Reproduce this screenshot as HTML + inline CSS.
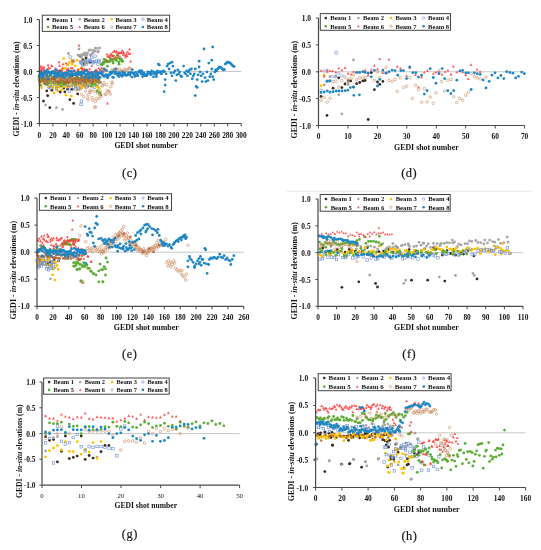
<!DOCTYPE html>
<html><head><meta charset="utf-8"><style>
html,body{margin:0;padding:0;background:#fff;}
svg{display:block;filter:blur(0.25px);}
</style></head><body>
<svg width="541" height="550" viewBox="0 0 541 550" style="font-family:'Liberation Serif',serif" fill="#111">
<rect width="541" height="550" fill="#fff"/>
<line x1="286.8" y1="191.3" x2="531.6" y2="191.3" stroke="#e6e6e6" stroke-width="1"/>
<line x1="39.4" y1="71.5" x2="241.2" y2="71.5" stroke="#c8c8c8" stroke-width="1"/>
<circle cx="46.8" cy="90.9" r="1.4" fill="#3a2a20"/>
<circle cx="47.7" cy="95.7" r="1.4" fill="#3a2a20"/>
<circle cx="43.5" cy="101.1" r="1.4" fill="#3a2a20"/>
<circle cx="49.8" cy="107.7" r="1.4" fill="#3a2a20"/>
<circle cx="60.2" cy="92.0" r="1.4" fill="#3a2a20"/>
<circle cx="64.8" cy="91.8" r="1.4" fill="#3a2a20"/>
<circle cx="67.6" cy="89.2" r="1.4" fill="#3a2a20"/>
<circle cx="69.9" cy="99.7" r="1.4" fill="#3a2a20"/>
<circle cx="73.6" cy="103.4" r="1.4" fill="#3a2a20"/>
<circle cx="75.9" cy="83.7" r="1.4" fill="#3a2a20"/>
<circle cx="77.7" cy="93.9" r="1.4" fill="#3a2a20"/>
<circle cx="63.9" cy="88.1" r="1.4" fill="#3a2a20"/>
<circle cx="51.9" cy="90.2" r="1.4" fill="#3a2a20"/>
<circle cx="80.0" cy="56.0" r="1.4" fill="#3a2a20"/>
<circle cx="83.0" cy="60.0" r="1.4" fill="#3a2a20"/>
<circle cx="86.0" cy="58.0" r="1.4" fill="#3a2a20"/>
<circle cx="90.0" cy="62.0" r="1.4" fill="#3a2a20"/>
<circle cx="84.0" cy="64.0" r="1.4" fill="#3a2a20"/>
<circle cx="72.0" cy="76.0" r="1.4" fill="#3a2a20"/>
<circle cx="55.0" cy="80.0" r="1.4" fill="#3a2a20"/>
<circle cx="48.0" cy="78.0" r="1.4" fill="#3a2a20"/>
<circle cx="40.9" cy="72.2" r="1.4" fill="#3a2a20"/>
<circle cx="43.3" cy="75.9" r="1.4" fill="#3a2a20"/>
<circle cx="45.9" cy="75.3" r="1.4" fill="#3a2a20"/>
<circle cx="48.0" cy="83.0" r="1.4" fill="#3a2a20"/>
<circle cx="49.3" cy="73.1" r="1.4" fill="#3a2a20"/>
<circle cx="53.6" cy="78.5" r="1.4" fill="#3a2a20"/>
<circle cx="55.7" cy="77.0" r="1.4" fill="#3a2a20"/>
<circle cx="57.9" cy="72.7" r="1.4" fill="#3a2a20"/>
<circle cx="59.9" cy="70.8" r="1.4" fill="#3a2a20"/>
<circle cx="61.7" cy="82.4" r="1.4" fill="#3a2a20"/>
<circle cx="65.1" cy="82.5" r="1.4" fill="#3a2a20"/>
<circle cx="65.5" cy="82.4" r="1.4" fill="#3a2a20"/>
<circle cx="68.4" cy="81.7" r="1.4" fill="#3a2a20"/>
<circle cx="72.0" cy="89.3" r="1.4" fill="#3a2a20"/>
<circle cx="74.3" cy="74.8" r="1.4" fill="#3a2a20"/>
<circle cx="75.4" cy="85.3" r="1.4" fill="#3a2a20"/>
<circle cx="78.9" cy="78.9" r="1.4" fill="#3a2a20"/>
<circle cx="81.6" cy="78.2" r="1.4" fill="#3a2a20"/>
<circle cx="83.7" cy="73.2" r="1.4" fill="#3a2a20"/>
<circle cx="85.0" cy="78.3" r="1.4" fill="#3a2a20"/>
<circle cx="88.0" cy="86.0" r="1.4" fill="#3a2a20"/>
<circle cx="89.4" cy="75.3" r="1.4" fill="#3a2a20"/>
<circle cx="92.0" cy="75.7" r="1.4" fill="#3a2a20"/>
<circle cx="94.0" cy="76.5" r="1.4" fill="#3a2a20"/>
<circle cx="96.1" cy="72.0" r="1.4" fill="#3a2a20"/>
<circle cx="45.6" cy="105.1" r="1.4" fill="#a6a6a6"/>
<circle cx="56.5" cy="107.7" r="1.4" fill="#a6a6a6"/>
<circle cx="62.5" cy="109.4" r="1.4" fill="#a6a6a6"/>
<circle cx="81.4" cy="87.4" r="1.4" fill="#a6a6a6"/>
<circle cx="68.5" cy="53.5" r="1.4" fill="#a6a6a6"/>
<circle cx="79.0" cy="49.0" r="1.4" fill="#a6a6a6"/>
<circle cx="78.0" cy="55.2" r="1.4" fill="#a6a6a6"/>
<circle cx="79.1" cy="55.6" r="1.4" fill="#a6a6a6"/>
<circle cx="80.7" cy="55.0" r="1.4" fill="#a6a6a6"/>
<circle cx="81.6" cy="57.8" r="1.4" fill="#a6a6a6"/>
<circle cx="81.7" cy="56.0" r="1.4" fill="#a6a6a6"/>
<circle cx="83.1" cy="54.2" r="1.4" fill="#a6a6a6"/>
<circle cx="84.3" cy="54.9" r="1.4" fill="#a6a6a6"/>
<circle cx="84.7" cy="52.9" r="1.4" fill="#a6a6a6"/>
<circle cx="85.4" cy="55.3" r="1.4" fill="#a6a6a6"/>
<circle cx="86.9" cy="55.4" r="1.4" fill="#a6a6a6"/>
<circle cx="87.3" cy="53.2" r="1.4" fill="#a6a6a6"/>
<circle cx="89.0" cy="50.6" r="1.4" fill="#a6a6a6"/>
<circle cx="89.8" cy="49.9" r="1.4" fill="#a6a6a6"/>
<circle cx="90.4" cy="55.0" r="1.4" fill="#a6a6a6"/>
<circle cx="91.6" cy="54.4" r="1.4" fill="#a6a6a6"/>
<circle cx="92.5" cy="50.2" r="1.4" fill="#a6a6a6"/>
<circle cx="93.1" cy="52.7" r="1.4" fill="#a6a6a6"/>
<circle cx="94.4" cy="51.2" r="1.4" fill="#a6a6a6"/>
<circle cx="95.0" cy="51.0" r="1.4" fill="#a6a6a6"/>
<circle cx="95.4" cy="48.2" r="1.4" fill="#a6a6a6"/>
<circle cx="96.6" cy="48.3" r="1.4" fill="#a6a6a6"/>
<circle cx="97.8" cy="52.1" r="1.4" fill="#a6a6a6"/>
<circle cx="98.3" cy="51.2" r="1.4" fill="#a6a6a6"/>
<circle cx="99.5" cy="48.0" r="1.4" fill="#a6a6a6"/>
<circle cx="42.7" cy="73.9" r="1.4" fill="#a6a6a6"/>
<circle cx="44.4" cy="75.5" r="1.4" fill="#a6a6a6"/>
<circle cx="46.4" cy="75.3" r="1.4" fill="#a6a6a6"/>
<circle cx="50.5" cy="74.6" r="1.4" fill="#a6a6a6"/>
<circle cx="52.5" cy="72.8" r="1.4" fill="#a6a6a6"/>
<circle cx="55.9" cy="76.7" r="1.4" fill="#a6a6a6"/>
<circle cx="58.6" cy="73.8" r="1.4" fill="#a6a6a6"/>
<circle cx="62.9" cy="76.8" r="1.4" fill="#a6a6a6"/>
<circle cx="64.5" cy="81.4" r="1.4" fill="#a6a6a6"/>
<circle cx="69.3" cy="77.6" r="1.4" fill="#a6a6a6"/>
<circle cx="70.7" cy="71.2" r="1.4" fill="#a6a6a6"/>
<circle cx="75.8" cy="78.8" r="1.4" fill="#a6a6a6"/>
<circle cx="76.1" cy="78.5" r="1.4" fill="#a6a6a6"/>
<circle cx="79.4" cy="74.5" r="1.4" fill="#a6a6a6"/>
<circle cx="82.3" cy="74.0" r="1.4" fill="#a6a6a6"/>
<circle cx="87.8" cy="74.5" r="1.4" fill="#a6a6a6"/>
<circle cx="90.7" cy="76.1" r="1.4" fill="#a6a6a6"/>
<circle cx="92.0" cy="73.9" r="1.4" fill="#a6a6a6"/>
<circle cx="95.2" cy="77.1" r="1.4" fill="#a6a6a6"/>
<circle cx="99.3" cy="76.9" r="1.4" fill="#a6a6a6"/>
<circle cx="54.2" cy="92.9" r="1.4" fill="#ffc000"/>
<circle cx="56.5" cy="89.2" r="1.4" fill="#ffc000"/>
<circle cx="57.9" cy="91.1" r="1.4" fill="#ffc000"/>
<circle cx="62.0" cy="89.7" r="1.4" fill="#ffc000"/>
<circle cx="63.9" cy="86.5" r="1.4" fill="#ffc000"/>
<circle cx="71.3" cy="96.2" r="1.4" fill="#ffc000"/>
<circle cx="72.2" cy="85.1" r="1.4" fill="#ffc000"/>
<circle cx="50.9" cy="86.0" r="1.4" fill="#ffc000"/>
<circle cx="67.6" cy="85.1" r="1.4" fill="#ffc000"/>
<circle cx="53.0" cy="88.0" r="1.4" fill="#ffc000"/>
<circle cx="60.0" cy="87.0" r="1.4" fill="#ffc000"/>
<circle cx="66.0" cy="95.0" r="1.4" fill="#ffc000"/>
<circle cx="39.8" cy="84.6" r="1.4" fill="#ffc000"/>
<circle cx="40.5" cy="82.2" r="1.4" fill="#ffc000"/>
<circle cx="41.7" cy="87.8" r="1.4" fill="#ffc000"/>
<circle cx="43.2" cy="80.8" r="1.4" fill="#ffc000"/>
<circle cx="44.3" cy="81.4" r="1.4" fill="#ffc000"/>
<circle cx="45.0" cy="84.0" r="1.4" fill="#ffc000"/>
<circle cx="46.3" cy="83.5" r="1.4" fill="#ffc000"/>
<circle cx="47.4" cy="77.7" r="1.4" fill="#ffc000"/>
<circle cx="48.7" cy="86.8" r="1.4" fill="#ffc000"/>
<circle cx="49.9" cy="86.9" r="1.4" fill="#ffc000"/>
<circle cx="50.9" cy="83.4" r="1.4" fill="#ffc000"/>
<circle cx="51.2" cy="84.0" r="1.4" fill="#ffc000"/>
<circle cx="52.7" cy="87.1" r="1.4" fill="#ffc000"/>
<circle cx="53.7" cy="83.0" r="1.4" fill="#ffc000"/>
<circle cx="55.4" cy="85.2" r="1.4" fill="#ffc000"/>
<circle cx="56.5" cy="85.1" r="1.4" fill="#ffc000"/>
<circle cx="56.8" cy="86.8" r="1.4" fill="#ffc000"/>
<circle cx="58.9" cy="86.8" r="1.4" fill="#ffc000"/>
<circle cx="59.2" cy="85.1" r="1.4" fill="#ffc000"/>
<circle cx="60.5" cy="85.9" r="1.4" fill="#ffc000"/>
<circle cx="62.0" cy="83.5" r="1.4" fill="#ffc000"/>
<circle cx="62.3" cy="82.9" r="1.4" fill="#ffc000"/>
<circle cx="64.4" cy="80.6" r="1.4" fill="#ffc000"/>
<circle cx="65.2" cy="86.3" r="1.4" fill="#ffc000"/>
<circle cx="66.2" cy="82.8" r="1.4" fill="#ffc000"/>
<circle cx="67.5" cy="86.7" r="1.4" fill="#ffc000"/>
<circle cx="68.4" cy="86.4" r="1.4" fill="#ffc000"/>
<circle cx="69.7" cy="82.3" r="1.4" fill="#ffc000"/>
<circle cx="70.9" cy="86.4" r="1.4" fill="#ffc000"/>
<circle cx="72.1" cy="84.3" r="1.4" fill="#ffc000"/>
<circle cx="72.9" cy="83.1" r="1.4" fill="#ffc000"/>
<circle cx="73.5" cy="84.6" r="1.4" fill="#ffc000"/>
<circle cx="75.5" cy="86.5" r="1.4" fill="#ffc000"/>
<circle cx="76.4" cy="83.4" r="1.4" fill="#ffc000"/>
<circle cx="76.9" cy="90.0" r="1.4" fill="#ffc000"/>
<circle cx="78.6" cy="84.6" r="1.4" fill="#ffc000"/>
<circle cx="79.4" cy="85.6" r="1.4" fill="#ffc000"/>
<circle cx="80.4" cy="87.6" r="1.4" fill="#ffc000"/>
<circle cx="81.8" cy="88.0" r="1.4" fill="#ffc000"/>
<circle cx="83.2" cy="85.4" r="1.4" fill="#ffc000"/>
<circle cx="83.5" cy="84.7" r="1.4" fill="#ffc000"/>
<circle cx="84.8" cy="86.5" r="1.4" fill="#ffc000"/>
<circle cx="86.5" cy="82.2" r="1.4" fill="#ffc000"/>
<circle cx="87.3" cy="85.6" r="1.4" fill="#ffc000"/>
<circle cx="88.2" cy="83.2" r="1.4" fill="#ffc000"/>
<circle cx="89.4" cy="83.4" r="1.4" fill="#ffc000"/>
<circle cx="90.4" cy="81.1" r="1.4" fill="#ffc000"/>
<circle cx="91.4" cy="82.9" r="1.4" fill="#ffc000"/>
<circle cx="92.6" cy="86.6" r="1.4" fill="#ffc000"/>
<circle cx="93.5" cy="82.6" r="1.4" fill="#ffc000"/>
<circle cx="95.4" cy="83.1" r="1.4" fill="#ffc000"/>
<circle cx="95.8" cy="84.3" r="1.4" fill="#ffc000"/>
<circle cx="97.3" cy="86.3" r="1.4" fill="#ffc000"/>
<circle cx="98.2" cy="87.2" r="1.4" fill="#ffc000"/>
<circle cx="99.1" cy="88.7" r="1.4" fill="#ffc000"/>
<circle cx="62.3" cy="69.2" r="1.4" fill="#ffc000"/>
<circle cx="63.8" cy="58.6" r="1.4" fill="#ffc000"/>
<circle cx="65.1" cy="68.3" r="1.4" fill="#ffc000"/>
<circle cx="67.4" cy="65.2" r="1.4" fill="#ffc000"/>
<circle cx="68.0" cy="64.7" r="1.4" fill="#ffc000"/>
<circle cx="69.3" cy="62.4" r="1.4" fill="#ffc000"/>
<circle cx="71.6" cy="60.5" r="1.4" fill="#ffc000"/>
<circle cx="72.2" cy="64.0" r="1.4" fill="#ffc000"/>
<circle cx="73.6" cy="61.0" r="1.4" fill="#ffc000"/>
<circle cx="75.3" cy="65.8" r="1.4" fill="#ffc000"/>
<circle cx="77.0" cy="60.4" r="1.4" fill="#ffc000"/>
<circle cx="78.6" cy="69.4" r="1.4" fill="#ffc000"/>
<circle cx="80.2" cy="61.6" r="1.4" fill="#ffc000"/>
<circle cx="81.7" cy="68.1" r="1.4" fill="#ffc000"/>
<circle cx="83.6" cy="61.2" r="1.4" fill="#ffc000"/>
<circle cx="83.8" cy="69.1" r="1.4" fill="#ffc000"/>
<circle cx="85.4" cy="63.7" r="1.4" fill="#ffc000"/>
<circle cx="87.1" cy="62.9" r="1.4" fill="#ffc000"/>
<rect x="49.6" y="87.0" width="2.5" height="2.5" fill="none" stroke="#6a8ed8" stroke-width="0.6"/>
<rect x="68.2" y="89.8" width="2.5" height="2.5" fill="none" stroke="#6a8ed8" stroke-width="0.6"/>
<rect x="74.7" y="87.5" width="2.5" height="2.5" fill="none" stroke="#6a8ed8" stroke-width="0.6"/>
<rect x="77.5" y="88.0" width="2.5" height="2.5" fill="none" stroke="#6a8ed8" stroke-width="0.6"/>
<rect x="80.2" y="100.0" width="2.5" height="2.5" fill="none" stroke="#6a8ed8" stroke-width="0.6"/>
<rect x="79.8" y="103.2" width="2.5" height="2.5" fill="none" stroke="#6a8ed8" stroke-width="0.6"/>
<rect x="76.5" y="82.5" width="2.5" height="2.5" fill="none" stroke="#6a8ed8" stroke-width="0.6"/>
<rect x="55.2" y="83.0" width="2.5" height="2.5" fill="none" stroke="#6a8ed8" stroke-width="0.6"/>
<rect x="71.8" y="59.8" width="2.5" height="2.5" fill="none" stroke="#6a8ed8" stroke-width="0.6"/>
<rect x="68.8" y="55.8" width="2.5" height="2.5" fill="none" stroke="#6a8ed8" stroke-width="0.6"/>
<rect x="39.3" y="77.4" width="2.5" height="2.5" fill="none" stroke="#6a8ed8" stroke-width="0.6"/>
<rect x="40.9" y="77.9" width="2.5" height="2.5" fill="none" stroke="#6a8ed8" stroke-width="0.6"/>
<rect x="44.5" y="81.9" width="2.5" height="2.5" fill="none" stroke="#6a8ed8" stroke-width="0.6"/>
<rect x="45.7" y="82.9" width="2.5" height="2.5" fill="none" stroke="#6a8ed8" stroke-width="0.6"/>
<rect x="47.9" y="85.9" width="2.5" height="2.5" fill="none" stroke="#6a8ed8" stroke-width="0.6"/>
<rect x="51.2" y="83.0" width="2.5" height="2.5" fill="none" stroke="#6a8ed8" stroke-width="0.6"/>
<rect x="54.1" y="81.3" width="2.5" height="2.5" fill="none" stroke="#6a8ed8" stroke-width="0.6"/>
<rect x="55.4" y="87.6" width="2.5" height="2.5" fill="none" stroke="#6a8ed8" stroke-width="0.6"/>
<rect x="59.5" y="82.8" width="2.5" height="2.5" fill="none" stroke="#6a8ed8" stroke-width="0.6"/>
<rect x="62.0" y="75.9" width="2.5" height="2.5" fill="none" stroke="#6a8ed8" stroke-width="0.6"/>
<rect x="64.0" y="82.9" width="2.5" height="2.5" fill="none" stroke="#6a8ed8" stroke-width="0.6"/>
<rect x="66.4" y="82.9" width="2.5" height="2.5" fill="none" stroke="#6a8ed8" stroke-width="0.6"/>
<rect x="67.5" y="86.5" width="2.5" height="2.5" fill="none" stroke="#6a8ed8" stroke-width="0.6"/>
<rect x="70.0" y="82.9" width="2.5" height="2.5" fill="none" stroke="#6a8ed8" stroke-width="0.6"/>
<rect x="72.6" y="86.1" width="2.5" height="2.5" fill="none" stroke="#6a8ed8" stroke-width="0.6"/>
<rect x="76.7" y="86.8" width="2.5" height="2.5" fill="none" stroke="#6a8ed8" stroke-width="0.6"/>
<rect x="78.2" y="75.6" width="2.5" height="2.5" fill="none" stroke="#6a8ed8" stroke-width="0.6"/>
<rect x="80.0" y="81.0" width="2.5" height="2.5" fill="none" stroke="#6a8ed8" stroke-width="0.6"/>
<rect x="83.9" y="81.7" width="2.5" height="2.5" fill="none" stroke="#6a8ed8" stroke-width="0.6"/>
<rect x="85.5" y="85.6" width="2.5" height="2.5" fill="none" stroke="#6a8ed8" stroke-width="0.6"/>
<rect x="88.7" y="84.2" width="2.5" height="2.5" fill="none" stroke="#6a8ed8" stroke-width="0.6"/>
<rect x="89.6" y="80.9" width="2.5" height="2.5" fill="none" stroke="#6a8ed8" stroke-width="0.6"/>
<rect x="93.3" y="86.0" width="2.5" height="2.5" fill="none" stroke="#6a8ed8" stroke-width="0.6"/>
<rect x="95.7" y="82.7" width="2.5" height="2.5" fill="none" stroke="#6a8ed8" stroke-width="0.6"/>
<rect x="98.7" y="81.1" width="2.5" height="2.5" fill="none" stroke="#6a8ed8" stroke-width="0.6"/>
<rect x="79.2" y="60.9" width="2.5" height="2.5" fill="none" stroke="#6a8ed8" stroke-width="0.6"/>
<rect x="80.5" y="61.6" width="2.5" height="2.5" fill="none" stroke="#6a8ed8" stroke-width="0.6"/>
<rect x="81.5" y="64.0" width="2.5" height="2.5" fill="none" stroke="#6a8ed8" stroke-width="0.6"/>
<rect x="81.8" y="62.6" width="2.5" height="2.5" fill="none" stroke="#6a8ed8" stroke-width="0.6"/>
<rect x="83.1" y="60.2" width="2.5" height="2.5" fill="none" stroke="#6a8ed8" stroke-width="0.6"/>
<rect x="84.3" y="59.4" width="2.5" height="2.5" fill="none" stroke="#6a8ed8" stroke-width="0.6"/>
<rect x="85.0" y="62.9" width="2.5" height="2.5" fill="none" stroke="#6a8ed8" stroke-width="0.6"/>
<rect x="86.1" y="60.9" width="2.5" height="2.5" fill="none" stroke="#6a8ed8" stroke-width="0.6"/>
<rect x="86.8" y="59.1" width="2.5" height="2.5" fill="none" stroke="#6a8ed8" stroke-width="0.6"/>
<rect x="88.5" y="59.2" width="2.5" height="2.5" fill="none" stroke="#6a8ed8" stroke-width="0.6"/>
<rect x="89.1" y="61.3" width="2.5" height="2.5" fill="none" stroke="#6a8ed8" stroke-width="0.6"/>
<rect x="90.6" y="56.2" width="2.5" height="2.5" fill="none" stroke="#6a8ed8" stroke-width="0.6"/>
<rect x="91.3" y="60.4" width="2.5" height="2.5" fill="none" stroke="#6a8ed8" stroke-width="0.6"/>
<rect x="92.2" y="61.5" width="2.5" height="2.5" fill="none" stroke="#6a8ed8" stroke-width="0.6"/>
<rect x="93.5" y="60.3" width="2.5" height="2.5" fill="none" stroke="#6a8ed8" stroke-width="0.6"/>
<rect x="94.0" y="54.9" width="2.5" height="2.5" fill="none" stroke="#6a8ed8" stroke-width="0.6"/>
<rect x="95.2" y="59.9" width="2.5" height="2.5" fill="none" stroke="#6a8ed8" stroke-width="0.6"/>
<rect x="96.7" y="62.8" width="2.5" height="2.5" fill="none" stroke="#6a8ed8" stroke-width="0.6"/>
<rect x="97.5" y="60.5" width="2.5" height="2.5" fill="none" stroke="#6a8ed8" stroke-width="0.6"/>
<rect x="97.8" y="59.1" width="2.5" height="2.5" fill="none" stroke="#6a8ed8" stroke-width="0.6"/>
<circle cx="39.0" cy="77.0" r="1.4" fill="#5cad34"/>
<circle cx="40.0" cy="82.0" r="1.4" fill="#5cad34"/>
<circle cx="40.7" cy="85.3" r="1.4" fill="#5cad34"/>
<circle cx="41.5" cy="78.4" r="1.4" fill="#5cad34"/>
<circle cx="42.3" cy="80.3" r="1.4" fill="#5cad34"/>
<circle cx="43.2" cy="79.3" r="1.4" fill="#5cad34"/>
<circle cx="44.2" cy="81.5" r="1.4" fill="#5cad34"/>
<circle cx="44.5" cy="78.7" r="1.4" fill="#5cad34"/>
<circle cx="45.8" cy="80.4" r="1.4" fill="#5cad34"/>
<circle cx="46.6" cy="84.4" r="1.4" fill="#5cad34"/>
<circle cx="47.3" cy="76.4" r="1.4" fill="#5cad34"/>
<circle cx="47.4" cy="83.6" r="1.4" fill="#5cad34"/>
<circle cx="48.3" cy="76.4" r="1.4" fill="#5cad34"/>
<circle cx="49.2" cy="83.0" r="1.4" fill="#5cad34"/>
<circle cx="50.1" cy="80.8" r="1.4" fill="#5cad34"/>
<circle cx="50.5" cy="80.6" r="1.4" fill="#5cad34"/>
<circle cx="51.3" cy="79.1" r="1.4" fill="#5cad34"/>
<circle cx="52.2" cy="78.7" r="1.4" fill="#5cad34"/>
<circle cx="53.2" cy="77.0" r="1.4" fill="#5cad34"/>
<circle cx="53.6" cy="78.7" r="1.4" fill="#5cad34"/>
<circle cx="54.7" cy="81.5" r="1.4" fill="#5cad34"/>
<circle cx="55.2" cy="77.7" r="1.4" fill="#5cad34"/>
<circle cx="56.2" cy="82.4" r="1.4" fill="#5cad34"/>
<circle cx="57.1" cy="82.3" r="1.4" fill="#5cad34"/>
<circle cx="58.0" cy="81.8" r="1.4" fill="#5cad34"/>
<circle cx="58.3" cy="83.8" r="1.4" fill="#5cad34"/>
<circle cx="59.4" cy="83.0" r="1.4" fill="#5cad34"/>
<circle cx="59.8" cy="76.9" r="1.4" fill="#5cad34"/>
<circle cx="61.0" cy="83.0" r="1.4" fill="#5cad34"/>
<circle cx="61.3" cy="86.0" r="1.4" fill="#5cad34"/>
<circle cx="62.0" cy="81.5" r="1.4" fill="#5cad34"/>
<circle cx="63.0" cy="74.3" r="1.4" fill="#5cad34"/>
<circle cx="63.6" cy="84.3" r="1.4" fill="#5cad34"/>
<circle cx="64.4" cy="80.1" r="1.4" fill="#5cad34"/>
<circle cx="65.5" cy="83.6" r="1.4" fill="#5cad34"/>
<circle cx="66.1" cy="79.3" r="1.4" fill="#5cad34"/>
<circle cx="66.7" cy="82.5" r="1.4" fill="#5cad34"/>
<circle cx="67.8" cy="78.4" r="1.4" fill="#5cad34"/>
<circle cx="68.0" cy="79.8" r="1.4" fill="#5cad34"/>
<circle cx="69.0" cy="81.0" r="1.4" fill="#5cad34"/>
<circle cx="69.5" cy="80.4" r="1.4" fill="#5cad34"/>
<circle cx="70.4" cy="78.9" r="1.4" fill="#5cad34"/>
<circle cx="71.7" cy="80.1" r="1.4" fill="#5cad34"/>
<circle cx="72.3" cy="81.2" r="1.4" fill="#5cad34"/>
<circle cx="73.2" cy="79.2" r="1.4" fill="#5cad34"/>
<circle cx="73.7" cy="83.0" r="1.4" fill="#5cad34"/>
<circle cx="74.3" cy="82.7" r="1.4" fill="#5cad34"/>
<circle cx="75.4" cy="78.1" r="1.4" fill="#5cad34"/>
<circle cx="75.9" cy="81.5" r="1.4" fill="#5cad34"/>
<circle cx="76.9" cy="78.4" r="1.4" fill="#5cad34"/>
<circle cx="77.5" cy="77.6" r="1.4" fill="#5cad34"/>
<circle cx="78.4" cy="78.4" r="1.4" fill="#5cad34"/>
<circle cx="79.0" cy="82.2" r="1.4" fill="#5cad34"/>
<circle cx="79.5" cy="82.3" r="1.4" fill="#5cad34"/>
<circle cx="80.8" cy="83.7" r="1.4" fill="#5cad34"/>
<circle cx="81.3" cy="80.8" r="1.4" fill="#5cad34"/>
<circle cx="82.1" cy="77.5" r="1.4" fill="#5cad34"/>
<circle cx="82.6" cy="79.9" r="1.4" fill="#5cad34"/>
<circle cx="83.5" cy="77.2" r="1.4" fill="#5cad34"/>
<circle cx="84.4" cy="77.2" r="1.4" fill="#5cad34"/>
<circle cx="85.3" cy="82.9" r="1.4" fill="#5cad34"/>
<circle cx="86.2" cy="83.3" r="1.4" fill="#5cad34"/>
<circle cx="86.5" cy="78.4" r="1.4" fill="#5cad34"/>
<circle cx="87.4" cy="79.0" r="1.4" fill="#5cad34"/>
<circle cx="87.9" cy="79.7" r="1.4" fill="#5cad34"/>
<circle cx="88.8" cy="80.2" r="1.4" fill="#5cad34"/>
<circle cx="90.1" cy="76.5" r="1.4" fill="#5cad34"/>
<circle cx="90.3" cy="79.0" r="1.4" fill="#5cad34"/>
<circle cx="91.2" cy="86.1" r="1.4" fill="#5cad34"/>
<circle cx="91.8" cy="81.6" r="1.4" fill="#5cad34"/>
<circle cx="92.7" cy="84.2" r="1.4" fill="#5cad34"/>
<circle cx="93.6" cy="79.4" r="1.4" fill="#5cad34"/>
<circle cx="94.1" cy="79.7" r="1.4" fill="#5cad34"/>
<circle cx="95.2" cy="84.3" r="1.4" fill="#5cad34"/>
<circle cx="96.1" cy="77.1" r="1.4" fill="#5cad34"/>
<circle cx="96.7" cy="76.5" r="1.4" fill="#5cad34"/>
<circle cx="97.0" cy="79.0" r="1.4" fill="#5cad34"/>
<circle cx="98.0" cy="82.1" r="1.4" fill="#5cad34"/>
<circle cx="98.9" cy="81.1" r="1.4" fill="#5cad34"/>
<circle cx="99.7" cy="77.4" r="1.4" fill="#5cad34"/>
<circle cx="101.3" cy="64.4" r="1.4" fill="#5cad34"/>
<circle cx="102.0" cy="65.0" r="1.4" fill="#5cad34"/>
<circle cx="102.9" cy="62.5" r="1.4" fill="#5cad34"/>
<circle cx="103.5" cy="63.7" r="1.4" fill="#5cad34"/>
<circle cx="104.1" cy="59.3" r="1.4" fill="#5cad34"/>
<circle cx="104.8" cy="62.0" r="1.4" fill="#5cad34"/>
<circle cx="105.5" cy="59.9" r="1.4" fill="#5cad34"/>
<circle cx="106.1" cy="60.5" r="1.4" fill="#5cad34"/>
<circle cx="106.9" cy="61.9" r="1.4" fill="#5cad34"/>
<circle cx="107.5" cy="66.2" r="1.4" fill="#5cad34"/>
<circle cx="108.4" cy="61.3" r="1.4" fill="#5cad34"/>
<circle cx="108.8" cy="61.8" r="1.4" fill="#5cad34"/>
<circle cx="109.6" cy="61.5" r="1.4" fill="#5cad34"/>
<circle cx="110.2" cy="58.9" r="1.4" fill="#5cad34"/>
<circle cx="111.1" cy="59.5" r="1.4" fill="#5cad34"/>
<circle cx="111.7" cy="59.0" r="1.4" fill="#5cad34"/>
<circle cx="112.6" cy="61.3" r="1.4" fill="#5cad34"/>
<circle cx="113.2" cy="63.0" r="1.4" fill="#5cad34"/>
<circle cx="113.4" cy="55.8" r="1.4" fill="#5cad34"/>
<circle cx="114.6" cy="59.6" r="1.4" fill="#5cad34"/>
<circle cx="115.3" cy="58.6" r="1.4" fill="#5cad34"/>
<circle cx="115.8" cy="59.2" r="1.4" fill="#5cad34"/>
<circle cx="116.6" cy="60.6" r="1.4" fill="#5cad34"/>
<circle cx="117.3" cy="55.3" r="1.4" fill="#5cad34"/>
<circle cx="118.1" cy="57.8" r="1.4" fill="#5cad34"/>
<circle cx="118.8" cy="62.1" r="1.4" fill="#5cad34"/>
<circle cx="119.1" cy="64.2" r="1.4" fill="#5cad34"/>
<circle cx="119.8" cy="59.1" r="1.4" fill="#5cad34"/>
<circle cx="120.8" cy="59.8" r="1.4" fill="#5cad34"/>
<circle cx="121.4" cy="59.2" r="1.4" fill="#5cad34"/>
<circle cx="121.9" cy="61.4" r="1.4" fill="#5cad34"/>
<circle cx="122.9" cy="61.1" r="1.4" fill="#5cad34"/>
<circle cx="97.0" cy="91.0" r="1.4" fill="#5cad34"/>
<circle cx="100.0" cy="93.0" r="1.4" fill="#5cad34"/>
<circle cx="101.0" cy="95.0" r="1.4" fill="#5cad34"/>
<circle cx="99.0" cy="92.5" r="1.4" fill="#5cad34"/>
<circle cx="90.0" cy="79.0" r="1.4" fill="#5cad34"/>
<circle cx="92.0" cy="82.0" r="1.4" fill="#5cad34"/>
<path d="M39.7 67.8L41.1 70.4L38.2 70.4Z" fill="#ff3c3c" fill-opacity="0.85"/>
<path d="M40.3 66.0L41.8 68.7L38.9 68.7Z" fill="#ff3c3c" fill-opacity="0.85"/>
<path d="M41.3 68.5L42.8 71.1L39.9 71.1Z" fill="#ff3c3c" fill-opacity="0.85"/>
<path d="M42.1 67.4L43.6 70.0L40.7 70.0Z" fill="#ff3c3c" fill-opacity="0.85"/>
<path d="M42.5 65.9L44.0 68.5L41.1 68.5Z" fill="#ff3c3c" fill-opacity="0.85"/>
<path d="M43.3 68.1L44.8 70.7L41.9 70.7Z" fill="#ff3c3c" fill-opacity="0.85"/>
<path d="M43.8 70.2L45.3 72.8L42.4 72.8Z" fill="#ff3c3c" fill-opacity="0.85"/>
<path d="M44.6 68.0L46.0 70.6L43.1 70.6Z" fill="#ff3c3c" fill-opacity="0.85"/>
<path d="M46.0 71.1L47.4 73.7L44.5 73.7Z" fill="#ff3c3c" fill-opacity="0.85"/>
<path d="M46.5 70.7L47.9 73.3L45.0 73.3Z" fill="#ff3c3c" fill-opacity="0.85"/>
<path d="M47.0 72.2L48.4 74.8L45.5 74.8Z" fill="#ff3c3c" fill-opacity="0.85"/>
<path d="M47.8 69.0L49.3 71.6L46.4 71.6Z" fill="#ff3c3c" fill-opacity="0.85"/>
<path d="M48.5 66.1L50.0 68.7L47.1 68.7Z" fill="#ff3c3c" fill-opacity="0.85"/>
<path d="M50.0 66.7L51.4 69.3L48.5 69.3Z" fill="#ff3c3c" fill-opacity="0.85"/>
<path d="M50.2 70.5L51.6 73.1L48.7 73.1Z" fill="#ff3c3c" fill-opacity="0.85"/>
<path d="M51.5 70.8L53.0 73.4L50.1 73.4Z" fill="#ff3c3c" fill-opacity="0.85"/>
<path d="M51.7 64.2L53.2 66.8L50.3 66.8Z" fill="#ff3c3c" fill-opacity="0.85"/>
<path d="M52.5 70.4L53.9 73.0L51.0 73.0Z" fill="#ff3c3c" fill-opacity="0.85"/>
<path d="M53.2 69.5L54.7 72.1L51.8 72.1Z" fill="#ff3c3c" fill-opacity="0.85"/>
<path d="M54.2 70.8L55.7 73.4L52.8 73.4Z" fill="#ff3c3c" fill-opacity="0.85"/>
<path d="M55.0 67.8L56.5 70.4L53.6 70.4Z" fill="#ff3c3c" fill-opacity="0.85"/>
<path d="M55.7 66.9L57.1 69.5L54.2 69.5Z" fill="#ff3c3c" fill-opacity="0.85"/>
<path d="M56.7 68.7L58.1 71.3L55.2 71.3Z" fill="#ff3c3c" fill-opacity="0.85"/>
<path d="M57.9 69.3L59.3 71.9L56.4 71.9Z" fill="#ff3c3c" fill-opacity="0.85"/>
<path d="M58.2 71.7L59.7 74.4L56.8 74.4Z" fill="#ff3c3c" fill-opacity="0.85"/>
<path d="M59.0 72.4L60.5 75.1L57.6 75.1Z" fill="#ff3c3c" fill-opacity="0.85"/>
<path d="M59.6 64.1L61.1 66.7L58.2 66.7Z" fill="#ff3c3c" fill-opacity="0.85"/>
<path d="M61.0 69.8L62.5 72.4L59.6 72.4Z" fill="#ff3c3c" fill-opacity="0.85"/>
<path d="M61.5 70.1L62.9 72.7L60.0 72.7Z" fill="#ff3c3c" fill-opacity="0.85"/>
<path d="M62.0 68.5L63.4 71.1L60.5 71.1Z" fill="#ff3c3c" fill-opacity="0.85"/>
<path d="M62.8 66.1L64.3 68.7L61.4 68.7Z" fill="#ff3c3c" fill-opacity="0.85"/>
<path d="M64.0 73.3L65.5 75.9L62.6 75.9Z" fill="#ff3c3c" fill-opacity="0.85"/>
<path d="M64.5 71.2L65.9 73.8L63.0 73.8Z" fill="#ff3c3c" fill-opacity="0.85"/>
<path d="M65.4 72.1L66.8 74.7L63.9 74.7Z" fill="#ff3c3c" fill-opacity="0.85"/>
<path d="M65.8 70.6L67.3 73.2L64.4 73.2Z" fill="#ff3c3c" fill-opacity="0.85"/>
<path d="M66.9 68.1L68.4 70.8L65.5 70.8Z" fill="#ff3c3c" fill-opacity="0.85"/>
<path d="M67.4 68.6L68.9 71.2L66.0 71.2Z" fill="#ff3c3c" fill-opacity="0.85"/>
<path d="M68.2 66.9L69.6 69.5L66.7 69.5Z" fill="#ff3c3c" fill-opacity="0.85"/>
<path d="M69.5 72.7L70.9 75.3L68.0 75.3Z" fill="#ff3c3c" fill-opacity="0.85"/>
<path d="M70.3 72.3L71.7 74.9L68.8 74.9Z" fill="#ff3c3c" fill-opacity="0.85"/>
<path d="M71.0 66.3L72.5 68.9L69.6 68.9Z" fill="#ff3c3c" fill-opacity="0.85"/>
<path d="M71.6 69.7L73.1 72.4L70.2 72.4Z" fill="#ff3c3c" fill-opacity="0.85"/>
<path d="M72.5 66.6L73.9 69.2L71.0 69.2Z" fill="#ff3c3c" fill-opacity="0.85"/>
<path d="M73.0 69.5L74.4 72.1L71.5 72.1Z" fill="#ff3c3c" fill-opacity="0.85"/>
<path d="M74.4 69.1L75.9 71.7L73.0 71.7Z" fill="#ff3c3c" fill-opacity="0.85"/>
<path d="M75.0 71.2L76.5 73.8L73.6 73.8Z" fill="#ff3c3c" fill-opacity="0.85"/>
<path d="M75.5 71.1L77.0 73.7L74.1 73.7Z" fill="#ff3c3c" fill-opacity="0.85"/>
<path d="M76.2 71.8L77.7 74.4L74.8 74.4Z" fill="#ff3c3c" fill-opacity="0.85"/>
<path d="M77.6 68.3L79.0 70.9L76.1 70.9Z" fill="#ff3c3c" fill-opacity="0.85"/>
<path d="M78.0 70.5L79.5 73.1L76.6 73.1Z" fill="#ff3c3c" fill-opacity="0.85"/>
<path d="M78.5 69.1L79.9 71.7L77.0 71.7Z" fill="#ff3c3c" fill-opacity="0.85"/>
<path d="M79.3 70.9L80.8 73.5L77.9 73.5Z" fill="#ff3c3c" fill-opacity="0.85"/>
<path d="M80.4 72.7L81.8 75.3L78.9 75.3Z" fill="#ff3c3c" fill-opacity="0.85"/>
<path d="M81.2 66.5L82.7 69.1L79.8 69.1Z" fill="#ff3c3c" fill-opacity="0.85"/>
<path d="M82.2 68.2L83.7 70.8L80.8 70.8Z" fill="#ff3c3c" fill-opacity="0.85"/>
<path d="M82.8 67.6L84.3 70.2L81.4 70.2Z" fill="#ff3c3c" fill-opacity="0.85"/>
<path d="M83.3 69.5L84.8 72.1L81.9 72.1Z" fill="#ff3c3c" fill-opacity="0.85"/>
<path d="M84.7 67.7L86.1 70.4L83.2 70.4Z" fill="#ff3c3c" fill-opacity="0.85"/>
<path d="M85.1 69.1L86.6 71.7L83.7 71.7Z" fill="#ff3c3c" fill-opacity="0.85"/>
<path d="M86.0 72.9L87.5 75.5L84.6 75.5Z" fill="#ff3c3c" fill-opacity="0.85"/>
<path d="M86.8 67.9L88.2 70.6L85.3 70.6Z" fill="#ff3c3c" fill-opacity="0.85"/>
<path d="M87.6 69.3L89.1 71.9L86.2 71.9Z" fill="#ff3c3c" fill-opacity="0.85"/>
<path d="M88.0 70.4L89.5 73.0L86.6 73.0Z" fill="#ff3c3c" fill-opacity="0.85"/>
<path d="M88.8 70.2L90.2 72.8L87.3 72.8Z" fill="#ff3c3c" fill-opacity="0.85"/>
<path d="M89.7 67.4L91.1 70.0L88.2 70.0Z" fill="#ff3c3c" fill-opacity="0.85"/>
<path d="M90.3 70.8L91.7 73.4L88.8 73.4Z" fill="#ff3c3c" fill-opacity="0.85"/>
<path d="M91.8 70.6L93.2 73.2L90.3 73.2Z" fill="#ff3c3c" fill-opacity="0.85"/>
<path d="M91.9 64.2L93.4 66.8L90.5 66.8Z" fill="#ff3c3c" fill-opacity="0.85"/>
<path d="M93.2 70.8L94.6 73.4L91.7 73.4Z" fill="#ff3c3c" fill-opacity="0.85"/>
<path d="M93.5 71.9L95.0 74.5L92.1 74.5Z" fill="#ff3c3c" fill-opacity="0.85"/>
<path d="M94.8 70.0L96.2 72.6L93.3 72.6Z" fill="#ff3c3c" fill-opacity="0.85"/>
<path d="M95.1 69.6L96.5 72.2L93.6 72.2Z" fill="#ff3c3c" fill-opacity="0.85"/>
<path d="M95.9 68.4L97.3 71.0L94.4 71.0Z" fill="#ff3c3c" fill-opacity="0.85"/>
<path d="M96.5 68.7L98.0 71.3L95.1 71.3Z" fill="#ff3c3c" fill-opacity="0.85"/>
<path d="M97.6 72.2L99.1 74.8L96.2 74.8Z" fill="#ff3c3c" fill-opacity="0.85"/>
<path d="M98.7 66.6L100.1 69.2L97.2 69.2Z" fill="#ff3c3c" fill-opacity="0.85"/>
<path d="M99.0 70.7L100.5 73.3L97.6 73.3Z" fill="#ff3c3c" fill-opacity="0.85"/>
<path d="M99.8 68.4L101.3 71.0L98.4 71.0Z" fill="#ff3c3c" fill-opacity="0.85"/>
<path d="M100.5 68.2L102.0 70.8L99.1 70.8Z" fill="#ff3c3c" fill-opacity="0.85"/>
<path d="M101.9 66.6L103.4 69.3L100.5 69.3Z" fill="#ff3c3c" fill-opacity="0.85"/>
<path d="M102.4 70.5L103.8 73.1L100.9 73.1Z" fill="#ff3c3c" fill-opacity="0.85"/>
<path d="M103.3 67.2L104.8 69.8L101.9 69.8Z" fill="#ff3c3c" fill-opacity="0.85"/>
<path d="M103.7 70.0L105.1 72.6L102.2 72.6Z" fill="#ff3c3c" fill-opacity="0.85"/>
<path d="M105.0 68.6L106.5 71.2L103.6 71.2Z" fill="#ff3c3c" fill-opacity="0.85"/>
<path d="M105.6 73.9L107.1 76.5L104.2 76.5Z" fill="#ff3c3c" fill-opacity="0.85"/>
<path d="M106.5 59.0L108.0 61.6L105.1 61.6Z" fill="#ff3c3c" fill-opacity="0.85"/>
<path d="M106.9 52.7L108.4 55.3L105.5 55.3Z" fill="#ff3c3c" fill-opacity="0.85"/>
<path d="M107.8 54.7L109.2 57.3L106.3 57.3Z" fill="#ff3c3c" fill-opacity="0.85"/>
<path d="M108.1 54.9L109.5 57.5L106.6 57.5Z" fill="#ff3c3c" fill-opacity="0.85"/>
<path d="M109.0 55.0L110.4 57.6L107.5 57.6Z" fill="#ff3c3c" fill-opacity="0.85"/>
<path d="M109.9 55.2L111.3 57.9L108.4 57.9Z" fill="#ff3c3c" fill-opacity="0.85"/>
<path d="M110.3 53.3L111.7 56.0L108.8 56.0Z" fill="#ff3c3c" fill-opacity="0.85"/>
<path d="M111.1 52.2L112.6 54.8L109.7 54.8Z" fill="#ff3c3c" fill-opacity="0.85"/>
<path d="M111.8 53.9L113.3 56.5L110.4 56.5Z" fill="#ff3c3c" fill-opacity="0.85"/>
<path d="M112.6 54.4L114.0 57.0L111.1 57.0Z" fill="#ff3c3c" fill-opacity="0.85"/>
<path d="M113.2 50.5L114.6 53.1L111.7 53.1Z" fill="#ff3c3c" fill-opacity="0.85"/>
<path d="M113.3 56.9L114.8 59.5L111.9 59.5Z" fill="#ff3c3c" fill-opacity="0.85"/>
<path d="M114.5 49.6L115.9 52.3L113.0 52.3Z" fill="#ff3c3c" fill-opacity="0.85"/>
<path d="M114.7 49.6L116.1 52.2L113.2 52.2Z" fill="#ff3c3c" fill-opacity="0.85"/>
<path d="M115.5 55.6L117.0 58.2L114.1 58.2Z" fill="#ff3c3c" fill-opacity="0.85"/>
<path d="M116.4 51.0L117.8 53.6L114.9 53.6Z" fill="#ff3c3c" fill-opacity="0.85"/>
<path d="M116.8 49.7L118.3 52.3L115.4 52.3Z" fill="#ff3c3c" fill-opacity="0.85"/>
<path d="M117.3 53.7L118.8 56.3L115.9 56.3Z" fill="#ff3c3c" fill-opacity="0.85"/>
<path d="M118.0 51.9L119.4 54.5L116.5 54.5Z" fill="#ff3c3c" fill-opacity="0.85"/>
<path d="M118.9 51.4L120.3 54.1L117.4 54.1Z" fill="#ff3c3c" fill-opacity="0.85"/>
<path d="M119.3 51.3L120.7 53.9L117.8 53.9Z" fill="#ff3c3c" fill-opacity="0.85"/>
<path d="M119.9 54.8L121.3 57.4L118.4 57.4Z" fill="#ff3c3c" fill-opacity="0.85"/>
<path d="M121.1 50.8L122.5 53.4L119.6 53.4Z" fill="#ff3c3c" fill-opacity="0.85"/>
<path d="M121.2 51.5L122.6 54.1L119.7 54.1Z" fill="#ff3c3c" fill-opacity="0.85"/>
<path d="M122.2 49.1L123.7 51.7L120.8 51.7Z" fill="#ff3c3c" fill-opacity="0.85"/>
<path d="M123.0 53.2L124.5 55.8L121.6 55.8Z" fill="#ff3c3c" fill-opacity="0.85"/>
<path d="M123.3 50.8L124.8 53.4L121.9 53.4Z" fill="#ff3c3c" fill-opacity="0.85"/>
<path d="M123.8 51.5L125.3 54.1L122.4 54.1Z" fill="#ff3c3c" fill-opacity="0.85"/>
<path d="M124.9 53.7L126.3 56.3L123.4 56.3Z" fill="#ff3c3c" fill-opacity="0.85"/>
<path d="M125.5 55.6L126.9 58.2L124.0 58.2Z" fill="#ff3c3c" fill-opacity="0.85"/>
<path d="M126.4 54.1L127.8 56.7L124.9 56.7Z" fill="#ff3c3c" fill-opacity="0.85"/>
<path d="M126.5 52.1L127.9 54.7L125.0 54.7Z" fill="#ff3c3c" fill-opacity="0.85"/>
<path d="M127.1 54.5L128.5 57.1L125.6 57.1Z" fill="#ff3c3c" fill-opacity="0.85"/>
<path d="M127.7 50.5L129.2 53.1L126.3 53.1Z" fill="#ff3c3c" fill-opacity="0.85"/>
<path d="M129.0 52.3L130.4 54.9L127.5 54.9Z" fill="#ff3c3c" fill-opacity="0.85"/>
<path d="M129.5 47.8L131.0 50.4L128.1 50.4Z" fill="#ff3c3c" fill-opacity="0.85"/>
<path d="M130.0 51.9L131.4 54.5L128.5 54.5Z" fill="#ff3c3c" fill-opacity="0.85"/>
<path d="M130.7 59.8L132.1 62.4L129.2 62.4Z" fill="#ff3c3c" fill-opacity="0.85"/>
<path d="M59.0 60.5L60.5 63.2L57.5 63.2Z" fill="#ff3c3c" fill-opacity="0.85"/>
<path d="M79.0 43.8L80.5 46.4L77.5 46.4Z" fill="#ff3c3c" fill-opacity="0.85"/>
<path d="M107.4 101.8L108.9 104.5L106.0 104.5Z" fill="#ff3c3c" fill-opacity="0.85"/>
<path d="M48.0 63.5L49.5 66.2L46.5 66.2Z" fill="#ff3c3c" fill-opacity="0.85"/>
<path d="M52.0 64.5L53.5 67.2L50.5 67.2Z" fill="#ff3c3c" fill-opacity="0.85"/>
<path d="M63.0 62.5L64.5 65.2L61.5 65.2Z" fill="#ff3c3c" fill-opacity="0.85"/>
<path d="M66.0 61.5L67.5 64.2L64.5 64.2Z" fill="#ff3c3c" fill-opacity="0.85"/>
<path d="M73.0 59.5L74.5 62.2L71.5 62.2Z" fill="#ff3c3c" fill-opacity="0.85"/>
<path d="M41.0 64.5L42.5 67.2L39.5 67.2Z" fill="#ff3c3c" fill-opacity="0.85"/>
<path d="M44.0 65.5L45.5 68.2L42.5 68.2Z" fill="#ff3c3c" fill-opacity="0.85"/>
<circle cx="39.0" cy="79.8" r="1.3" fill="#ad5f2c" fill-opacity="0.8"/>
<circle cx="39.7" cy="80.9" r="1.3" fill="#ad5f2c" fill-opacity="0.8"/>
<circle cx="40.6" cy="82.0" r="1.3" fill="#ad5f2c" fill-opacity="0.8"/>
<circle cx="41.0" cy="76.9" r="1.3" fill="#ad5f2c" fill-opacity="0.8"/>
<circle cx="41.7" cy="77.2" r="1.3" fill="#ad5f2c" fill-opacity="0.8"/>
<circle cx="41.9" cy="78.3" r="1.3" fill="#ad5f2c" fill-opacity="0.8"/>
<circle cx="42.3" cy="76.6" r="1.3" fill="#ad5f2c" fill-opacity="0.8"/>
<circle cx="43.0" cy="80.7" r="1.3" fill="#ad5f2c" fill-opacity="0.8"/>
<circle cx="43.7" cy="83.0" r="1.3" fill="#ad5f2c" fill-opacity="0.8"/>
<circle cx="44.4" cy="80.7" r="1.3" fill="#ad5f2c" fill-opacity="0.8"/>
<circle cx="45.0" cy="79.2" r="1.3" fill="#ad5f2c" fill-opacity="0.8"/>
<circle cx="45.1" cy="83.5" r="1.3" fill="#ad5f2c" fill-opacity="0.8"/>
<circle cx="45.9" cy="79.9" r="1.3" fill="#ad5f2c" fill-opacity="0.8"/>
<circle cx="46.6" cy="77.3" r="1.3" fill="#ad5f2c" fill-opacity="0.8"/>
<circle cx="47.1" cy="81.2" r="1.3" fill="#ad5f2c" fill-opacity="0.8"/>
<circle cx="47.7" cy="78.0" r="1.3" fill="#ad5f2c" fill-opacity="0.8"/>
<circle cx="48.4" cy="80.2" r="1.3" fill="#ad5f2c" fill-opacity="0.8"/>
<circle cx="48.9" cy="79.3" r="1.3" fill="#ad5f2c" fill-opacity="0.8"/>
<circle cx="49.1" cy="78.1" r="1.3" fill="#ad5f2c" fill-opacity="0.8"/>
<circle cx="50.1" cy="79.3" r="1.3" fill="#ad5f2c" fill-opacity="0.8"/>
<circle cx="50.6" cy="75.1" r="1.3" fill="#ad5f2c" fill-opacity="0.8"/>
<circle cx="50.7" cy="73.9" r="1.3" fill="#ad5f2c" fill-opacity="0.8"/>
<circle cx="51.5" cy="79.2" r="1.3" fill="#ad5f2c" fill-opacity="0.8"/>
<circle cx="52.2" cy="77.5" r="1.3" fill="#ad5f2c" fill-opacity="0.8"/>
<circle cx="52.7" cy="81.9" r="1.3" fill="#ad5f2c" fill-opacity="0.8"/>
<circle cx="53.4" cy="82.7" r="1.3" fill="#ad5f2c" fill-opacity="0.8"/>
<circle cx="53.5" cy="79.3" r="1.3" fill="#ad5f2c" fill-opacity="0.8"/>
<circle cx="54.3" cy="77.8" r="1.3" fill="#ad5f2c" fill-opacity="0.8"/>
<circle cx="55.0" cy="75.7" r="1.3" fill="#ad5f2c" fill-opacity="0.8"/>
<circle cx="55.6" cy="79.5" r="1.3" fill="#ad5f2c" fill-opacity="0.8"/>
<circle cx="55.7" cy="74.7" r="1.3" fill="#ad5f2c" fill-opacity="0.8"/>
<circle cx="56.4" cy="81.8" r="1.3" fill="#ad5f2c" fill-opacity="0.8"/>
<circle cx="57.2" cy="81.2" r="1.3" fill="#ad5f2c" fill-opacity="0.8"/>
<circle cx="57.3" cy="77.2" r="1.3" fill="#ad5f2c" fill-opacity="0.8"/>
<circle cx="58.3" cy="78.1" r="1.3" fill="#ad5f2c" fill-opacity="0.8"/>
<circle cx="58.7" cy="82.8" r="1.3" fill="#ad5f2c" fill-opacity="0.8"/>
<circle cx="59.4" cy="81.4" r="1.3" fill="#ad5f2c" fill-opacity="0.8"/>
<circle cx="59.7" cy="80.7" r="1.3" fill="#ad5f2c" fill-opacity="0.8"/>
<circle cx="60.2" cy="79.0" r="1.3" fill="#ad5f2c" fill-opacity="0.8"/>
<circle cx="60.7" cy="78.5" r="1.3" fill="#ad5f2c" fill-opacity="0.8"/>
<circle cx="61.3" cy="80.1" r="1.3" fill="#ad5f2c" fill-opacity="0.8"/>
<circle cx="62.2" cy="78.7" r="1.3" fill="#ad5f2c" fill-opacity="0.8"/>
<circle cx="62.5" cy="76.5" r="1.3" fill="#ad5f2c" fill-opacity="0.8"/>
<circle cx="62.9" cy="80.1" r="1.3" fill="#ad5f2c" fill-opacity="0.8"/>
<circle cx="63.9" cy="83.0" r="1.3" fill="#ad5f2c" fill-opacity="0.8"/>
<circle cx="64.3" cy="82.0" r="1.3" fill="#ad5f2c" fill-opacity="0.8"/>
<circle cx="64.6" cy="80.0" r="1.3" fill="#ad5f2c" fill-opacity="0.8"/>
<circle cx="65.3" cy="79.8" r="1.3" fill="#ad5f2c" fill-opacity="0.8"/>
<circle cx="66.1" cy="82.2" r="1.3" fill="#ad5f2c" fill-opacity="0.8"/>
<circle cx="66.4" cy="81.2" r="1.3" fill="#ad5f2c" fill-opacity="0.8"/>
<circle cx="67.1" cy="80.6" r="1.3" fill="#ad5f2c" fill-opacity="0.8"/>
<circle cx="67.8" cy="78.8" r="1.3" fill="#ad5f2c" fill-opacity="0.8"/>
<circle cx="68.0" cy="81.7" r="1.3" fill="#ad5f2c" fill-opacity="0.8"/>
<circle cx="68.8" cy="82.9" r="1.3" fill="#ad5f2c" fill-opacity="0.8"/>
<circle cx="69.0" cy="74.8" r="1.3" fill="#ad5f2c" fill-opacity="0.8"/>
<circle cx="69.9" cy="81.7" r="1.3" fill="#ad5f2c" fill-opacity="0.8"/>
<circle cx="70.4" cy="76.9" r="1.3" fill="#ad5f2c" fill-opacity="0.8"/>
<circle cx="71.1" cy="80.4" r="1.3" fill="#ad5f2c" fill-opacity="0.8"/>
<circle cx="71.3" cy="79.3" r="1.3" fill="#ad5f2c" fill-opacity="0.8"/>
<circle cx="71.8" cy="79.7" r="1.3" fill="#ad5f2c" fill-opacity="0.8"/>
<circle cx="72.5" cy="80.4" r="1.3" fill="#ad5f2c" fill-opacity="0.8"/>
<circle cx="72.9" cy="81.6" r="1.3" fill="#ad5f2c" fill-opacity="0.8"/>
<circle cx="73.4" cy="78.8" r="1.3" fill="#ad5f2c" fill-opacity="0.8"/>
<circle cx="74.0" cy="78.4" r="1.3" fill="#ad5f2c" fill-opacity="0.8"/>
<circle cx="74.7" cy="79.6" r="1.3" fill="#ad5f2c" fill-opacity="0.8"/>
<circle cx="75.6" cy="80.3" r="1.3" fill="#ad5f2c" fill-opacity="0.8"/>
<circle cx="76.1" cy="82.2" r="1.3" fill="#ad5f2c" fill-opacity="0.8"/>
<circle cx="76.3" cy="80.3" r="1.3" fill="#ad5f2c" fill-opacity="0.8"/>
<circle cx="77.0" cy="78.6" r="1.3" fill="#ad5f2c" fill-opacity="0.8"/>
<circle cx="77.4" cy="76.9" r="1.3" fill="#ad5f2c" fill-opacity="0.8"/>
<circle cx="77.9" cy="82.7" r="1.3" fill="#ad5f2c" fill-opacity="0.8"/>
<circle cx="78.9" cy="81.6" r="1.3" fill="#ad5f2c" fill-opacity="0.8"/>
<circle cx="79.1" cy="81.5" r="1.3" fill="#ad5f2c" fill-opacity="0.8"/>
<circle cx="79.7" cy="80.2" r="1.3" fill="#ad5f2c" fill-opacity="0.8"/>
<circle cx="80.5" cy="78.9" r="1.3" fill="#ad5f2c" fill-opacity="0.8"/>
<circle cx="80.7" cy="79.7" r="1.3" fill="#ad5f2c" fill-opacity="0.8"/>
<circle cx="81.4" cy="81.4" r="1.3" fill="#ad5f2c" fill-opacity="0.8"/>
<circle cx="81.9" cy="76.1" r="1.3" fill="#ad5f2c" fill-opacity="0.8"/>
<circle cx="82.4" cy="78.9" r="1.3" fill="#ad5f2c" fill-opacity="0.8"/>
<circle cx="83.3" cy="77.7" r="1.3" fill="#ad5f2c" fill-opacity="0.8"/>
<circle cx="83.8" cy="81.0" r="1.3" fill="#ad5f2c" fill-opacity="0.8"/>
<circle cx="84.2" cy="82.6" r="1.3" fill="#ad5f2c" fill-opacity="0.8"/>
<circle cx="85.0" cy="80.0" r="1.3" fill="#ad5f2c" fill-opacity="0.8"/>
<circle cx="85.1" cy="76.8" r="1.3" fill="#ad5f2c" fill-opacity="0.8"/>
<circle cx="85.8" cy="77.0" r="1.3" fill="#ad5f2c" fill-opacity="0.8"/>
<circle cx="86.3" cy="81.3" r="1.3" fill="#ad5f2c" fill-opacity="0.8"/>
<circle cx="87.0" cy="78.8" r="1.3" fill="#ad5f2c" fill-opacity="0.8"/>
<circle cx="87.5" cy="77.4" r="1.3" fill="#ad5f2c" fill-opacity="0.8"/>
<circle cx="88.3" cy="78.9" r="1.3" fill="#ad5f2c" fill-opacity="0.8"/>
<circle cx="88.7" cy="81.4" r="1.3" fill="#ad5f2c" fill-opacity="0.8"/>
<circle cx="89.0" cy="77.5" r="1.3" fill="#ad5f2c" fill-opacity="0.8"/>
<circle cx="89.9" cy="80.4" r="1.3" fill="#ad5f2c" fill-opacity="0.8"/>
<circle cx="90.2" cy="79.0" r="1.3" fill="#ad5f2c" fill-opacity="0.8"/>
<circle cx="90.7" cy="78.4" r="1.3" fill="#ad5f2c" fill-opacity="0.8"/>
<circle cx="91.5" cy="82.6" r="1.3" fill="#ad5f2c" fill-opacity="0.8"/>
<circle cx="91.9" cy="76.5" r="1.3" fill="#ad5f2c" fill-opacity="0.8"/>
<circle cx="92.2" cy="79.0" r="1.3" fill="#ad5f2c" fill-opacity="0.8"/>
<circle cx="93.1" cy="81.9" r="1.3" fill="#ad5f2c" fill-opacity="0.8"/>
<circle cx="93.5" cy="76.7" r="1.3" fill="#ad5f2c" fill-opacity="0.8"/>
<circle cx="94.0" cy="80.1" r="1.3" fill="#ad5f2c" fill-opacity="0.8"/>
<circle cx="94.5" cy="78.0" r="1.3" fill="#ad5f2c" fill-opacity="0.8"/>
<circle cx="95.5" cy="78.1" r="1.3" fill="#ad5f2c" fill-opacity="0.8"/>
<circle cx="95.8" cy="80.4" r="1.3" fill="#ad5f2c" fill-opacity="0.8"/>
<circle cx="96.4" cy="81.5" r="1.3" fill="#ad5f2c" fill-opacity="0.8"/>
<circle cx="96.8" cy="77.4" r="1.3" fill="#ad5f2c" fill-opacity="0.8"/>
<circle cx="97.7" cy="76.5" r="1.3" fill="#ad5f2c" fill-opacity="0.8"/>
<circle cx="97.8" cy="78.4" r="1.3" fill="#ad5f2c" fill-opacity="0.8"/>
<circle cx="98.8" cy="79.7" r="1.3" fill="#ad5f2c" fill-opacity="0.8"/>
<circle cx="99.2" cy="78.5" r="1.3" fill="#ad5f2c" fill-opacity="0.8"/>
<circle cx="99.9" cy="82.4" r="1.3" fill="#ad5f2c" fill-opacity="0.8"/>
<circle cx="40.6" cy="76.2" r="1.3" fill="none" stroke="#c98a5e" stroke-width="0.6"/>
<circle cx="41.8" cy="76.8" r="1.3" fill="none" stroke="#c98a5e" stroke-width="0.6"/>
<circle cx="44.6" cy="81.4" r="1.3" fill="none" stroke="#c98a5e" stroke-width="0.6"/>
<circle cx="46.8" cy="76.4" r="1.3" fill="none" stroke="#c98a5e" stroke-width="0.6"/>
<circle cx="47.5" cy="79.1" r="1.3" fill="none" stroke="#c98a5e" stroke-width="0.6"/>
<circle cx="49.6" cy="79.5" r="1.3" fill="none" stroke="#c98a5e" stroke-width="0.6"/>
<circle cx="53.0" cy="82.2" r="1.3" fill="none" stroke="#c98a5e" stroke-width="0.6"/>
<circle cx="55.3" cy="81.7" r="1.3" fill="none" stroke="#c98a5e" stroke-width="0.6"/>
<circle cx="57.1" cy="79.3" r="1.3" fill="none" stroke="#c98a5e" stroke-width="0.6"/>
<circle cx="59.0" cy="78.6" r="1.3" fill="none" stroke="#c98a5e" stroke-width="0.6"/>
<circle cx="59.6" cy="79.8" r="1.3" fill="none" stroke="#c98a5e" stroke-width="0.6"/>
<circle cx="63.2" cy="78.2" r="1.3" fill="none" stroke="#c98a5e" stroke-width="0.6"/>
<circle cx="64.6" cy="79.7" r="1.3" fill="none" stroke="#c98a5e" stroke-width="0.6"/>
<circle cx="65.5" cy="79.8" r="1.3" fill="none" stroke="#c98a5e" stroke-width="0.6"/>
<circle cx="69.0" cy="79.4" r="1.3" fill="none" stroke="#c98a5e" stroke-width="0.6"/>
<circle cx="70.1" cy="80.7" r="1.3" fill="none" stroke="#c98a5e" stroke-width="0.6"/>
<circle cx="72.2" cy="80.6" r="1.3" fill="none" stroke="#c98a5e" stroke-width="0.6"/>
<circle cx="74.9" cy="79.3" r="1.3" fill="none" stroke="#c98a5e" stroke-width="0.6"/>
<circle cx="77.2" cy="81.9" r="1.3" fill="none" stroke="#c98a5e" stroke-width="0.6"/>
<circle cx="79.7" cy="80.3" r="1.3" fill="none" stroke="#c98a5e" stroke-width="0.6"/>
<circle cx="80.4" cy="82.5" r="1.3" fill="none" stroke="#c98a5e" stroke-width="0.6"/>
<circle cx="83.4" cy="78.2" r="1.3" fill="none" stroke="#c98a5e" stroke-width="0.6"/>
<circle cx="85.5" cy="84.2" r="1.3" fill="none" stroke="#c98a5e" stroke-width="0.6"/>
<circle cx="85.8" cy="76.9" r="1.3" fill="none" stroke="#c98a5e" stroke-width="0.6"/>
<circle cx="89.5" cy="77.5" r="1.3" fill="none" stroke="#c98a5e" stroke-width="0.6"/>
<circle cx="90.9" cy="80.4" r="1.3" fill="none" stroke="#c98a5e" stroke-width="0.6"/>
<circle cx="91.9" cy="77.3" r="1.3" fill="none" stroke="#c98a5e" stroke-width="0.6"/>
<circle cx="94.8" cy="79.0" r="1.3" fill="none" stroke="#c98a5e" stroke-width="0.6"/>
<circle cx="96.8" cy="77.0" r="1.3" fill="none" stroke="#c98a5e" stroke-width="0.6"/>
<circle cx="99.7" cy="82.4" r="1.3" fill="none" stroke="#c98a5e" stroke-width="0.6"/>
<circle cx="80.1" cy="88.8" r="1.3" fill="none" stroke="#c98a5e" stroke-width="0.6"/>
<circle cx="81.5" cy="94.2" r="1.3" fill="none" stroke="#c98a5e" stroke-width="0.6"/>
<circle cx="82.1" cy="84.1" r="1.3" fill="none" stroke="#c98a5e" stroke-width="0.6"/>
<circle cx="82.8" cy="85.2" r="1.3" fill="none" stroke="#c98a5e" stroke-width="0.6"/>
<circle cx="83.4" cy="96.7" r="1.3" fill="none" stroke="#c98a5e" stroke-width="0.6"/>
<circle cx="84.2" cy="85.9" r="1.3" fill="none" stroke="#c98a5e" stroke-width="0.6"/>
<circle cx="85.6" cy="91.2" r="1.3" fill="none" stroke="#c98a5e" stroke-width="0.6"/>
<circle cx="85.8" cy="87.6" r="1.3" fill="none" stroke="#c98a5e" stroke-width="0.6"/>
<circle cx="87.4" cy="97.7" r="1.3" fill="none" stroke="#c98a5e" stroke-width="0.6"/>
<circle cx="88.0" cy="99.7" r="1.3" fill="none" stroke="#c98a5e" stroke-width="0.6"/>
<circle cx="88.4" cy="94.5" r="1.3" fill="none" stroke="#c98a5e" stroke-width="0.6"/>
<circle cx="89.8" cy="92.5" r="1.3" fill="none" stroke="#c98a5e" stroke-width="0.6"/>
<circle cx="89.9" cy="91.2" r="1.3" fill="none" stroke="#c98a5e" stroke-width="0.6"/>
<circle cx="91.1" cy="90.2" r="1.3" fill="none" stroke="#c98a5e" stroke-width="0.6"/>
<circle cx="92.1" cy="97.7" r="1.3" fill="none" stroke="#c98a5e" stroke-width="0.6"/>
<circle cx="92.7" cy="100.1" r="1.3" fill="none" stroke="#c98a5e" stroke-width="0.6"/>
<circle cx="94.0" cy="91.2" r="1.3" fill="none" stroke="#c98a5e" stroke-width="0.6"/>
<circle cx="94.7" cy="107.3" r="1.3" fill="none" stroke="#c98a5e" stroke-width="0.6"/>
<circle cx="95.4" cy="107.1" r="1.3" fill="none" stroke="#c98a5e" stroke-width="0.6"/>
<circle cx="95.7" cy="101.2" r="1.3" fill="none" stroke="#c98a5e" stroke-width="0.6"/>
<circle cx="96.6" cy="98.5" r="1.3" fill="none" stroke="#c98a5e" stroke-width="0.6"/>
<circle cx="97.6" cy="93.0" r="1.3" fill="none" stroke="#c98a5e" stroke-width="0.6"/>
<circle cx="98.9" cy="98.5" r="1.3" fill="none" stroke="#c98a5e" stroke-width="0.6"/>
<circle cx="99.5" cy="94.4" r="1.3" fill="none" stroke="#c98a5e" stroke-width="0.6"/>
<circle cx="100.3" cy="91.2" r="1.3" fill="none" stroke="#c98a5e" stroke-width="0.6"/>
<circle cx="100.8" cy="96.3" r="1.3" fill="none" stroke="#c98a5e" stroke-width="0.6"/>
<circle cx="102.2" cy="85.9" r="1.3" fill="none" stroke="#c98a5e" stroke-width="0.6"/>
<circle cx="103.1" cy="85.0" r="1.3" fill="none" stroke="#c98a5e" stroke-width="0.6"/>
<circle cx="103.1" cy="75.6" r="1.3" fill="none" stroke="#c98a5e" stroke-width="0.6"/>
<circle cx="104.1" cy="82.7" r="1.3" fill="none" stroke="#c98a5e" stroke-width="0.6"/>
<circle cx="105.2" cy="94.5" r="1.3" fill="none" stroke="#c98a5e" stroke-width="0.6"/>
<circle cx="106.1" cy="94.1" r="1.3" fill="none" stroke="#c98a5e" stroke-width="0.6"/>
<circle cx="106.6" cy="84.8" r="1.3" fill="none" stroke="#c98a5e" stroke-width="0.6"/>
<circle cx="107.4" cy="90.4" r="1.3" fill="none" stroke="#c98a5e" stroke-width="0.6"/>
<circle cx="108.6" cy="91.2" r="1.3" fill="none" stroke="#c98a5e" stroke-width="0.6"/>
<circle cx="109.1" cy="91.6" r="1.3" fill="none" stroke="#c98a5e" stroke-width="0.6"/>
<circle cx="110.3" cy="94.2" r="1.3" fill="none" stroke="#c98a5e" stroke-width="0.6"/>
<circle cx="110.8" cy="86.8" r="1.3" fill="none" stroke="#c98a5e" stroke-width="0.6"/>
<circle cx="112.0" cy="82.2" r="1.3" fill="none" stroke="#c98a5e" stroke-width="0.6"/>
<circle cx="112.4" cy="83.4" r="1.3" fill="none" stroke="#c98a5e" stroke-width="0.6"/>
<circle cx="111.7" cy="70.7" r="1.3" fill="none" stroke="#c98a5e" stroke-width="0.6"/>
<circle cx="112.5" cy="69.7" r="1.3" fill="none" stroke="#c98a5e" stroke-width="0.6"/>
<circle cx="113.8" cy="69.9" r="1.3" fill="none" stroke="#c98a5e" stroke-width="0.6"/>
<circle cx="115.0" cy="70.5" r="1.3" fill="none" stroke="#c98a5e" stroke-width="0.6"/>
<circle cx="116.7" cy="69.1" r="1.3" fill="none" stroke="#c98a5e" stroke-width="0.6"/>
<circle cx="117.8" cy="70.2" r="1.3" fill="none" stroke="#c98a5e" stroke-width="0.6"/>
<circle cx="119.6" cy="69.2" r="1.3" fill="none" stroke="#c98a5e" stroke-width="0.6"/>
<circle cx="120.2" cy="71.9" r="1.3" fill="none" stroke="#c98a5e" stroke-width="0.6"/>
<circle cx="121.4" cy="71.2" r="1.3" fill="none" stroke="#c98a5e" stroke-width="0.6"/>
<circle cx="122.4" cy="71.5" r="1.3" fill="none" stroke="#c98a5e" stroke-width="0.6"/>
<circle cx="124.4" cy="69.1" r="1.3" fill="none" stroke="#c98a5e" stroke-width="0.6"/>
<circle cx="124.9" cy="71.5" r="1.3" fill="none" stroke="#c98a5e" stroke-width="0.6"/>
<circle cx="126.2" cy="69.6" r="1.3" fill="none" stroke="#c98a5e" stroke-width="0.6"/>
<circle cx="128.2" cy="69.7" r="1.3" fill="none" stroke="#c98a5e" stroke-width="0.6"/>
<circle cx="129.1" cy="68.2" r="1.3" fill="none" stroke="#c98a5e" stroke-width="0.6"/>
<circle cx="129.9" cy="68.2" r="1.3" fill="none" stroke="#c98a5e" stroke-width="0.6"/>
<circle cx="39.3" cy="75.4" r="1.4" fill="#1f86c4"/>
<circle cx="40.1" cy="71.8" r="1.4" fill="#1f86c4"/>
<circle cx="40.7" cy="74.5" r="1.4" fill="#1f86c4"/>
<circle cx="41.3" cy="75.0" r="1.4" fill="#1f86c4"/>
<circle cx="42.3" cy="73.4" r="1.4" fill="#1f86c4"/>
<circle cx="42.9" cy="75.0" r="1.4" fill="#1f86c4"/>
<circle cx="43.2" cy="76.9" r="1.4" fill="#1f86c4"/>
<circle cx="43.8" cy="72.6" r="1.4" fill="#1f86c4"/>
<circle cx="44.5" cy="74.0" r="1.4" fill="#1f86c4"/>
<circle cx="45.5" cy="71.2" r="1.4" fill="#1f86c4"/>
<circle cx="46.0" cy="72.1" r="1.4" fill="#1f86c4"/>
<circle cx="46.9" cy="75.4" r="1.4" fill="#1f86c4"/>
<circle cx="47.4" cy="69.8" r="1.4" fill="#1f86c4"/>
<circle cx="48.0" cy="72.8" r="1.4" fill="#1f86c4"/>
<circle cx="48.9" cy="72.2" r="1.4" fill="#1f86c4"/>
<circle cx="49.2" cy="72.1" r="1.4" fill="#1f86c4"/>
<circle cx="50.2" cy="72.3" r="1.4" fill="#1f86c4"/>
<circle cx="50.5" cy="75.4" r="1.4" fill="#1f86c4"/>
<circle cx="51.3" cy="73.2" r="1.4" fill="#1f86c4"/>
<circle cx="52.2" cy="72.2" r="1.4" fill="#1f86c4"/>
<circle cx="52.3" cy="71.9" r="1.4" fill="#1f86c4"/>
<circle cx="53.2" cy="73.3" r="1.4" fill="#1f86c4"/>
<circle cx="53.6" cy="71.5" r="1.4" fill="#1f86c4"/>
<circle cx="54.8" cy="72.6" r="1.4" fill="#1f86c4"/>
<circle cx="55.0" cy="72.7" r="1.4" fill="#1f86c4"/>
<circle cx="56.0" cy="76.6" r="1.4" fill="#1f86c4"/>
<circle cx="56.3" cy="70.0" r="1.4" fill="#1f86c4"/>
<circle cx="56.9" cy="74.0" r="1.4" fill="#1f86c4"/>
<circle cx="57.6" cy="76.0" r="1.4" fill="#1f86c4"/>
<circle cx="58.7" cy="73.5" r="1.4" fill="#1f86c4"/>
<circle cx="58.8" cy="73.8" r="1.4" fill="#1f86c4"/>
<circle cx="59.9" cy="72.0" r="1.4" fill="#1f86c4"/>
<circle cx="60.4" cy="72.1" r="1.4" fill="#1f86c4"/>
<circle cx="61.1" cy="75.8" r="1.4" fill="#1f86c4"/>
<circle cx="61.9" cy="74.4" r="1.4" fill="#1f86c4"/>
<circle cx="62.6" cy="74.3" r="1.4" fill="#1f86c4"/>
<circle cx="62.9" cy="73.3" r="1.4" fill="#1f86c4"/>
<circle cx="64.0" cy="77.3" r="1.4" fill="#1f86c4"/>
<circle cx="64.3" cy="77.2" r="1.4" fill="#1f86c4"/>
<circle cx="65.1" cy="73.3" r="1.4" fill="#1f86c4"/>
<circle cx="65.6" cy="73.3" r="1.4" fill="#1f86c4"/>
<circle cx="66.4" cy="76.0" r="1.4" fill="#1f86c4"/>
<circle cx="67.0" cy="74.6" r="1.4" fill="#1f86c4"/>
<circle cx="67.6" cy="72.7" r="1.4" fill="#1f86c4"/>
<circle cx="68.3" cy="73.4" r="1.4" fill="#1f86c4"/>
<circle cx="68.8" cy="70.7" r="1.4" fill="#1f86c4"/>
<circle cx="69.8" cy="76.2" r="1.4" fill="#1f86c4"/>
<circle cx="70.7" cy="71.4" r="1.4" fill="#1f86c4"/>
<circle cx="70.8" cy="74.9" r="1.4" fill="#1f86c4"/>
<circle cx="72.0" cy="75.2" r="1.4" fill="#1f86c4"/>
<circle cx="72.1" cy="72.8" r="1.4" fill="#1f86c4"/>
<circle cx="72.7" cy="74.2" r="1.4" fill="#1f86c4"/>
<circle cx="74.0" cy="70.8" r="1.4" fill="#1f86c4"/>
<circle cx="74.0" cy="74.4" r="1.4" fill="#1f86c4"/>
<circle cx="75.2" cy="74.9" r="1.4" fill="#1f86c4"/>
<circle cx="75.8" cy="74.5" r="1.4" fill="#1f86c4"/>
<circle cx="76.3" cy="74.1" r="1.4" fill="#1f86c4"/>
<circle cx="76.7" cy="75.4" r="1.4" fill="#1f86c4"/>
<circle cx="77.8" cy="73.3" r="1.4" fill="#1f86c4"/>
<circle cx="78.2" cy="72.1" r="1.4" fill="#1f86c4"/>
<circle cx="79.2" cy="73.5" r="1.4" fill="#1f86c4"/>
<circle cx="79.9" cy="73.3" r="1.4" fill="#1f86c4"/>
<circle cx="80.5" cy="72.3" r="1.4" fill="#1f86c4"/>
<circle cx="81.2" cy="75.6" r="1.4" fill="#1f86c4"/>
<circle cx="81.5" cy="72.4" r="1.4" fill="#1f86c4"/>
<circle cx="81.9" cy="72.7" r="1.4" fill="#1f86c4"/>
<circle cx="82.7" cy="73.5" r="1.4" fill="#1f86c4"/>
<circle cx="83.7" cy="72.9" r="1.4" fill="#1f86c4"/>
<circle cx="84.4" cy="73.2" r="1.4" fill="#1f86c4"/>
<circle cx="85.0" cy="70.8" r="1.4" fill="#1f86c4"/>
<circle cx="85.8" cy="76.2" r="1.4" fill="#1f86c4"/>
<circle cx="86.0" cy="75.2" r="1.4" fill="#1f86c4"/>
<circle cx="86.8" cy="70.4" r="1.4" fill="#1f86c4"/>
<circle cx="87.5" cy="73.9" r="1.4" fill="#1f86c4"/>
<circle cx="88.1" cy="73.5" r="1.4" fill="#1f86c4"/>
<circle cx="88.5" cy="74.2" r="1.4" fill="#1f86c4"/>
<circle cx="89.3" cy="77.4" r="1.4" fill="#1f86c4"/>
<circle cx="90.4" cy="72.9" r="1.4" fill="#1f86c4"/>
<circle cx="90.9" cy="73.4" r="1.4" fill="#1f86c4"/>
<circle cx="91.8" cy="73.6" r="1.4" fill="#1f86c4"/>
<circle cx="92.0" cy="72.6" r="1.4" fill="#1f86c4"/>
<circle cx="93.0" cy="77.7" r="1.4" fill="#1f86c4"/>
<circle cx="93.5" cy="74.7" r="1.4" fill="#1f86c4"/>
<circle cx="94.3" cy="75.3" r="1.4" fill="#1f86c4"/>
<circle cx="95.0" cy="75.0" r="1.4" fill="#1f86c4"/>
<circle cx="95.3" cy="71.5" r="1.4" fill="#1f86c4"/>
<circle cx="96.3" cy="77.2" r="1.4" fill="#1f86c4"/>
<circle cx="96.5" cy="73.4" r="1.4" fill="#1f86c4"/>
<circle cx="97.2" cy="73.1" r="1.4" fill="#1f86c4"/>
<circle cx="98.0" cy="75.0" r="1.4" fill="#1f86c4"/>
<circle cx="98.5" cy="73.5" r="1.4" fill="#1f86c4"/>
<circle cx="99.7" cy="72.7" r="1.4" fill="#1f86c4"/>
<circle cx="100.0" cy="77.4" r="1.4" fill="#1f86c4"/>
<circle cx="100.9" cy="73.4" r="1.4" fill="#1f86c4"/>
<circle cx="101.1" cy="73.3" r="1.4" fill="#1f86c4"/>
<circle cx="102.2" cy="71.7" r="1.4" fill="#1f86c4"/>
<circle cx="102.6" cy="75.0" r="1.4" fill="#1f86c4"/>
<circle cx="103.2" cy="75.0" r="1.4" fill="#1f86c4"/>
<circle cx="104.0" cy="76.4" r="1.4" fill="#1f86c4"/>
<circle cx="104.4" cy="68.9" r="1.4" fill="#1f86c4"/>
<circle cx="105.6" cy="75.9" r="1.4" fill="#1f86c4"/>
<circle cx="106.0" cy="74.7" r="1.4" fill="#1f86c4"/>
<circle cx="106.5" cy="70.4" r="1.4" fill="#1f86c4"/>
<circle cx="107.4" cy="75.4" r="1.4" fill="#1f86c4"/>
<circle cx="107.7" cy="77.5" r="1.4" fill="#1f86c4"/>
<circle cx="108.7" cy="74.6" r="1.4" fill="#1f86c4"/>
<circle cx="109.5" cy="75.2" r="1.4" fill="#1f86c4"/>
<circle cx="110.1" cy="72.4" r="1.4" fill="#1f86c4"/>
<circle cx="110.5" cy="72.5" r="1.4" fill="#1f86c4"/>
<circle cx="111.5" cy="73.5" r="1.4" fill="#1f86c4"/>
<circle cx="111.7" cy="72.4" r="1.4" fill="#1f86c4"/>
<circle cx="112.7" cy="77.2" r="1.4" fill="#1f86c4"/>
<circle cx="113.4" cy="77.4" r="1.4" fill="#1f86c4"/>
<circle cx="113.6" cy="71.3" r="1.4" fill="#1f86c4"/>
<circle cx="114.8" cy="73.5" r="1.4" fill="#1f86c4"/>
<circle cx="115.6" cy="69.0" r="1.4" fill="#1f86c4"/>
<circle cx="116.0" cy="72.1" r="1.4" fill="#1f86c4"/>
<circle cx="116.7" cy="73.3" r="1.4" fill="#1f86c4"/>
<circle cx="117.5" cy="74.5" r="1.4" fill="#1f86c4"/>
<circle cx="117.6" cy="74.8" r="1.4" fill="#1f86c4"/>
<circle cx="118.8" cy="76.6" r="1.4" fill="#1f86c4"/>
<circle cx="119.2" cy="73.0" r="1.4" fill="#1f86c4"/>
<circle cx="119.8" cy="73.5" r="1.4" fill="#1f86c4"/>
<circle cx="120.3" cy="74.5" r="1.4" fill="#1f86c4"/>
<circle cx="121.0" cy="75.3" r="1.4" fill="#1f86c4"/>
<circle cx="122.1" cy="76.3" r="1.4" fill="#1f86c4"/>
<circle cx="122.5" cy="72.0" r="1.4" fill="#1f86c4"/>
<circle cx="123.2" cy="73.9" r="1.4" fill="#1f86c4"/>
<circle cx="123.6" cy="74.7" r="1.4" fill="#1f86c4"/>
<circle cx="124.2" cy="74.0" r="1.4" fill="#1f86c4"/>
<circle cx="124.8" cy="73.0" r="1.4" fill="#1f86c4"/>
<circle cx="125.6" cy="75.3" r="1.4" fill="#1f86c4"/>
<circle cx="126.7" cy="75.1" r="1.4" fill="#1f86c4"/>
<circle cx="127.4" cy="75.0" r="1.4" fill="#1f86c4"/>
<circle cx="127.7" cy="74.7" r="1.4" fill="#1f86c4"/>
<circle cx="128.5" cy="73.0" r="1.4" fill="#1f86c4"/>
<circle cx="129.1" cy="73.6" r="1.4" fill="#1f86c4"/>
<circle cx="130.0" cy="75.1" r="1.4" fill="#1f86c4"/>
<circle cx="130.2" cy="73.0" r="1.4" fill="#1f86c4"/>
<circle cx="130.9" cy="72.5" r="1.4" fill="#1f86c4"/>
<circle cx="131.8" cy="77.1" r="1.4" fill="#1f86c4"/>
<circle cx="132.2" cy="69.7" r="1.4" fill="#1f86c4"/>
<circle cx="133.0" cy="73.1" r="1.4" fill="#1f86c4"/>
<circle cx="133.8" cy="73.2" r="1.4" fill="#1f86c4"/>
<circle cx="134.1" cy="74.3" r="1.4" fill="#1f86c4"/>
<circle cx="134.8" cy="76.4" r="1.4" fill="#1f86c4"/>
<circle cx="135.8" cy="72.4" r="1.4" fill="#1f86c4"/>
<circle cx="136.4" cy="75.3" r="1.4" fill="#1f86c4"/>
<circle cx="137.2" cy="74.0" r="1.4" fill="#1f86c4"/>
<circle cx="137.9" cy="75.8" r="1.4" fill="#1f86c4"/>
<circle cx="41.6" cy="77.0" r="1.4" fill="#1f86c4"/>
<circle cx="47.9" cy="78.9" r="1.4" fill="#1f86c4"/>
<circle cx="54.9" cy="75.4" r="1.4" fill="#1f86c4"/>
<circle cx="59.8" cy="75.5" r="1.4" fill="#1f86c4"/>
<circle cx="62.8" cy="76.2" r="1.4" fill="#1f86c4"/>
<circle cx="70.7" cy="74.6" r="1.4" fill="#1f86c4"/>
<circle cx="76.1" cy="73.2" r="1.4" fill="#1f86c4"/>
<circle cx="84.7" cy="77.6" r="1.4" fill="#1f86c4"/>
<circle cx="89.1" cy="77.4" r="1.4" fill="#1f86c4"/>
<circle cx="92.3" cy="77.0" r="1.4" fill="#1f86c4"/>
<circle cx="98.3" cy="78.2" r="1.4" fill="#1f86c4"/>
<circle cx="107.7" cy="77.4" r="1.4" fill="#1f86c4"/>
<circle cx="138.7" cy="71.4" r="1.4" fill="#1f86c4"/>
<circle cx="140.3" cy="70.7" r="1.4" fill="#1f86c4"/>
<circle cx="141.4" cy="72.9" r="1.4" fill="#1f86c4"/>
<circle cx="142.6" cy="76.5" r="1.4" fill="#1f86c4"/>
<circle cx="143.2" cy="74.2" r="1.4" fill="#1f86c4"/>
<circle cx="144.9" cy="74.5" r="1.4" fill="#1f86c4"/>
<circle cx="146.6" cy="74.7" r="1.4" fill="#1f86c4"/>
<circle cx="146.8" cy="75.8" r="1.4" fill="#1f86c4"/>
<circle cx="148.3" cy="72.6" r="1.4" fill="#1f86c4"/>
<circle cx="149.7" cy="72.4" r="1.4" fill="#1f86c4"/>
<circle cx="150.9" cy="74.8" r="1.4" fill="#1f86c4"/>
<circle cx="151.8" cy="73.8" r="1.4" fill="#1f86c4"/>
<circle cx="153.5" cy="76.8" r="1.4" fill="#1f86c4"/>
<circle cx="155.2" cy="72.7" r="1.4" fill="#1f86c4"/>
<circle cx="155.9" cy="72.7" r="1.4" fill="#1f86c4"/>
<circle cx="157.4" cy="70.9" r="1.4" fill="#1f86c4"/>
<circle cx="158.8" cy="72.3" r="1.4" fill="#1f86c4"/>
<circle cx="159.9" cy="71.6" r="1.4" fill="#1f86c4"/>
<circle cx="161.0" cy="73.5" r="1.4" fill="#1f86c4"/>
<circle cx="161.7" cy="73.7" r="1.4" fill="#1f86c4"/>
<circle cx="163.7" cy="71.4" r="1.4" fill="#1f86c4"/>
<circle cx="164.5" cy="71.6" r="1.4" fill="#1f86c4"/>
<circle cx="139.0" cy="71.9" r="1.4" fill="#1f86c4"/>
<circle cx="140.9" cy="73.8" r="1.4" fill="#1f86c4"/>
<circle cx="141.9" cy="70.9" r="1.4" fill="#1f86c4"/>
<circle cx="143.8" cy="72.8" r="1.4" fill="#1f86c4"/>
<circle cx="144.8" cy="75.8" r="1.4" fill="#1f86c4"/>
<circle cx="146.7" cy="74.8" r="1.4" fill="#1f86c4"/>
<circle cx="147.7" cy="71.9" r="1.4" fill="#1f86c4"/>
<circle cx="148.7" cy="73.8" r="1.4" fill="#1f86c4"/>
<circle cx="150.6" cy="72.8" r="1.4" fill="#1f86c4"/>
<circle cx="151.6" cy="70.9" r="1.4" fill="#1f86c4"/>
<circle cx="153.5" cy="71.9" r="1.4" fill="#1f86c4"/>
<circle cx="154.5" cy="73.8" r="1.4" fill="#1f86c4"/>
<circle cx="156.4" cy="74.8" r="1.4" fill="#1f86c4"/>
<circle cx="157.4" cy="72.8" r="1.4" fill="#1f86c4"/>
<circle cx="158.4" cy="64.1" r="1.4" fill="#1f86c4"/>
<circle cx="159.4" cy="65.1" r="1.4" fill="#1f86c4"/>
<circle cx="156.4" cy="76.7" r="1.4" fill="#1f86c4"/>
<circle cx="165.2" cy="79.6" r="1.4" fill="#1f86c4"/>
<circle cx="165.2" cy="85.1" r="1.4" fill="#1f86c4"/>
<circle cx="164.2" cy="91.7" r="1.4" fill="#1f86c4"/>
<circle cx="161.3" cy="71.9" r="1.4" fill="#1f86c4"/>
<circle cx="163.2" cy="70.9" r="1.4" fill="#1f86c4"/>
<circle cx="166.1" cy="73.8" r="1.4" fill="#1f86c4"/>
<circle cx="167.1" cy="66.1" r="1.4" fill="#1f86c4"/>
<circle cx="168.1" cy="64.1" r="1.4" fill="#1f86c4"/>
<circle cx="169.1" cy="69.0" r="1.4" fill="#1f86c4"/>
<circle cx="170.0" cy="63.1" r="1.4" fill="#1f86c4"/>
<circle cx="172.0" cy="62.2" r="1.4" fill="#1f86c4"/>
<circle cx="172.9" cy="66.1" r="1.4" fill="#1f86c4"/>
<circle cx="171.0" cy="72.8" r="1.4" fill="#1f86c4"/>
<circle cx="172.0" cy="75.8" r="1.4" fill="#1f86c4"/>
<circle cx="173.9" cy="72.8" r="1.4" fill="#1f86c4"/>
<circle cx="174.9" cy="70.9" r="1.4" fill="#1f86c4"/>
<circle cx="175.8" cy="80.6" r="1.4" fill="#1f86c4"/>
<circle cx="176.8" cy="74.8" r="1.4" fill="#1f86c4"/>
<circle cx="177.8" cy="69.9" r="1.4" fill="#1f86c4"/>
<circle cx="178.8" cy="73.8" r="1.4" fill="#1f86c4"/>
<circle cx="179.7" cy="71.9" r="1.4" fill="#1f86c4"/>
<circle cx="180.7" cy="75.8" r="1.4" fill="#1f86c4"/>
<circle cx="181.7" cy="76.7" r="1.4" fill="#1f86c4"/>
<circle cx="183.6" cy="66.1" r="1.4" fill="#1f86c4"/>
<circle cx="184.6" cy="72.8" r="1.4" fill="#1f86c4"/>
<circle cx="185.6" cy="73.8" r="1.4" fill="#1f86c4"/>
<circle cx="186.5" cy="70.9" r="1.4" fill="#1f86c4"/>
<circle cx="187.5" cy="75.8" r="1.4" fill="#1f86c4"/>
<circle cx="188.5" cy="71.9" r="1.4" fill="#1f86c4"/>
<circle cx="189.4" cy="69.9" r="1.4" fill="#1f86c4"/>
<circle cx="190.4" cy="73.8" r="1.4" fill="#1f86c4"/>
<circle cx="191.4" cy="69.0" r="1.4" fill="#1f86c4"/>
<circle cx="192.3" cy="78.7" r="1.4" fill="#1f86c4"/>
<circle cx="193.3" cy="75.8" r="1.4" fill="#1f86c4"/>
<circle cx="194.3" cy="73.8" r="1.4" fill="#1f86c4"/>
<circle cx="195.3" cy="69.0" r="1.4" fill="#1f86c4"/>
<circle cx="196.2" cy="86.4" r="1.4" fill="#1f86c4"/>
<circle cx="197.2" cy="87.4" r="1.4" fill="#1f86c4"/>
<circle cx="195.3" cy="95.6" r="1.4" fill="#1f86c4"/>
<circle cx="197.2" cy="79.6" r="1.4" fill="#1f86c4"/>
<circle cx="198.2" cy="74.8" r="1.4" fill="#1f86c4"/>
<circle cx="199.1" cy="61.2" r="1.4" fill="#1f86c4"/>
<circle cx="199.1" cy="67.0" r="1.4" fill="#1f86c4"/>
<circle cx="200.1" cy="71.9" r="1.4" fill="#1f86c4"/>
<circle cx="201.1" cy="75.8" r="1.4" fill="#1f86c4"/>
<circle cx="202.1" cy="81.6" r="1.4" fill="#1f86c4"/>
<circle cx="203.0" cy="73.8" r="1.4" fill="#1f86c4"/>
<circle cx="204.0" cy="49.0" r="1.4" fill="#1f86c4"/>
<circle cx="205.0" cy="77.7" r="1.4" fill="#1f86c4"/>
<circle cx="205.9" cy="81.6" r="1.4" fill="#1f86c4"/>
<circle cx="206.9" cy="71.9" r="1.4" fill="#1f86c4"/>
<circle cx="207.9" cy="80.6" r="1.4" fill="#1f86c4"/>
<circle cx="208.8" cy="63.1" r="1.4" fill="#1f86c4"/>
<circle cx="209.8" cy="76.7" r="1.4" fill="#1f86c4"/>
<circle cx="210.8" cy="73.8" r="1.4" fill="#1f86c4"/>
<circle cx="211.8" cy="60.2" r="1.4" fill="#1f86c4"/>
<circle cx="212.7" cy="47.0" r="1.4" fill="#1f86c4"/>
<circle cx="211.8" cy="69.0" r="1.4" fill="#1f86c4"/>
<circle cx="212.7" cy="76.7" r="1.4" fill="#1f86c4"/>
<circle cx="213.7" cy="79.6" r="1.4" fill="#1f86c4"/>
<circle cx="214.7" cy="71.9" r="1.4" fill="#1f86c4"/>
<circle cx="215.6" cy="69.9" r="1.4" fill="#1f86c4"/>
<circle cx="216.6" cy="70.9" r="1.4" fill="#1f86c4"/>
<circle cx="217.6" cy="69.0" r="1.4" fill="#1f86c4"/>
<circle cx="218.6" cy="68.0" r="1.4" fill="#1f86c4"/>
<circle cx="219.5" cy="67.0" r="1.4" fill="#1f86c4"/>
<circle cx="220.5" cy="67.6" r="1.4" fill="#1f86c4"/>
<circle cx="221.5" cy="68.0" r="1.4" fill="#1f86c4"/>
<circle cx="222.4" cy="69.0" r="1.4" fill="#1f86c4"/>
<circle cx="223.4" cy="69.9" r="1.4" fill="#1f86c4"/>
<circle cx="224.4" cy="69.5" r="1.4" fill="#1f86c4"/>
<circle cx="225.3" cy="64.1" r="1.4" fill="#1f86c4"/>
<circle cx="226.3" cy="63.1" r="1.4" fill="#1f86c4"/>
<circle cx="227.3" cy="62.2" r="1.4" fill="#1f86c4"/>
<circle cx="228.3" cy="62.2" r="1.4" fill="#1f86c4"/>
<circle cx="229.2" cy="62.6" r="1.4" fill="#1f86c4"/>
<circle cx="230.2" cy="63.1" r="1.4" fill="#1f86c4"/>
<circle cx="231.2" cy="64.1" r="1.4" fill="#1f86c4"/>
<circle cx="232.1" cy="65.1" r="1.4" fill="#1f86c4"/>
<circle cx="233.1" cy="66.1" r="1.4" fill="#1f86c4"/>
<circle cx="234.1" cy="66.4" r="1.4" fill="#1f86c4"/>
<path d="M39.4 19.5V123.5H241.2" fill="none" stroke="#4a4a4a" stroke-width="1.2"/>
<line x1="36.8" y1="19.5" x2="39.4" y2="19.5" stroke="#4a4a4a" stroke-width="1"/>
<text x="32.4" y="22.5" text-anchor="end" font-size="7.4" font-weight="bold">1.0</text>
<line x1="36.8" y1="45.5" x2="39.4" y2="45.5" stroke="#4a4a4a" stroke-width="1"/>
<text x="32.4" y="48.5" text-anchor="end" font-size="7.4" font-weight="bold">0.5</text>
<line x1="36.8" y1="71.5" x2="39.4" y2="71.5" stroke="#4a4a4a" stroke-width="1"/>
<text x="32.4" y="74.5" text-anchor="end" font-size="7.4" font-weight="bold">0.0</text>
<line x1="36.8" y1="97.5" x2="39.4" y2="97.5" stroke="#4a4a4a" stroke-width="1"/>
<text x="32.4" y="100.5" text-anchor="end" font-size="7.4" font-weight="bold">-0.5</text>
<line x1="36.8" y1="123.5" x2="39.4" y2="123.5" stroke="#4a4a4a" stroke-width="1"/>
<text x="32.4" y="126.5" text-anchor="end" font-size="7.4" font-weight="bold">-1.0</text>
<line x1="39.4" y1="123.5" x2="39.4" y2="126.5" stroke="#4a4a4a" stroke-width="1"/>
<text x="39.4" y="137.6" text-anchor="middle" font-size="7.4" font-weight="bold">0</text>
<line x1="52.9" y1="123.5" x2="52.9" y2="126.5" stroke="#4a4a4a" stroke-width="1"/>
<text x="52.9" y="137.6" text-anchor="middle" font-size="7.4" font-weight="bold">20</text>
<line x1="66.3" y1="123.5" x2="66.3" y2="126.5" stroke="#4a4a4a" stroke-width="1"/>
<text x="66.3" y="137.6" text-anchor="middle" font-size="7.4" font-weight="bold">40</text>
<line x1="79.8" y1="123.5" x2="79.8" y2="126.5" stroke="#4a4a4a" stroke-width="1"/>
<text x="79.8" y="137.6" text-anchor="middle" font-size="7.4" font-weight="bold">60</text>
<line x1="93.2" y1="123.5" x2="93.2" y2="126.5" stroke="#4a4a4a" stroke-width="1"/>
<text x="93.2" y="137.6" text-anchor="middle" font-size="7.4" font-weight="bold">80</text>
<line x1="106.7" y1="123.5" x2="106.7" y2="126.5" stroke="#4a4a4a" stroke-width="1"/>
<text x="106.7" y="137.6" text-anchor="middle" font-size="7.4" font-weight="bold">100</text>
<line x1="120.1" y1="123.5" x2="120.1" y2="126.5" stroke="#4a4a4a" stroke-width="1"/>
<text x="120.1" y="137.6" text-anchor="middle" font-size="7.4" font-weight="bold">120</text>
<line x1="133.6" y1="123.5" x2="133.6" y2="126.5" stroke="#4a4a4a" stroke-width="1"/>
<text x="133.6" y="137.6" text-anchor="middle" font-size="7.4" font-weight="bold">140</text>
<line x1="147.0" y1="123.5" x2="147.0" y2="126.5" stroke="#4a4a4a" stroke-width="1"/>
<text x="147.0" y="137.6" text-anchor="middle" font-size="7.4" font-weight="bold">160</text>
<line x1="160.5" y1="123.5" x2="160.5" y2="126.5" stroke="#4a4a4a" stroke-width="1"/>
<text x="160.5" y="137.6" text-anchor="middle" font-size="7.4" font-weight="bold">180</text>
<line x1="173.9" y1="123.5" x2="173.9" y2="126.5" stroke="#4a4a4a" stroke-width="1"/>
<text x="173.9" y="137.6" text-anchor="middle" font-size="7.4" font-weight="bold">200</text>
<line x1="187.4" y1="123.5" x2="187.4" y2="126.5" stroke="#4a4a4a" stroke-width="1"/>
<text x="187.4" y="137.6" text-anchor="middle" font-size="7.4" font-weight="bold">220</text>
<line x1="200.8" y1="123.5" x2="200.8" y2="126.5" stroke="#4a4a4a" stroke-width="1"/>
<text x="200.8" y="137.6" text-anchor="middle" font-size="7.4" font-weight="bold">240</text>
<line x1="214.3" y1="123.5" x2="214.3" y2="126.5" stroke="#4a4a4a" stroke-width="1"/>
<text x="214.3" y="137.6" text-anchor="middle" font-size="7.4" font-weight="bold">260</text>
<line x1="227.7" y1="123.5" x2="227.7" y2="126.5" stroke="#4a4a4a" stroke-width="1"/>
<text x="227.7" y="137.6" text-anchor="middle" font-size="7.4" font-weight="bold">280</text>
<line x1="241.2" y1="123.5" x2="241.2" y2="126.5" stroke="#4a4a4a" stroke-width="1"/>
<text x="241.2" y="137.6" text-anchor="middle" font-size="7.4" font-weight="bold">300</text>
<rect x="42.3" y="15.2" width="127.3" height="16.2" fill="#fff" stroke="#444" stroke-width="1"/>
<circle cx="48.0" cy="19.2" r="1.3" fill="#3a2a20"/>
<text x="51.9" y="21.5" font-size="6.6" font-weight="bold">Beam 1</text>
<circle cx="79.8" cy="19.2" r="1.3" fill="#a6a6a6"/>
<text x="83.7" y="21.5" font-size="6.6" font-weight="bold">Beam 2</text>
<circle cx="111.7" cy="19.2" r="1.3" fill="#ffc000"/>
<text x="115.6" y="21.5" font-size="6.6" font-weight="bold">Beam 3</text>
<circle cx="142.9" cy="19.2" r="1.2" fill="none" stroke="#6a8ed8" stroke-width="0.6"/>
<text x="146.8" y="21.5" font-size="6.6" font-weight="bold">Beam 4</text>
<circle cx="48.0" cy="27.0" r="1.3" fill="#5cad34"/>
<text x="51.9" y="29.3" font-size="6.6" font-weight="bold">Beam 5</text>
<path d="M79.8 25.6L81.2 28.1L78.4 28.1Z" fill="#ff3c3c" fill-opacity="0.85"/>
<text x="83.7" y="29.3" font-size="6.6" font-weight="bold">Beam 6</text>
<circle cx="111.7" cy="27.0" r="1.2" fill="none" stroke="#c98a5e" stroke-width="0.6"/>
<text x="115.6" y="29.3" font-size="6.6" font-weight="bold">Beam 7</text>
<circle cx="142.9" cy="27.0" r="1.3" fill="#1f86c4"/>
<text x="146.8" y="29.3" font-size="6.6" font-weight="bold">Beam 8</text>
<text transform="translate(19.2,89.0) rotate(-90)" text-anchor="middle" font-size="7.74" font-weight="bold">GEDI - <tspan font-style="italic">in-situ</tspan> elevations (m)</text>
<text x="146.0" y="147.7" text-anchor="middle" font-size="7.7" font-weight="bold">GEDI shot number</text>
<text x="129.7" y="176.9" text-anchor="middle" font-size="12.4" letter-spacing="0.5" stroke="#222" stroke-width="0.2">(c)</text>
<line x1="318.5" y1="71.8" x2="524.6" y2="71.8" stroke="#c8c8c8" stroke-width="1"/>
<circle cx="321.1" cy="96.4" r="1.4" fill="#3a2a20"/>
<circle cx="327.0" cy="115.4" r="1.4" fill="#3a2a20"/>
<circle cx="333.1" cy="88.2" r="1.4" fill="#3a2a20"/>
<circle cx="338.8" cy="77.8" r="1.4" fill="#3a2a20"/>
<circle cx="341.9" cy="87.6" r="1.4" fill="#3a2a20"/>
<circle cx="345.0" cy="84.0" r="1.4" fill="#3a2a20"/>
<circle cx="348.1" cy="80.9" r="1.4" fill="#3a2a20"/>
<circle cx="350.7" cy="80.9" r="1.4" fill="#3a2a20"/>
<circle cx="353.5" cy="87.1" r="1.4" fill="#3a2a20"/>
<circle cx="356.6" cy="83.7" r="1.4" fill="#3a2a20"/>
<circle cx="359.7" cy="82.5" r="1.4" fill="#3a2a20"/>
<circle cx="362.8" cy="80.9" r="1.4" fill="#3a2a20"/>
<circle cx="365.1" cy="80.5" r="1.4" fill="#3a2a20"/>
<circle cx="371.3" cy="72.7" r="1.4" fill="#3a2a20"/>
<circle cx="374.4" cy="89.7" r="1.4" fill="#3a2a20"/>
<circle cx="377.5" cy="82.0" r="1.4" fill="#3a2a20"/>
<circle cx="379.8" cy="84.3" r="1.4" fill="#3a2a20"/>
<circle cx="382.9" cy="81.4" r="1.4" fill="#3a2a20"/>
<circle cx="368.2" cy="119.5" r="1.4" fill="#3a2a20"/>
<circle cx="324.2" cy="84.8" r="1.4" fill="#a6a6a6"/>
<circle cx="327.3" cy="70.1" r="1.4" fill="#a6a6a6"/>
<circle cx="330.0" cy="76.6" r="1.4" fill="#a6a6a6"/>
<circle cx="335.8" cy="75.8" r="1.4" fill="#a6a6a6"/>
<circle cx="338.8" cy="94.8" r="1.4" fill="#a6a6a6"/>
<circle cx="341.9" cy="113.8" r="1.4" fill="#a6a6a6"/>
<circle cx="348.1" cy="82.5" r="1.4" fill="#a6a6a6"/>
<circle cx="353.5" cy="59.8" r="1.4" fill="#a6a6a6"/>
<circle cx="348.1" cy="84.5" r="1.4" fill="#a6a6a6"/>
<circle cx="321.1" cy="85.6" r="1.4" fill="#ffc000"/>
<circle cx="324.2" cy="75.2" r="1.4" fill="#ffc000"/>
<circle cx="321.1" cy="90.2" r="1.3" fill="none" stroke="#6a8ed8" stroke-width="0.6"/>
<circle cx="324.2" cy="70.9" r="1.3" fill="none" stroke="#6a8ed8" stroke-width="0.6"/>
<circle cx="326.5" cy="81.4" r="1.3" fill="none" stroke="#6a8ed8" stroke-width="0.6"/>
<circle cx="329.6" cy="80.9" r="1.3" fill="none" stroke="#6a8ed8" stroke-width="0.6"/>
<circle cx="332.7" cy="76.6" r="1.3" fill="none" stroke="#6a8ed8" stroke-width="0.6"/>
<circle cx="335.8" cy="77.1" r="1.3" fill="none" stroke="#6a8ed8" stroke-width="0.6"/>
<circle cx="338.8" cy="73.2" r="1.3" fill="none" stroke="#6a8ed8" stroke-width="0.6"/>
<circle cx="341.9" cy="75.8" r="1.3" fill="none" stroke="#6a8ed8" stroke-width="0.6"/>
<circle cx="336.2" cy="52.7" r="1.8" fill="#dde6f7" stroke="#8eaadc" stroke-width="0.7"/>
<path d="M321.1 69.1L322.5 71.7L319.6 71.7Z" fill="#ff3c3c" fill-opacity="0.85"/>
<path d="M324.2 74.8L325.6 77.5L322.7 77.5Z" fill="#ff3c3c" fill-opacity="0.85"/>
<path d="M327.3 70.2L328.7 72.8L325.8 72.8Z" fill="#ff3c3c" fill-opacity="0.85"/>
<path d="M330.0 69.4L331.5 72.0L328.6 72.0Z" fill="#ff3c3c" fill-opacity="0.85"/>
<path d="M332.7 69.4L334.1 72.0L331.2 72.0Z" fill="#ff3c3c" fill-opacity="0.85"/>
<path d="M335.8 70.7L337.2 73.3L334.3 73.3Z" fill="#ff3c3c" fill-opacity="0.85"/>
<path d="M338.8 66.7L340.3 69.3L337.4 69.3Z" fill="#ff3c3c" fill-opacity="0.85"/>
<path d="M341.9 68.7L343.4 71.3L340.5 71.3Z" fill="#ff3c3c" fill-opacity="0.85"/>
<path d="M345.0 66.3L346.5 69.0L343.6 69.0Z" fill="#ff3c3c" fill-opacity="0.85"/>
<path d="M348.1 71.8L349.6 74.4L346.7 74.4Z" fill="#ff3c3c" fill-opacity="0.85"/>
<path d="M351.2 72.8L352.7 75.4L349.8 75.4Z" fill="#ff3c3c" fill-opacity="0.85"/>
<path d="M353.5 70.2L355.0 72.8L352.1 72.8Z" fill="#ff3c3c" fill-opacity="0.85"/>
<path d="M356.6 70.7L358.1 73.3L355.2 73.3Z" fill="#ff3c3c" fill-opacity="0.85"/>
<path d="M359.4 70.7L360.8 73.3L357.9 73.3Z" fill="#ff3c3c" fill-opacity="0.85"/>
<path d="M365.1 68.7L366.6 71.3L363.7 71.3Z" fill="#ff3c3c" fill-opacity="0.85"/>
<path d="M368.2 73.8L369.6 76.4L366.7 76.4Z" fill="#ff3c3c" fill-opacity="0.85"/>
<path d="M371.3 67.9L372.7 70.5L369.8 70.5Z" fill="#ff3c3c" fill-opacity="0.85"/>
<path d="M374.4 64.0L375.8 66.6L372.9 66.6Z" fill="#ff3c3c" fill-opacity="0.85"/>
<path d="M377.5 67.6L378.9 70.2L376.0 70.2Z" fill="#ff3c3c" fill-opacity="0.85"/>
<path d="M379.8 57.4L381.2 60.0L378.3 60.0Z" fill="#ff3c3c" fill-opacity="0.85"/>
<path d="M382.9 71.3L384.3 73.9L381.4 73.9Z" fill="#ff3c3c" fill-opacity="0.85"/>
<path d="M386.7 71.3L388.2 73.9L385.3 73.9Z" fill="#ff3c3c" fill-opacity="0.85"/>
<path d="M389.0 57.9L390.5 60.5L387.6 60.5Z" fill="#ff3c3c" fill-opacity="0.85"/>
<path d="M397.3 65.1L398.8 67.7L395.9 67.7Z" fill="#ff3c3c" fill-opacity="0.85"/>
<path d="M400.4 66.8L401.9 69.4L399.0 69.4Z" fill="#ff3c3c" fill-opacity="0.85"/>
<path d="M406.6 74.4L408.0 77.0L405.1 77.0Z" fill="#ff3c3c" fill-opacity="0.85"/>
<path d="M409.7 66.0L411.1 68.7L408.2 68.7Z" fill="#ff3c3c" fill-opacity="0.85"/>
<path d="M415.5 73.3L417.0 75.9L414.1 75.9Z" fill="#ff3c3c" fill-opacity="0.85"/>
<path d="M418.5 85.7L419.9 88.3L417.0 88.3Z" fill="#ff3c3c" fill-opacity="0.85"/>
<path d="M421.6 75.6L423.0 78.2L420.1 78.2Z" fill="#ff3c3c" fill-opacity="0.85"/>
<path d="M424.3 71.0L425.8 73.6L422.9 73.6Z" fill="#ff3c3c" fill-opacity="0.85"/>
<path d="M427.4 69.1L428.9 71.7L426.0 71.7Z" fill="#ff3c3c" fill-opacity="0.85"/>
<path d="M433.3 72.2L434.8 74.8L431.9 74.8Z" fill="#ff3c3c" fill-opacity="0.85"/>
<path d="M435.9 70.7L437.4 73.3L434.5 73.3Z" fill="#ff3c3c" fill-opacity="0.85"/>
<path d="M439.0 70.2L440.5 72.8L437.6 72.8Z" fill="#ff3c3c" fill-opacity="0.85"/>
<path d="M442.1 72.8L443.6 75.4L440.7 75.4Z" fill="#ff3c3c" fill-opacity="0.85"/>
<path d="M445.2 70.2L446.6 72.8L443.7 72.8Z" fill="#ff3c3c" fill-opacity="0.85"/>
<path d="M447.8 69.0L449.3 71.6L446.4 71.6Z" fill="#ff3c3c" fill-opacity="0.85"/>
<path d="M450.9 72.8L452.4 75.4L449.5 75.4Z" fill="#ff3c3c" fill-opacity="0.85"/>
<path d="M453.4 64.8L454.8 67.4L451.9 67.4Z" fill="#ff3c3c" fill-opacity="0.85"/>
<path d="M456.8 70.7L458.2 73.3L455.3 73.3Z" fill="#ff3c3c" fill-opacity="0.85"/>
<path d="M459.9 69.4L461.3 72.0L458.4 72.0Z" fill="#ff3c3c" fill-opacity="0.85"/>
<path d="M462.6 70.7L464.1 73.3L461.2 73.3Z" fill="#ff3c3c" fill-opacity="0.85"/>
<path d="M471.2 63.3L472.6 65.9L469.7 65.9Z" fill="#ff3c3c" fill-opacity="0.85"/>
<path d="M477.1 67.9L478.5 70.5L475.6 70.5Z" fill="#ff3c3c" fill-opacity="0.85"/>
<path d="M480.1 70.2L481.6 72.8L478.7 72.8Z" fill="#ff3c3c" fill-opacity="0.85"/>
<path d="M465.8 73.3L467.2 75.9L464.3 75.9Z" fill="#ff3c3c" fill-opacity="0.85"/>
<path d="M468.4 77.5L469.8 80.1L466.9 80.1Z" fill="#ff3c3c" fill-opacity="0.85"/>
<circle cx="321.1" cy="100.2" r="1.3" fill="none" stroke="#c98a5e" stroke-width="0.6"/>
<circle cx="324.2" cy="97.5" r="1.3" fill="none" stroke="#c98a5e" stroke-width="0.6"/>
<circle cx="327.3" cy="102.1" r="1.3" fill="none" stroke="#c98a5e" stroke-width="0.6"/>
<circle cx="330.0" cy="98.4" r="1.3" fill="none" stroke="#c98a5e" stroke-width="0.6"/>
<circle cx="333.1" cy="81.4" r="1.3" fill="none" stroke="#c98a5e" stroke-width="0.6"/>
<circle cx="335.8" cy="81.4" r="1.3" fill="none" stroke="#c98a5e" stroke-width="0.6"/>
<circle cx="338.8" cy="87.1" r="1.3" fill="none" stroke="#c98a5e" stroke-width="0.6"/>
<circle cx="341.9" cy="80.5" r="1.3" fill="none" stroke="#c98a5e" stroke-width="0.6"/>
<circle cx="345.0" cy="77.1" r="1.3" fill="none" stroke="#c98a5e" stroke-width="0.6"/>
<circle cx="348.1" cy="79.4" r="1.3" fill="none" stroke="#c98a5e" stroke-width="0.6"/>
<circle cx="351.2" cy="78.6" r="1.3" fill="none" stroke="#c98a5e" stroke-width="0.6"/>
<circle cx="353.8" cy="74.9" r="1.3" fill="none" stroke="#c98a5e" stroke-width="0.6"/>
<circle cx="356.6" cy="79.8" r="1.3" fill="none" stroke="#c98a5e" stroke-width="0.6"/>
<circle cx="359.7" cy="77.8" r="1.3" fill="none" stroke="#c98a5e" stroke-width="0.6"/>
<circle cx="362.8" cy="77.8" r="1.3" fill="none" stroke="#c98a5e" stroke-width="0.6"/>
<circle cx="365.6" cy="77.5" r="1.3" fill="none" stroke="#c98a5e" stroke-width="0.6"/>
<circle cx="374.4" cy="80.2" r="1.3" fill="none" stroke="#c98a5e" stroke-width="0.6"/>
<circle cx="377.5" cy="71.7" r="1.3" fill="none" stroke="#c98a5e" stroke-width="0.6"/>
<circle cx="379.8" cy="77.8" r="1.3" fill="none" stroke="#c98a5e" stroke-width="0.6"/>
<circle cx="382.9" cy="72.4" r="1.3" fill="none" stroke="#c98a5e" stroke-width="0.6"/>
<circle cx="386.0" cy="67.5" r="1.3" fill="none" stroke="#c98a5e" stroke-width="0.6"/>
<circle cx="389.0" cy="80.5" r="1.3" fill="none" stroke="#c98a5e" stroke-width="0.6"/>
<circle cx="392.1" cy="81.4" r="1.3" fill="none" stroke="#c98a5e" stroke-width="0.6"/>
<circle cx="395.0" cy="79.4" r="1.3" fill="none" stroke="#c98a5e" stroke-width="0.6"/>
<circle cx="397.3" cy="91.4" r="1.3" fill="none" stroke="#c98a5e" stroke-width="0.6"/>
<circle cx="400.4" cy="77.8" r="1.3" fill="none" stroke="#c98a5e" stroke-width="0.6"/>
<circle cx="403.5" cy="87.4" r="1.3" fill="none" stroke="#c98a5e" stroke-width="0.6"/>
<circle cx="406.6" cy="86.3" r="1.3" fill="none" stroke="#c98a5e" stroke-width="0.6"/>
<circle cx="409.7" cy="77.8" r="1.3" fill="none" stroke="#c98a5e" stroke-width="0.6"/>
<circle cx="412.3" cy="98.4" r="1.3" fill="none" stroke="#c98a5e" stroke-width="0.6"/>
<circle cx="415.4" cy="85.3" r="1.3" fill="none" stroke="#c98a5e" stroke-width="0.6"/>
<circle cx="418.5" cy="89.4" r="1.3" fill="none" stroke="#c98a5e" stroke-width="0.6"/>
<circle cx="421.6" cy="102.2" r="1.3" fill="none" stroke="#c98a5e" stroke-width="0.6"/>
<circle cx="424.3" cy="88.6" r="1.3" fill="none" stroke="#c98a5e" stroke-width="0.6"/>
<circle cx="427.1" cy="101.8" r="1.3" fill="none" stroke="#c98a5e" stroke-width="0.6"/>
<circle cx="430.2" cy="97.1" r="1.3" fill="none" stroke="#c98a5e" stroke-width="0.6"/>
<circle cx="433.3" cy="103.3" r="1.3" fill="none" stroke="#c98a5e" stroke-width="0.6"/>
<circle cx="435.9" cy="92.8" r="1.3" fill="none" stroke="#c98a5e" stroke-width="0.6"/>
<circle cx="439.0" cy="70.9" r="1.3" fill="none" stroke="#c98a5e" stroke-width="0.6"/>
<circle cx="441.6" cy="81.4" r="1.3" fill="none" stroke="#c98a5e" stroke-width="0.6"/>
<circle cx="444.7" cy="91.0" r="1.3" fill="none" stroke="#c98a5e" stroke-width="0.6"/>
<circle cx="447.5" cy="80.5" r="1.3" fill="none" stroke="#c98a5e" stroke-width="0.6"/>
<circle cx="450.9" cy="79.4" r="1.3" fill="none" stroke="#c98a5e" stroke-width="0.6"/>
<circle cx="453.7" cy="96.8" r="1.3" fill="none" stroke="#c98a5e" stroke-width="0.6"/>
<circle cx="456.8" cy="102.5" r="1.3" fill="none" stroke="#c98a5e" stroke-width="0.6"/>
<circle cx="459.6" cy="98.4" r="1.3" fill="none" stroke="#c98a5e" stroke-width="0.6"/>
<circle cx="462.6" cy="100.2" r="1.3" fill="none" stroke="#c98a5e" stroke-width="0.6"/>
<circle cx="465.8" cy="95.3" r="1.3" fill="none" stroke="#c98a5e" stroke-width="0.6"/>
<circle cx="468.4" cy="92.2" r="1.3" fill="none" stroke="#c98a5e" stroke-width="0.6"/>
<circle cx="471.2" cy="73.7" r="1.3" fill="none" stroke="#c98a5e" stroke-width="0.6"/>
<circle cx="474.3" cy="76.5" r="1.3" fill="none" stroke="#c98a5e" stroke-width="0.6"/>
<circle cx="477.1" cy="77.9" r="1.3" fill="none" stroke="#c98a5e" stroke-width="0.6"/>
<circle cx="480.1" cy="78.9" r="1.3" fill="none" stroke="#c98a5e" stroke-width="0.6"/>
<circle cx="486.0" cy="77.1" r="1.3" fill="none" stroke="#c98a5e" stroke-width="0.6"/>
<circle cx="321.1" cy="92.5" r="1.4" fill="#1f86c4"/>
<circle cx="324.2" cy="92.0" r="1.4" fill="#1f86c4"/>
<circle cx="327.3" cy="91.0" r="1.4" fill="#1f86c4"/>
<circle cx="330.0" cy="92.2" r="1.4" fill="#1f86c4"/>
<circle cx="333.1" cy="91.7" r="1.4" fill="#1f86c4"/>
<circle cx="336.2" cy="91.0" r="1.4" fill="#1f86c4"/>
<circle cx="338.8" cy="91.0" r="1.4" fill="#1f86c4"/>
<circle cx="341.9" cy="91.0" r="1.4" fill="#1f86c4"/>
<circle cx="345.0" cy="90.7" r="1.4" fill="#1f86c4"/>
<circle cx="347.8" cy="90.2" r="1.4" fill="#1f86c4"/>
<circle cx="350.4" cy="87.6" r="1.4" fill="#1f86c4"/>
<circle cx="353.5" cy="87.1" r="1.4" fill="#1f86c4"/>
<circle cx="353.8" cy="95.3" r="1.4" fill="#1f86c4"/>
<circle cx="359.4" cy="94.8" r="1.4" fill="#1f86c4"/>
<circle cx="356.6" cy="72.4" r="1.4" fill="#1f86c4"/>
<circle cx="359.7" cy="72.4" r="1.4" fill="#1f86c4"/>
<circle cx="362.8" cy="71.7" r="1.4" fill="#1f86c4"/>
<circle cx="365.1" cy="72.4" r="1.4" fill="#1f86c4"/>
<circle cx="368.2" cy="73.2" r="1.4" fill="#1f86c4"/>
<circle cx="371.3" cy="76.8" r="1.4" fill="#1f86c4"/>
<circle cx="374.4" cy="70.3" r="1.4" fill="#1f86c4"/>
<circle cx="377.5" cy="86.0" r="1.4" fill="#1f86c4"/>
<circle cx="379.8" cy="79.4" r="1.4" fill="#1f86c4"/>
<circle cx="382.9" cy="70.1" r="1.4" fill="#1f86c4"/>
<circle cx="386.0" cy="73.2" r="1.4" fill="#1f86c4"/>
<circle cx="389.0" cy="71.7" r="1.4" fill="#1f86c4"/>
<circle cx="392.1" cy="70.1" r="1.4" fill="#1f86c4"/>
<circle cx="330.0" cy="80.9" r="1.4" fill="#1f86c4"/>
<circle cx="327.3" cy="81.2" r="1.4" fill="#1f86c4"/>
<circle cx="395.0" cy="70.6" r="1.4" fill="#1f86c4"/>
<circle cx="397.8" cy="75.2" r="1.4" fill="#1f86c4"/>
<circle cx="400.9" cy="70.6" r="1.4" fill="#1f86c4"/>
<circle cx="403.5" cy="70.6" r="1.4" fill="#1f86c4"/>
<circle cx="406.6" cy="78.6" r="1.4" fill="#1f86c4"/>
<circle cx="409.7" cy="67.0" r="1.4" fill="#1f86c4"/>
<circle cx="412.8" cy="72.7" r="1.4" fill="#1f86c4"/>
<circle cx="415.8" cy="72.7" r="1.4" fill="#1f86c4"/>
<circle cx="418.5" cy="77.1" r="1.4" fill="#1f86c4"/>
<circle cx="421.6" cy="75.2" r="1.4" fill="#1f86c4"/>
<circle cx="424.3" cy="94.1" r="1.4" fill="#1f86c4"/>
<circle cx="427.1" cy="90.7" r="1.4" fill="#1f86c4"/>
<circle cx="430.2" cy="68.7" r="1.4" fill="#1f86c4"/>
<circle cx="433.3" cy="77.5" r="1.4" fill="#1f86c4"/>
<circle cx="435.9" cy="83.2" r="1.4" fill="#1f86c4"/>
<circle cx="439.0" cy="73.7" r="1.4" fill="#1f86c4"/>
<circle cx="442.1" cy="68.6" r="1.4" fill="#1f86c4"/>
<circle cx="444.7" cy="78.6" r="1.4" fill="#1f86c4"/>
<circle cx="447.8" cy="90.7" r="1.4" fill="#1f86c4"/>
<circle cx="450.9" cy="93.7" r="1.4" fill="#1f86c4"/>
<circle cx="453.7" cy="90.7" r="1.4" fill="#1f86c4"/>
<circle cx="456.8" cy="80.2" r="1.4" fill="#1f86c4"/>
<circle cx="459.9" cy="70.9" r="1.4" fill="#1f86c4"/>
<circle cx="462.6" cy="70.3" r="1.4" fill="#1f86c4"/>
<circle cx="465.8" cy="72.8" r="1.4" fill="#1f86c4"/>
<circle cx="468.4" cy="72.8" r="1.4" fill="#1f86c4"/>
<circle cx="471.2" cy="89.5" r="1.4" fill="#1f86c4"/>
<circle cx="474.3" cy="72.8" r="1.4" fill="#1f86c4"/>
<circle cx="477.1" cy="73.7" r="1.4" fill="#1f86c4"/>
<circle cx="480.1" cy="74.3" r="1.4" fill="#1f86c4"/>
<circle cx="483.1" cy="79.9" r="1.4" fill="#1f86c4"/>
<circle cx="486.0" cy="87.9" r="1.4" fill="#1f86c4"/>
<circle cx="489.1" cy="81.3" r="1.4" fill="#1f86c4"/>
<circle cx="492.0" cy="75.2" r="1.4" fill="#1f86c4"/>
<circle cx="495.0" cy="72.8" r="1.4" fill="#1f86c4"/>
<circle cx="497.9" cy="77.9" r="1.4" fill="#1f86c4"/>
<circle cx="500.9" cy="75.5" r="1.4" fill="#1f86c4"/>
<circle cx="503.8" cy="78.6" r="1.4" fill="#1f86c4"/>
<circle cx="506.7" cy="71.7" r="1.4" fill="#1f86c4"/>
<circle cx="509.8" cy="72.5" r="1.4" fill="#1f86c4"/>
<circle cx="512.9" cy="73.2" r="1.4" fill="#1f86c4"/>
<circle cx="515.7" cy="77.9" r="1.4" fill="#1f86c4"/>
<circle cx="518.5" cy="76.3" r="1.4" fill="#1f86c4"/>
<circle cx="521.6" cy="72.1" r="1.4" fill="#1f86c4"/>
<circle cx="524.3" cy="73.7" r="1.4" fill="#1f86c4"/>
<path d="M318.5 18.0V125.5H524.6" fill="none" stroke="#4a4a4a" stroke-width="1.2"/>
<line x1="315.9" y1="18.0" x2="318.5" y2="18.0" stroke="#4a4a4a" stroke-width="1"/>
<text x="311.0" y="21.0" text-anchor="end" font-size="7.4" font-weight="bold">1.0</text>
<line x1="315.9" y1="44.9" x2="318.5" y2="44.9" stroke="#4a4a4a" stroke-width="1"/>
<text x="311.0" y="47.9" text-anchor="end" font-size="7.4" font-weight="bold">0.5</text>
<line x1="315.9" y1="71.8" x2="318.5" y2="71.8" stroke="#4a4a4a" stroke-width="1"/>
<text x="311.0" y="74.8" text-anchor="end" font-size="7.4" font-weight="bold">0.0</text>
<line x1="315.9" y1="98.6" x2="318.5" y2="98.6" stroke="#4a4a4a" stroke-width="1"/>
<text x="311.0" y="101.6" text-anchor="end" font-size="7.4" font-weight="bold">-0.5</text>
<line x1="315.9" y1="125.5" x2="318.5" y2="125.5" stroke="#4a4a4a" stroke-width="1"/>
<text x="311.0" y="128.5" text-anchor="end" font-size="7.4" font-weight="bold">-1.0</text>
<line x1="318.5" y1="125.5" x2="318.5" y2="128.5" stroke="#4a4a4a" stroke-width="1"/>
<text x="318.5" y="139.1" text-anchor="middle" font-size="7.4" font-weight="bold">0</text>
<line x1="347.9" y1="125.5" x2="347.9" y2="128.5" stroke="#4a4a4a" stroke-width="1"/>
<text x="347.9" y="139.1" text-anchor="middle" font-size="7.4" font-weight="bold">10</text>
<line x1="377.4" y1="125.5" x2="377.4" y2="128.5" stroke="#4a4a4a" stroke-width="1"/>
<text x="377.4" y="139.1" text-anchor="middle" font-size="7.4" font-weight="bold">20</text>
<line x1="406.8" y1="125.5" x2="406.8" y2="128.5" stroke="#4a4a4a" stroke-width="1"/>
<text x="406.8" y="139.1" text-anchor="middle" font-size="7.4" font-weight="bold">30</text>
<line x1="436.3" y1="125.5" x2="436.3" y2="128.5" stroke="#4a4a4a" stroke-width="1"/>
<text x="436.3" y="139.1" text-anchor="middle" font-size="7.4" font-weight="bold">40</text>
<line x1="465.7" y1="125.5" x2="465.7" y2="128.5" stroke="#4a4a4a" stroke-width="1"/>
<text x="465.7" y="139.1" text-anchor="middle" font-size="7.4" font-weight="bold">50</text>
<line x1="495.2" y1="125.5" x2="495.2" y2="128.5" stroke="#4a4a4a" stroke-width="1"/>
<text x="495.2" y="139.1" text-anchor="middle" font-size="7.4" font-weight="bold">60</text>
<line x1="524.6" y1="125.5" x2="524.6" y2="128.5" stroke="#4a4a4a" stroke-width="1"/>
<text x="524.6" y="139.1" text-anchor="middle" font-size="7.4" font-weight="bold">70</text>
<rect x="320.3" y="13.6" width="130.2" height="16.7" fill="#fff" stroke="#444" stroke-width="1"/>
<circle cx="325.8" cy="18.1" r="1.3" fill="#3a2a20"/>
<text x="330.3" y="20.4" font-size="6.6" font-weight="bold">Beam 1</text>
<circle cx="358.4" cy="18.1" r="1.3" fill="#a6a6a6"/>
<text x="362.9" y="20.4" font-size="6.6" font-weight="bold">Beam 2</text>
<circle cx="391.0" cy="18.1" r="1.3" fill="#ffc000"/>
<text x="395.5" y="20.4" font-size="6.6" font-weight="bold">Beam 3</text>
<circle cx="423.6" cy="18.1" r="1.2" fill="none" stroke="#6a8ed8" stroke-width="0.6"/>
<text x="428.1" y="20.4" font-size="6.6" font-weight="bold">Beam 4</text>
<circle cx="325.8" cy="26.2" r="1.3" fill="#5cad34"/>
<text x="330.3" y="28.5" font-size="6.6" font-weight="bold">Beam 5</text>
<path d="M358.4 24.8L359.8 27.3L357.0 27.3Z" fill="#ff3c3c" fill-opacity="0.85"/>
<text x="362.9" y="28.5" font-size="6.6" font-weight="bold">Beam 6</text>
<circle cx="391.0" cy="26.2" r="1.2" fill="none" stroke="#c98a5e" stroke-width="0.6"/>
<text x="395.5" y="28.5" font-size="6.6" font-weight="bold">Beam 7</text>
<circle cx="423.6" cy="26.2" r="1.3" fill="#1f86c4"/>
<text x="428.1" y="28.5" font-size="6.6" font-weight="bold">Beam 8</text>
<text transform="translate(297.2,89.7) rotate(-90)" text-anchor="middle" font-size="7.95" font-weight="bold">GEDI - <tspan font-style="italic">in-situ</tspan> elevations (m)</text>
<text x="426.4" y="150.2" text-anchor="middle" font-size="7.87" font-weight="bold">GEDI shot number</text>
<text x="409.2" y="177.4" text-anchor="middle" font-size="12.4" letter-spacing="0.5" stroke="#222" stroke-width="0.2">(d)</text>
<line x1="37.0" y1="252.2" x2="243.8" y2="252.2" stroke="#c8c8c8" stroke-width="1"/>
<circle cx="38.2" cy="265.7" r="1.4" fill="#3a2a20"/>
<circle cx="42.0" cy="263.8" r="1.4" fill="#3a2a20"/>
<circle cx="47.8" cy="263.4" r="1.4" fill="#3a2a20"/>
<circle cx="50.1" cy="261.9" r="1.4" fill="#3a2a20"/>
<circle cx="54.0" cy="260.1" r="1.4" fill="#3a2a20"/>
<circle cx="58.7" cy="260.9" r="1.4" fill="#3a2a20"/>
<circle cx="37.2" cy="253.4" r="1.4" fill="#a6a6a6"/>
<circle cx="40.9" cy="262.1" r="1.4" fill="#a6a6a6"/>
<circle cx="47.6" cy="255.5" r="1.4" fill="#a6a6a6"/>
<circle cx="49.6" cy="258.5" r="1.4" fill="#a6a6a6"/>
<circle cx="54.3" cy="262.9" r="1.4" fill="#a6a6a6"/>
<circle cx="58.4" cy="260.8" r="1.4" fill="#a6a6a6"/>
<circle cx="50.4" cy="278.8" r="1.4" fill="#a6a6a6"/>
<circle cx="37.3" cy="263.4" r="1.4" fill="#ffc000"/>
<circle cx="37.8" cy="262.7" r="1.4" fill="#ffc000"/>
<circle cx="38.6" cy="265.4" r="1.4" fill="#ffc000"/>
<circle cx="39.6" cy="262.8" r="1.4" fill="#ffc000"/>
<circle cx="40.3" cy="262.7" r="1.4" fill="#ffc000"/>
<circle cx="41.0" cy="259.1" r="1.4" fill="#ffc000"/>
<circle cx="42.0" cy="260.0" r="1.4" fill="#ffc000"/>
<circle cx="42.4" cy="263.8" r="1.4" fill="#ffc000"/>
<circle cx="43.5" cy="260.2" r="1.4" fill="#ffc000"/>
<circle cx="44.5" cy="261.2" r="1.4" fill="#ffc000"/>
<circle cx="44.9" cy="260.8" r="1.4" fill="#ffc000"/>
<circle cx="45.4" cy="265.0" r="1.4" fill="#ffc000"/>
<circle cx="46.2" cy="264.5" r="1.4" fill="#ffc000"/>
<circle cx="47.3" cy="261.3" r="1.4" fill="#ffc000"/>
<circle cx="47.9" cy="259.8" r="1.4" fill="#ffc000"/>
<circle cx="48.6" cy="258.7" r="1.4" fill="#ffc000"/>
<circle cx="49.9" cy="265.4" r="1.4" fill="#ffc000"/>
<circle cx="50.2" cy="265.3" r="1.4" fill="#ffc000"/>
<circle cx="51.3" cy="265.0" r="1.4" fill="#ffc000"/>
<circle cx="51.5" cy="264.6" r="1.4" fill="#ffc000"/>
<circle cx="52.6" cy="268.9" r="1.4" fill="#ffc000"/>
<circle cx="53.3" cy="261.1" r="1.4" fill="#ffc000"/>
<circle cx="54.0" cy="262.3" r="1.4" fill="#ffc000"/>
<circle cx="55.0" cy="267.6" r="1.4" fill="#ffc000"/>
<circle cx="55.8" cy="262.4" r="1.4" fill="#ffc000"/>
<circle cx="57.1" cy="265.5" r="1.4" fill="#ffc000"/>
<circle cx="58.2" cy="269.4" r="1.4" fill="#ffc000"/>
<circle cx="52.6" cy="274.9" r="1.4" fill="#ffc000"/>
<circle cx="54.9" cy="279.9" r="1.4" fill="#ffc000"/>
<rect x="35.9" y="259.3" width="2.5" height="2.5" fill="none" stroke="#6a8ed8" stroke-width="0.6"/>
<rect x="36.7" y="266.4" width="2.5" height="2.5" fill="none" stroke="#6a8ed8" stroke-width="0.6"/>
<rect x="37.7" y="264.6" width="2.5" height="2.5" fill="none" stroke="#6a8ed8" stroke-width="0.6"/>
<rect x="39.0" y="262.9" width="2.5" height="2.5" fill="none" stroke="#6a8ed8" stroke-width="0.6"/>
<rect x="39.4" y="261.6" width="2.5" height="2.5" fill="none" stroke="#6a8ed8" stroke-width="0.6"/>
<rect x="40.2" y="264.7" width="2.5" height="2.5" fill="none" stroke="#6a8ed8" stroke-width="0.6"/>
<rect x="41.2" y="261.5" width="2.5" height="2.5" fill="none" stroke="#6a8ed8" stroke-width="0.6"/>
<rect x="41.7" y="256.4" width="2.5" height="2.5" fill="none" stroke="#6a8ed8" stroke-width="0.6"/>
<rect x="42.8" y="262.7" width="2.5" height="2.5" fill="none" stroke="#6a8ed8" stroke-width="0.6"/>
<rect x="43.2" y="261.7" width="2.5" height="2.5" fill="none" stroke="#6a8ed8" stroke-width="0.6"/>
<rect x="44.7" y="259.0" width="2.5" height="2.5" fill="none" stroke="#6a8ed8" stroke-width="0.6"/>
<rect x="45.4" y="267.5" width="2.5" height="2.5" fill="none" stroke="#6a8ed8" stroke-width="0.6"/>
<rect x="45.9" y="262.6" width="2.5" height="2.5" fill="none" stroke="#6a8ed8" stroke-width="0.6"/>
<rect x="46.4" y="265.2" width="2.5" height="2.5" fill="none" stroke="#6a8ed8" stroke-width="0.6"/>
<rect x="47.3" y="268.5" width="2.5" height="2.5" fill="none" stroke="#6a8ed8" stroke-width="0.6"/>
<rect x="48.8" y="267.0" width="2.5" height="2.5" fill="none" stroke="#6a8ed8" stroke-width="0.6"/>
<rect x="49.6" y="260.9" width="2.5" height="2.5" fill="none" stroke="#6a8ed8" stroke-width="0.6"/>
<rect x="50.2" y="264.9" width="2.5" height="2.5" fill="none" stroke="#6a8ed8" stroke-width="0.6"/>
<rect x="50.9" y="261.1" width="2.5" height="2.5" fill="none" stroke="#6a8ed8" stroke-width="0.6"/>
<rect x="52.1" y="267.0" width="2.5" height="2.5" fill="none" stroke="#6a8ed8" stroke-width="0.6"/>
<rect x="52.5" y="263.4" width="2.5" height="2.5" fill="none" stroke="#6a8ed8" stroke-width="0.6"/>
<rect x="53.1" y="257.9" width="2.5" height="2.5" fill="none" stroke="#6a8ed8" stroke-width="0.6"/>
<circle cx="62.4" cy="244.0" r="1.4" fill="#5cad34"/>
<circle cx="63.3" cy="244.5" r="1.4" fill="#5cad34"/>
<circle cx="64.4" cy="243.4" r="1.4" fill="#5cad34"/>
<circle cx="64.8" cy="244.0" r="1.4" fill="#5cad34"/>
<circle cx="66.1" cy="242.0" r="1.4" fill="#5cad34"/>
<circle cx="67.4" cy="241.9" r="1.4" fill="#5cad34"/>
<circle cx="68.2" cy="244.1" r="1.4" fill="#5cad34"/>
<circle cx="69.2" cy="244.4" r="1.4" fill="#5cad34"/>
<circle cx="70.3" cy="245.0" r="1.4" fill="#5cad34"/>
<circle cx="70.6" cy="240.5" r="1.4" fill="#5cad34"/>
<circle cx="72.2" cy="239.2" r="1.4" fill="#5cad34"/>
<circle cx="73.1" cy="239.6" r="1.4" fill="#5cad34"/>
<circle cx="73.7" cy="243.7" r="1.4" fill="#5cad34"/>
<circle cx="75.0" cy="239.5" r="1.4" fill="#5cad34"/>
<circle cx="38.0" cy="251.3" r="1.4" fill="#5cad34"/>
<circle cx="38.9" cy="250.1" r="1.4" fill="#5cad34"/>
<circle cx="40.6" cy="245.7" r="1.4" fill="#5cad34"/>
<circle cx="42.5" cy="246.2" r="1.4" fill="#5cad34"/>
<circle cx="43.7" cy="248.4" r="1.4" fill="#5cad34"/>
<circle cx="46.6" cy="250.1" r="1.4" fill="#5cad34"/>
<circle cx="47.5" cy="251.3" r="1.4" fill="#5cad34"/>
<circle cx="49.8" cy="249.6" r="1.4" fill="#5cad34"/>
<circle cx="50.7" cy="251.5" r="1.4" fill="#5cad34"/>
<circle cx="52.7" cy="250.9" r="1.4" fill="#5cad34"/>
<circle cx="53.9" cy="250.1" r="1.4" fill="#5cad34"/>
<circle cx="56.4" cy="249.9" r="1.4" fill="#5cad34"/>
<circle cx="57.5" cy="246.1" r="1.4" fill="#5cad34"/>
<circle cx="59.3" cy="249.9" r="1.4" fill="#5cad34"/>
<circle cx="60.7" cy="250.6" r="1.4" fill="#5cad34"/>
<circle cx="73.7" cy="262.7" r="1.4" fill="#5cad34"/>
<circle cx="75.9" cy="265.5" r="1.4" fill="#5cad34"/>
<circle cx="78.1" cy="263.3" r="1.4" fill="#5cad34"/>
<circle cx="80.4" cy="264.4" r="1.4" fill="#5cad34"/>
<circle cx="82.6" cy="265.5" r="1.4" fill="#5cad34"/>
<circle cx="84.8" cy="266.6" r="1.4" fill="#5cad34"/>
<circle cx="87.0" cy="265.0" r="1.4" fill="#5cad34"/>
<circle cx="89.2" cy="268.3" r="1.4" fill="#5cad34"/>
<circle cx="91.5" cy="271.6" r="1.4" fill="#5cad34"/>
<circle cx="93.7" cy="273.8" r="1.4" fill="#5cad34"/>
<circle cx="77.6" cy="269.4" r="1.4" fill="#5cad34"/>
<circle cx="79.8" cy="268.8" r="1.4" fill="#5cad34"/>
<circle cx="80.9" cy="281.0" r="1.4" fill="#5cad34"/>
<circle cx="73.7" cy="266.1" r="1.4" fill="#5cad34"/>
<circle cx="74.2" cy="266.2" r="1.4" fill="#5cad34"/>
<circle cx="76.9" cy="262.1" r="1.4" fill="#5cad34"/>
<circle cx="79.7" cy="264.1" r="1.4" fill="#5cad34"/>
<circle cx="82.4" cy="266.8" r="1.4" fill="#5cad34"/>
<circle cx="85.1" cy="265.5" r="1.4" fill="#5cad34"/>
<circle cx="87.8" cy="268.2" r="1.4" fill="#5cad34"/>
<circle cx="90.6" cy="270.9" r="1.4" fill="#5cad34"/>
<circle cx="93.3" cy="273.7" r="1.4" fill="#5cad34"/>
<circle cx="96.0" cy="275.0" r="1.4" fill="#5cad34"/>
<circle cx="98.8" cy="281.8" r="1.4" fill="#5cad34"/>
<circle cx="102.8" cy="281.8" r="1.4" fill="#5cad34"/>
<circle cx="98.8" cy="270.9" r="1.4" fill="#5cad34"/>
<circle cx="101.5" cy="269.6" r="1.4" fill="#5cad34"/>
<circle cx="104.2" cy="266.8" r="1.4" fill="#5cad34"/>
<circle cx="100.1" cy="264.1" r="1.4" fill="#5cad34"/>
<circle cx="76.9" cy="269.6" r="1.4" fill="#5cad34"/>
<circle cx="79.7" cy="268.9" r="1.4" fill="#5cad34"/>
<circle cx="81.0" cy="281.2" r="1.4" fill="#5cad34"/>
<circle cx="75.6" cy="262.7" r="1.4" fill="#5cad34"/>
<circle cx="83.7" cy="262.7" r="1.4" fill="#5cad34"/>
<circle cx="106.1" cy="258.0" r="1.4" fill="#5cad34"/>
<circle cx="107.5" cy="262.1" r="1.4" fill="#5cad34"/>
<circle cx="104.1" cy="266.8" r="1.4" fill="#5cad34"/>
<circle cx="105.5" cy="268.9" r="1.4" fill="#5cad34"/>
<circle cx="102.7" cy="269.6" r="1.4" fill="#5cad34"/>
<circle cx="105.5" cy="275.0" r="1.4" fill="#5cad34"/>
<circle cx="103.0" cy="281.8" r="1.4" fill="#5cad34"/>
<path d="M37.8 238.4L39.3 241.0L36.4 241.0Z" fill="#ff3c3c" fill-opacity="0.85"/>
<path d="M38.1 239.2L39.5 241.8L36.6 241.8Z" fill="#ff3c3c" fill-opacity="0.85"/>
<path d="M39.2 236.8L40.6 239.4L37.7 239.4Z" fill="#ff3c3c" fill-opacity="0.85"/>
<path d="M40.6 239.5L42.1 242.2L39.2 242.2Z" fill="#ff3c3c" fill-opacity="0.85"/>
<path d="M41.5 234.8L42.9 237.4L40.0 237.4Z" fill="#ff3c3c" fill-opacity="0.85"/>
<path d="M42.1 241.2L43.6 243.8L40.7 243.8Z" fill="#ff3c3c" fill-opacity="0.85"/>
<path d="M43.1 237.0L44.6 239.6L41.7 239.6Z" fill="#ff3c3c" fill-opacity="0.85"/>
<path d="M44.0 237.7L45.5 240.3L42.6 240.3Z" fill="#ff3c3c" fill-opacity="0.85"/>
<path d="M44.7 238.9L46.1 241.5L43.2 241.5Z" fill="#ff3c3c" fill-opacity="0.85"/>
<path d="M46.4 239.6L47.9 242.2L45.0 242.2Z" fill="#ff3c3c" fill-opacity="0.85"/>
<path d="M47.4 232.8L48.8 235.4L45.9 235.4Z" fill="#ff3c3c" fill-opacity="0.85"/>
<path d="M47.9 235.5L49.4 238.1L46.5 238.1Z" fill="#ff3c3c" fill-opacity="0.85"/>
<path d="M48.5 234.8L49.9 237.4L47.0 237.4Z" fill="#ff3c3c" fill-opacity="0.85"/>
<path d="M50.3 238.0L51.7 240.6L48.8 240.6Z" fill="#ff3c3c" fill-opacity="0.85"/>
<path d="M50.5 239.9L51.9 242.5L49.0 242.5Z" fill="#ff3c3c" fill-opacity="0.85"/>
<path d="M51.5 236.9L52.9 239.5L50.0 239.5Z" fill="#ff3c3c" fill-opacity="0.85"/>
<path d="M52.3 238.7L53.8 241.3L50.9 241.3Z" fill="#ff3c3c" fill-opacity="0.85"/>
<path d="M53.6 236.6L55.1 239.2L52.2 239.2Z" fill="#ff3c3c" fill-opacity="0.85"/>
<path d="M54.4 244.5L55.8 247.1L52.9 247.1Z" fill="#ff3c3c" fill-opacity="0.85"/>
<path d="M56.1 242.3L57.5 244.9L54.6 244.9Z" fill="#ff3c3c" fill-opacity="0.85"/>
<path d="M56.8 236.3L58.2 239.0L55.3 239.0Z" fill="#ff3c3c" fill-opacity="0.85"/>
<path d="M57.1 238.4L58.6 241.0L55.7 241.0Z" fill="#ff3c3c" fill-opacity="0.85"/>
<path d="M58.2 238.7L59.7 241.3L56.8 241.3Z" fill="#ff3c3c" fill-opacity="0.85"/>
<path d="M59.9 238.1L61.3 240.7L58.4 240.7Z" fill="#ff3c3c" fill-opacity="0.85"/>
<path d="M60.6 237.2L62.0 239.8L59.1 239.8Z" fill="#ff3c3c" fill-opacity="0.85"/>
<path d="M61.7 236.3L63.2 238.9L60.3 238.9Z" fill="#ff3c3c" fill-opacity="0.85"/>
<path d="M62.1 242.1L63.5 244.7L60.6 244.7Z" fill="#ff3c3c" fill-opacity="0.85"/>
<path d="M63.7 240.1L65.2 242.7L62.3 242.7Z" fill="#ff3c3c" fill-opacity="0.85"/>
<path d="M64.0 239.2L65.5 241.8L62.6 241.8Z" fill="#ff3c3c" fill-opacity="0.85"/>
<path d="M64.8 241.6L66.2 244.2L63.3 244.2Z" fill="#ff3c3c" fill-opacity="0.85"/>
<path d="M66.0 241.7L67.4 244.3L64.5 244.3Z" fill="#ff3c3c" fill-opacity="0.85"/>
<path d="M67.1 238.7L68.5 241.3L65.6 241.3Z" fill="#ff3c3c" fill-opacity="0.85"/>
<path d="M67.8 238.3L69.3 240.9L66.4 240.9Z" fill="#ff3c3c" fill-opacity="0.85"/>
<path d="M69.4 239.9L70.8 242.6L67.9 242.6Z" fill="#ff3c3c" fill-opacity="0.85"/>
<path d="M69.7 238.4L71.2 241.0L68.3 241.0Z" fill="#ff3c3c" fill-opacity="0.85"/>
<path d="M71.4 238.3L72.8 240.9L69.9 240.9Z" fill="#ff3c3c" fill-opacity="0.85"/>
<path d="M72.3 242.7L73.8 245.3L70.9 245.3Z" fill="#ff3c3c" fill-opacity="0.85"/>
<path d="M73.0 240.0L74.5 242.6L71.6 242.6Z" fill="#ff3c3c" fill-opacity="0.85"/>
<path d="M73.4 239.6L74.8 242.2L71.9 242.2Z" fill="#ff3c3c" fill-opacity="0.85"/>
<path d="M75.0 240.9L76.5 243.5L73.6 243.5Z" fill="#ff3c3c" fill-opacity="0.85"/>
<path d="M75.7 239.1L77.1 241.7L74.2 241.7Z" fill="#ff3c3c" fill-opacity="0.85"/>
<path d="M76.8 237.9L78.2 240.5L75.3 240.5Z" fill="#ff3c3c" fill-opacity="0.85"/>
<path d="M77.9 239.4L79.4 242.0L76.5 242.0Z" fill="#ff3c3c" fill-opacity="0.85"/>
<path d="M78.7 237.7L80.1 240.3L77.2 240.3Z" fill="#ff3c3c" fill-opacity="0.85"/>
<path d="M79.1 238.6L80.5 241.2L77.6 241.2Z" fill="#ff3c3c" fill-opacity="0.85"/>
<path d="M38.3 248.0L39.8 250.6L36.9 250.6Z" fill="#ff3c3c" fill-opacity="0.85"/>
<path d="M41.9 245.1L43.3 247.8L40.4 247.8Z" fill="#ff3c3c" fill-opacity="0.85"/>
<path d="M43.7 243.8L45.1 246.4L42.2 246.4Z" fill="#ff3c3c" fill-opacity="0.85"/>
<path d="M47.7 240.4L49.1 243.0L46.2 243.0Z" fill="#ff3c3c" fill-opacity="0.85"/>
<path d="M51.3 243.4L52.7 246.0L49.8 246.0Z" fill="#ff3c3c" fill-opacity="0.85"/>
<path d="M53.3 244.5L54.8 247.1L51.9 247.1Z" fill="#ff3c3c" fill-opacity="0.85"/>
<path d="M57.3 246.3L58.7 248.9L55.8 248.9Z" fill="#ff3c3c" fill-opacity="0.85"/>
<path d="M60.4 243.8L61.9 246.4L59.0 246.4Z" fill="#ff3c3c" fill-opacity="0.85"/>
<path d="M62.5 244.7L64.0 247.3L61.1 247.3Z" fill="#ff3c3c" fill-opacity="0.85"/>
<path d="M66.5 243.0L67.9 245.6L65.0 245.6Z" fill="#ff3c3c" fill-opacity="0.85"/>
<path d="M71.4 245.4L72.8 248.0L69.9 248.0Z" fill="#ff3c3c" fill-opacity="0.85"/>
<path d="M74.1 243.5L75.6 246.1L72.7 246.1Z" fill="#ff3c3c" fill-opacity="0.85"/>
<path d="M75.7 245.0L77.2 247.6L74.3 247.6Z" fill="#ff3c3c" fill-opacity="0.85"/>
<path d="M78.4 246.4L79.9 249.0L77.0 249.0Z" fill="#ff3c3c" fill-opacity="0.85"/>
<path d="M81.0 247.3L82.5 249.9L79.6 249.9Z" fill="#ff3c3c" fill-opacity="0.85"/>
<path d="M44.2 234.0L45.6 236.6L42.7 236.6Z" fill="#ff3c3c" fill-opacity="0.85"/>
<path d="M72.8 219.0L74.3 221.6L71.4 221.6Z" fill="#ff3c3c" fill-opacity="0.85"/>
<path d="M72.2 227.9L73.6 230.5L70.7 230.5Z" fill="#ff3c3c" fill-opacity="0.85"/>
<path d="M82.4 253.1L83.8 255.7L80.9 255.7Z" fill="#ff3c3c" fill-opacity="0.85"/>
<path d="M87.8 254.5L89.3 257.1L86.4 257.1Z" fill="#ff3c3c" fill-opacity="0.85"/>
<path d="M91.3 259.9L92.7 262.5L89.8 262.5Z" fill="#ff3c3c" fill-opacity="0.85"/>
<path d="M62.6 245.6L64.1 248.2L61.2 248.2Z" fill="#ff3c3c" fill-opacity="0.85"/>
<path d="M53.7 246.3L55.2 248.9L52.3 248.9Z" fill="#ff3c3c" fill-opacity="0.85"/>
<path d="M83.7 257.2L85.2 259.8L82.3 259.8Z" fill="#ff3c3c" fill-opacity="0.85"/>
<path d="M67.4 235.4L68.8 238.0L65.9 238.0Z" fill="#ff3c3c" fill-opacity="0.85"/>
<path d="M64.6 238.8L66.1 241.4L63.2 241.4Z" fill="#ff3c3c" fill-opacity="0.85"/>
<path d="M70.1 239.5L71.6 242.1L68.7 242.1Z" fill="#ff3c3c" fill-opacity="0.85"/>
<path d="M74.2 238.8L75.6 241.4L72.7 241.4Z" fill="#ff3c3c" fill-opacity="0.85"/>
<path d="M83.7 253.5L85.1 256.1L82.2 256.1Z" fill="#ff3c3c" fill-opacity="0.85"/>
<path d="M88.1 255.2L89.6 257.8L86.7 257.8Z" fill="#ff3c3c" fill-opacity="0.85"/>
<path d="M90.9 260.2L92.3 262.8L89.4 262.8Z" fill="#ff3c3c" fill-opacity="0.85"/>
<path d="M78.1 254.1L79.6 256.7L76.7 256.7Z" fill="#ff3c3c" fill-opacity="0.85"/>
<path d="M75.9 254.6L77.4 257.3L74.5 257.3Z" fill="#ff3c3c" fill-opacity="0.85"/>
<circle cx="37.4" cy="255.5" r="1.3" fill="#ad5f2c" fill-opacity="0.8"/>
<circle cx="38.6" cy="256.1" r="1.3" fill="#ad5f2c" fill-opacity="0.8"/>
<circle cx="38.7" cy="258.2" r="1.3" fill="#ad5f2c" fill-opacity="0.8"/>
<circle cx="39.7" cy="260.1" r="1.3" fill="#ad5f2c" fill-opacity="0.8"/>
<circle cx="41.0" cy="256.6" r="1.3" fill="#ad5f2c" fill-opacity="0.8"/>
<circle cx="41.9" cy="256.1" r="1.3" fill="#ad5f2c" fill-opacity="0.8"/>
<circle cx="42.2" cy="256.1" r="1.3" fill="#ad5f2c" fill-opacity="0.8"/>
<circle cx="42.8" cy="256.2" r="1.3" fill="#ad5f2c" fill-opacity="0.8"/>
<circle cx="43.7" cy="256.8" r="1.3" fill="#ad5f2c" fill-opacity="0.8"/>
<circle cx="44.5" cy="252.8" r="1.3" fill="#ad5f2c" fill-opacity="0.8"/>
<circle cx="45.6" cy="255.5" r="1.3" fill="#ad5f2c" fill-opacity="0.8"/>
<circle cx="46.2" cy="253.9" r="1.3" fill="#ad5f2c" fill-opacity="0.8"/>
<circle cx="47.3" cy="257.1" r="1.3" fill="#ad5f2c" fill-opacity="0.8"/>
<circle cx="48.3" cy="256.8" r="1.3" fill="#ad5f2c" fill-opacity="0.8"/>
<circle cx="48.5" cy="255.8" r="1.3" fill="#ad5f2c" fill-opacity="0.8"/>
<circle cx="49.4" cy="254.4" r="1.3" fill="#ad5f2c" fill-opacity="0.8"/>
<circle cx="50.9" cy="256.1" r="1.3" fill="#ad5f2c" fill-opacity="0.8"/>
<circle cx="51.3" cy="256.0" r="1.3" fill="#ad5f2c" fill-opacity="0.8"/>
<circle cx="52.0" cy="257.1" r="1.3" fill="#ad5f2c" fill-opacity="0.8"/>
<circle cx="53.3" cy="253.6" r="1.3" fill="#ad5f2c" fill-opacity="0.8"/>
<circle cx="53.5" cy="257.7" r="1.3" fill="#ad5f2c" fill-opacity="0.8"/>
<circle cx="54.4" cy="257.3" r="1.3" fill="#ad5f2c" fill-opacity="0.8"/>
<circle cx="55.4" cy="257.8" r="1.3" fill="#ad5f2c" fill-opacity="0.8"/>
<circle cx="56.0" cy="254.9" r="1.3" fill="#ad5f2c" fill-opacity="0.8"/>
<circle cx="56.8" cy="258.0" r="1.3" fill="#ad5f2c" fill-opacity="0.8"/>
<circle cx="57.8" cy="254.9" r="1.3" fill="#ad5f2c" fill-opacity="0.8"/>
<circle cx="58.8" cy="258.0" r="1.3" fill="#ad5f2c" fill-opacity="0.8"/>
<circle cx="59.9" cy="258.6" r="1.3" fill="#ad5f2c" fill-opacity="0.8"/>
<circle cx="60.4" cy="255.0" r="1.3" fill="#ad5f2c" fill-opacity="0.8"/>
<circle cx="61.5" cy="255.4" r="1.3" fill="#ad5f2c" fill-opacity="0.8"/>
<circle cx="61.7" cy="254.6" r="1.3" fill="#ad5f2c" fill-opacity="0.8"/>
<circle cx="62.9" cy="254.6" r="1.3" fill="#ad5f2c" fill-opacity="0.8"/>
<circle cx="63.3" cy="258.3" r="1.3" fill="#ad5f2c" fill-opacity="0.8"/>
<circle cx="64.5" cy="258.4" r="1.3" fill="#ad5f2c" fill-opacity="0.8"/>
<circle cx="65.2" cy="256.7" r="1.3" fill="#ad5f2c" fill-opacity="0.8"/>
<circle cx="66.2" cy="258.4" r="1.3" fill="#ad5f2c" fill-opacity="0.8"/>
<circle cx="67.3" cy="255.2" r="1.3" fill="#ad5f2c" fill-opacity="0.8"/>
<circle cx="67.4" cy="258.3" r="1.3" fill="#ad5f2c" fill-opacity="0.8"/>
<circle cx="68.3" cy="258.6" r="1.3" fill="#ad5f2c" fill-opacity="0.8"/>
<circle cx="69.2" cy="255.6" r="1.3" fill="#ad5f2c" fill-opacity="0.8"/>
<circle cx="70.5" cy="256.7" r="1.3" fill="#ad5f2c" fill-opacity="0.8"/>
<circle cx="71.1" cy="258.7" r="1.3" fill="#ad5f2c" fill-opacity="0.8"/>
<circle cx="71.8" cy="254.3" r="1.3" fill="#ad5f2c" fill-opacity="0.8"/>
<circle cx="72.4" cy="254.4" r="1.3" fill="#ad5f2c" fill-opacity="0.8"/>
<circle cx="73.3" cy="257.5" r="1.3" fill="#ad5f2c" fill-opacity="0.8"/>
<circle cx="74.5" cy="256.0" r="1.3" fill="#ad5f2c" fill-opacity="0.8"/>
<circle cx="75.3" cy="256.3" r="1.3" fill="#ad5f2c" fill-opacity="0.8"/>
<circle cx="75.7" cy="256.0" r="1.3" fill="#ad5f2c" fill-opacity="0.8"/>
<circle cx="77.0" cy="255.0" r="1.3" fill="#ad5f2c" fill-opacity="0.8"/>
<circle cx="77.6" cy="259.2" r="1.3" fill="#ad5f2c" fill-opacity="0.8"/>
<circle cx="78.0" cy="258.4" r="1.3" fill="#ad5f2c" fill-opacity="0.8"/>
<circle cx="79.1" cy="260.2" r="1.3" fill="#ad5f2c" fill-opacity="0.8"/>
<circle cx="79.7" cy="259.6" r="1.3" fill="#ad5f2c" fill-opacity="0.8"/>
<circle cx="80.8" cy="258.7" r="1.3" fill="#ad5f2c" fill-opacity="0.8"/>
<circle cx="81.9" cy="255.8" r="1.3" fill="#ad5f2c" fill-opacity="0.8"/>
<circle cx="61.4" cy="255.2" r="1.3" fill="none" stroke="#c98a5e" stroke-width="0.6"/>
<circle cx="62.4" cy="251.6" r="1.3" fill="none" stroke="#c98a5e" stroke-width="0.6"/>
<circle cx="65.2" cy="254.2" r="1.3" fill="none" stroke="#c98a5e" stroke-width="0.6"/>
<circle cx="66.3" cy="257.2" r="1.3" fill="none" stroke="#c98a5e" stroke-width="0.6"/>
<circle cx="68.1" cy="253.3" r="1.3" fill="none" stroke="#c98a5e" stroke-width="0.6"/>
<circle cx="69.6" cy="255.1" r="1.3" fill="none" stroke="#c98a5e" stroke-width="0.6"/>
<circle cx="70.6" cy="253.5" r="1.3" fill="none" stroke="#c98a5e" stroke-width="0.6"/>
<circle cx="72.2" cy="253.3" r="1.3" fill="none" stroke="#c98a5e" stroke-width="0.6"/>
<circle cx="74.6" cy="255.4" r="1.3" fill="none" stroke="#c98a5e" stroke-width="0.6"/>
<circle cx="76.0" cy="258.6" r="1.3" fill="none" stroke="#c98a5e" stroke-width="0.6"/>
<circle cx="78.1" cy="256.6" r="1.3" fill="none" stroke="#c98a5e" stroke-width="0.6"/>
<circle cx="80.3" cy="252.8" r="1.3" fill="none" stroke="#c98a5e" stroke-width="0.6"/>
<circle cx="80.9" cy="254.8" r="1.3" fill="none" stroke="#c98a5e" stroke-width="0.6"/>
<circle cx="83.9" cy="254.8" r="1.3" fill="none" stroke="#c98a5e" stroke-width="0.6"/>
<circle cx="84.8" cy="253.1" r="1.3" fill="none" stroke="#c98a5e" stroke-width="0.6"/>
<circle cx="82.6" cy="282.7" r="1.3" fill="#ad5f2c" fill-opacity="0.8"/>
<circle cx="81.0" cy="225.9" r="1.3" fill="none" stroke="#c98a5e" stroke-width="0.6"/>
<circle cx="79.7" cy="235.5" r="1.3" fill="none" stroke="#c98a5e" stroke-width="0.6"/>
<circle cx="78.3" cy="240.2" r="1.3" fill="none" stroke="#c98a5e" stroke-width="0.6"/>
<circle cx="85.8" cy="241.6" r="1.3" fill="none" stroke="#c98a5e" stroke-width="0.6"/>
<circle cx="83.1" cy="281.8" r="1.3" fill="none" stroke="#c98a5e" stroke-width="0.6"/>
<circle cx="87.2" cy="248.4" r="1.3" fill="none" stroke="#c98a5e" stroke-width="0.6"/>
<circle cx="89.2" cy="247.7" r="1.3" fill="none" stroke="#c98a5e" stroke-width="0.6"/>
<circle cx="91.3" cy="249.1" r="1.3" fill="none" stroke="#c98a5e" stroke-width="0.6"/>
<circle cx="93.3" cy="247.1" r="1.3" fill="none" stroke="#c98a5e" stroke-width="0.6"/>
<circle cx="95.3" cy="248.4" r="1.3" fill="none" stroke="#c98a5e" stroke-width="0.6"/>
<circle cx="97.4" cy="247.7" r="1.3" fill="none" stroke="#c98a5e" stroke-width="0.6"/>
<circle cx="99.4" cy="249.1" r="1.3" fill="none" stroke="#c98a5e" stroke-width="0.6"/>
<circle cx="87.8" cy="251.2" r="1.3" fill="none" stroke="#c98a5e" stroke-width="0.6"/>
<circle cx="90.6" cy="250.7" r="1.3" fill="none" stroke="#c98a5e" stroke-width="0.6"/>
<circle cx="92.6" cy="251.8" r="1.3" fill="none" stroke="#c98a5e" stroke-width="0.6"/>
<circle cx="96.0" cy="250.2" r="1.3" fill="none" stroke="#c98a5e" stroke-width="0.6"/>
<circle cx="98.1" cy="251.2" r="1.3" fill="none" stroke="#c98a5e" stroke-width="0.6"/>
<circle cx="100.0" cy="251.8" r="1.3" fill="none" stroke="#c98a5e" stroke-width="0.6"/>
<circle cx="102.0" cy="250.5" r="1.3" fill="none" stroke="#c98a5e" stroke-width="0.6"/>
<circle cx="104.1" cy="249.1" r="1.3" fill="none" stroke="#c98a5e" stroke-width="0.6"/>
<circle cx="106.1" cy="247.7" r="1.3" fill="none" stroke="#c98a5e" stroke-width="0.6"/>
<circle cx="108.2" cy="246.4" r="1.3" fill="none" stroke="#c98a5e" stroke-width="0.6"/>
<circle cx="110.2" cy="244.3" r="1.3" fill="none" stroke="#c98a5e" stroke-width="0.6"/>
<circle cx="112.3" cy="241.6" r="1.3" fill="none" stroke="#c98a5e" stroke-width="0.6"/>
<circle cx="114.3" cy="238.9" r="1.3" fill="none" stroke="#c98a5e" stroke-width="0.6"/>
<circle cx="116.4" cy="236.8" r="1.3" fill="none" stroke="#c98a5e" stroke-width="0.6"/>
<circle cx="118.4" cy="234.1" r="1.3" fill="none" stroke="#c98a5e" stroke-width="0.6"/>
<circle cx="120.5" cy="233.4" r="1.3" fill="none" stroke="#c98a5e" stroke-width="0.6"/>
<circle cx="122.5" cy="232.7" r="1.3" fill="none" stroke="#c98a5e" stroke-width="0.6"/>
<circle cx="124.6" cy="234.1" r="1.3" fill="none" stroke="#c98a5e" stroke-width="0.6"/>
<circle cx="126.6" cy="236.1" r="1.3" fill="none" stroke="#c98a5e" stroke-width="0.6"/>
<circle cx="128.6" cy="238.2" r="1.3" fill="none" stroke="#c98a5e" stroke-width="0.6"/>
<circle cx="130.7" cy="240.2" r="1.3" fill="none" stroke="#c98a5e" stroke-width="0.6"/>
<circle cx="132.7" cy="242.3" r="1.3" fill="none" stroke="#c98a5e" stroke-width="0.6"/>
<circle cx="134.8" cy="244.3" r="1.3" fill="none" stroke="#c98a5e" stroke-width="0.6"/>
<circle cx="136.8" cy="245.7" r="1.3" fill="none" stroke="#c98a5e" stroke-width="0.6"/>
<circle cx="138.9" cy="247.1" r="1.3" fill="none" stroke="#c98a5e" stroke-width="0.6"/>
<circle cx="140.9" cy="249.8" r="1.3" fill="none" stroke="#c98a5e" stroke-width="0.6"/>
<circle cx="143.0" cy="251.2" r="1.3" fill="none" stroke="#c98a5e" stroke-width="0.6"/>
<circle cx="145.0" cy="251.8" r="1.3" fill="none" stroke="#c98a5e" stroke-width="0.6"/>
<circle cx="147.1" cy="252.5" r="1.3" fill="none" stroke="#c98a5e" stroke-width="0.6"/>
<circle cx="149.1" cy="250.5" r="1.3" fill="none" stroke="#c98a5e" stroke-width="0.6"/>
<circle cx="151.2" cy="248.4" r="1.3" fill="none" stroke="#c98a5e" stroke-width="0.6"/>
<circle cx="153.2" cy="247.1" r="1.3" fill="none" stroke="#c98a5e" stroke-width="0.6"/>
<circle cx="155.3" cy="245.7" r="1.3" fill="none" stroke="#c98a5e" stroke-width="0.6"/>
<circle cx="157.3" cy="246.4" r="1.3" fill="none" stroke="#c98a5e" stroke-width="0.6"/>
<circle cx="159.3" cy="244.3" r="1.3" fill="none" stroke="#c98a5e" stroke-width="0.6"/>
<circle cx="123.9" cy="226.6" r="1.3" fill="none" stroke="#c98a5e" stroke-width="0.6"/>
<circle cx="101.4" cy="253.9" r="1.3" fill="none" stroke="#c98a5e" stroke-width="0.6"/>
<circle cx="103.4" cy="252.5" r="1.3" fill="none" stroke="#c98a5e" stroke-width="0.6"/>
<circle cx="105.5" cy="250.7" r="1.3" fill="none" stroke="#c98a5e" stroke-width="0.6"/>
<circle cx="107.5" cy="249.1" r="1.3" fill="none" stroke="#c98a5e" stroke-width="0.6"/>
<circle cx="109.5" cy="247.7" r="1.3" fill="none" stroke="#c98a5e" stroke-width="0.6"/>
<circle cx="111.6" cy="245.7" r="1.3" fill="none" stroke="#c98a5e" stroke-width="0.6"/>
<circle cx="113.6" cy="243.6" r="1.3" fill="none" stroke="#c98a5e" stroke-width="0.6"/>
<circle cx="115.7" cy="241.6" r="1.3" fill="none" stroke="#c98a5e" stroke-width="0.6"/>
<circle cx="117.7" cy="238.9" r="1.3" fill="none" stroke="#c98a5e" stroke-width="0.6"/>
<circle cx="119.8" cy="236.8" r="1.3" fill="none" stroke="#c98a5e" stroke-width="0.6"/>
<circle cx="121.8" cy="235.5" r="1.3" fill="none" stroke="#c98a5e" stroke-width="0.6"/>
<circle cx="123.9" cy="236.1" r="1.3" fill="none" stroke="#c98a5e" stroke-width="0.6"/>
<circle cx="125.9" cy="238.2" r="1.3" fill="none" stroke="#c98a5e" stroke-width="0.6"/>
<circle cx="128.0" cy="240.2" r="1.3" fill="none" stroke="#c98a5e" stroke-width="0.6"/>
<circle cx="130.0" cy="242.3" r="1.3" fill="none" stroke="#c98a5e" stroke-width="0.6"/>
<circle cx="132.1" cy="244.3" r="1.3" fill="none" stroke="#c98a5e" stroke-width="0.6"/>
<circle cx="134.1" cy="246.4" r="1.3" fill="none" stroke="#c98a5e" stroke-width="0.6"/>
<circle cx="136.2" cy="247.7" r="1.3" fill="none" stroke="#c98a5e" stroke-width="0.6"/>
<circle cx="138.2" cy="249.1" r="1.3" fill="none" stroke="#c98a5e" stroke-width="0.6"/>
<circle cx="140.2" cy="251.2" r="1.3" fill="none" stroke="#c98a5e" stroke-width="0.6"/>
<circle cx="142.3" cy="252.5" r="1.3" fill="none" stroke="#c98a5e" stroke-width="0.6"/>
<circle cx="144.3" cy="250.7" r="1.3" fill="none" stroke="#c98a5e" stroke-width="0.6"/>
<circle cx="146.4" cy="251.2" r="1.3" fill="none" stroke="#c98a5e" stroke-width="0.6"/>
<circle cx="148.4" cy="249.1" r="1.3" fill="none" stroke="#c98a5e" stroke-width="0.6"/>
<circle cx="150.5" cy="250.2" r="1.3" fill="none" stroke="#c98a5e" stroke-width="0.6"/>
<circle cx="152.5" cy="248.4" r="1.3" fill="none" stroke="#c98a5e" stroke-width="0.6"/>
<circle cx="154.6" cy="247.7" r="1.3" fill="none" stroke="#c98a5e" stroke-width="0.6"/>
<circle cx="156.6" cy="248.4" r="1.3" fill="none" stroke="#c98a5e" stroke-width="0.6"/>
<circle cx="158.7" cy="246.7" r="1.3" fill="none" stroke="#c98a5e" stroke-width="0.6"/>
<circle cx="165.7" cy="239.4" r="1.3" fill="none" stroke="#c98a5e" stroke-width="0.6"/>
<circle cx="187.9" cy="245.3" r="1.3" fill="none" stroke="#c98a5e" stroke-width="0.6"/>
<circle cx="166.5" cy="262.3" r="1.3" fill="none" stroke="#c98a5e" stroke-width="0.6"/>
<circle cx="168.0" cy="266.0" r="1.3" fill="none" stroke="#c98a5e" stroke-width="0.6"/>
<circle cx="169.4" cy="263.8" r="1.3" fill="none" stroke="#c98a5e" stroke-width="0.6"/>
<circle cx="170.9" cy="262.3" r="1.3" fill="none" stroke="#c98a5e" stroke-width="0.6"/>
<circle cx="172.4" cy="264.5" r="1.3" fill="none" stroke="#c98a5e" stroke-width="0.6"/>
<circle cx="173.9" cy="260.8" r="1.3" fill="none" stroke="#c98a5e" stroke-width="0.6"/>
<circle cx="174.6" cy="263.1" r="1.3" fill="none" stroke="#c98a5e" stroke-width="0.6"/>
<circle cx="175.4" cy="268.2" r="1.3" fill="none" stroke="#c98a5e" stroke-width="0.6"/>
<circle cx="176.8" cy="269.7" r="1.3" fill="none" stroke="#c98a5e" stroke-width="0.6"/>
<circle cx="178.3" cy="271.2" r="1.3" fill="none" stroke="#c98a5e" stroke-width="0.6"/>
<circle cx="179.8" cy="270.5" r="1.3" fill="none" stroke="#c98a5e" stroke-width="0.6"/>
<circle cx="181.3" cy="274.1" r="1.3" fill="none" stroke="#c98a5e" stroke-width="0.6"/>
<circle cx="182.7" cy="275.6" r="1.3" fill="none" stroke="#c98a5e" stroke-width="0.6"/>
<circle cx="184.2" cy="277.1" r="1.3" fill="none" stroke="#c98a5e" stroke-width="0.6"/>
<circle cx="185.7" cy="280.1" r="1.3" fill="none" stroke="#c98a5e" stroke-width="0.6"/>
<circle cx="186.4" cy="274.1" r="1.3" fill="none" stroke="#c98a5e" stroke-width="0.6"/>
<circle cx="182.0" cy="270.5" r="1.3" fill="none" stroke="#c98a5e" stroke-width="0.6"/>
<circle cx="168.7" cy="260.8" r="1.3" fill="none" stroke="#c98a5e" stroke-width="0.6"/>
<circle cx="170.9" cy="266.8" r="1.3" fill="none" stroke="#c98a5e" stroke-width="0.6"/>
<circle cx="101.2" cy="245.9" r="1.3" fill="none" stroke="#c98a5e" stroke-width="0.6"/>
<circle cx="102.2" cy="251.4" r="1.3" fill="none" stroke="#c98a5e" stroke-width="0.6"/>
<circle cx="103.3" cy="251.7" r="1.3" fill="none" stroke="#c98a5e" stroke-width="0.6"/>
<circle cx="105.8" cy="239.5" r="1.3" fill="none" stroke="#c98a5e" stroke-width="0.6"/>
<circle cx="106.7" cy="243.3" r="1.3" fill="none" stroke="#c98a5e" stroke-width="0.6"/>
<circle cx="107.5" cy="246.4" r="1.3" fill="none" stroke="#c98a5e" stroke-width="0.6"/>
<circle cx="109.3" cy="241.8" r="1.3" fill="none" stroke="#c98a5e" stroke-width="0.6"/>
<circle cx="110.4" cy="246.0" r="1.3" fill="none" stroke="#c98a5e" stroke-width="0.6"/>
<circle cx="112.9" cy="240.4" r="1.3" fill="none" stroke="#c98a5e" stroke-width="0.6"/>
<circle cx="113.2" cy="237.4" r="1.3" fill="none" stroke="#c98a5e" stroke-width="0.6"/>
<circle cx="115.9" cy="234.6" r="1.3" fill="none" stroke="#c98a5e" stroke-width="0.6"/>
<circle cx="116.5" cy="237.5" r="1.3" fill="none" stroke="#c98a5e" stroke-width="0.6"/>
<circle cx="118.1" cy="235.2" r="1.3" fill="none" stroke="#c98a5e" stroke-width="0.6"/>
<circle cx="119.3" cy="232.7" r="1.3" fill="none" stroke="#c98a5e" stroke-width="0.6"/>
<circle cx="120.6" cy="231.3" r="1.3" fill="none" stroke="#c98a5e" stroke-width="0.6"/>
<circle cx="122.3" cy="229.3" r="1.3" fill="none" stroke="#c98a5e" stroke-width="0.6"/>
<circle cx="123.5" cy="234.8" r="1.3" fill="none" stroke="#c98a5e" stroke-width="0.6"/>
<circle cx="124.6" cy="240.1" r="1.3" fill="none" stroke="#c98a5e" stroke-width="0.6"/>
<circle cx="127.3" cy="233.0" r="1.3" fill="none" stroke="#c98a5e" stroke-width="0.6"/>
<circle cx="128.3" cy="237.3" r="1.3" fill="none" stroke="#c98a5e" stroke-width="0.6"/>
<circle cx="129.5" cy="243.5" r="1.3" fill="none" stroke="#c98a5e" stroke-width="0.6"/>
<circle cx="130.3" cy="242.9" r="1.3" fill="none" stroke="#c98a5e" stroke-width="0.6"/>
<circle cx="132.5" cy="244.8" r="1.3" fill="none" stroke="#c98a5e" stroke-width="0.6"/>
<circle cx="134.5" cy="242.0" r="1.3" fill="none" stroke="#c98a5e" stroke-width="0.6"/>
<circle cx="135.9" cy="243.0" r="1.3" fill="none" stroke="#c98a5e" stroke-width="0.6"/>
<circle cx="136.1" cy="247.4" r="1.3" fill="none" stroke="#c98a5e" stroke-width="0.6"/>
<circle cx="137.8" cy="250.9" r="1.3" fill="none" stroke="#c98a5e" stroke-width="0.6"/>
<circle cx="139.7" cy="249.2" r="1.3" fill="none" stroke="#c98a5e" stroke-width="0.6"/>
<circle cx="140.7" cy="249.2" r="1.3" fill="none" stroke="#c98a5e" stroke-width="0.6"/>
<circle cx="142.7" cy="253.2" r="1.3" fill="none" stroke="#c98a5e" stroke-width="0.6"/>
<circle cx="143.8" cy="248.8" r="1.3" fill="none" stroke="#c98a5e" stroke-width="0.6"/>
<circle cx="145.7" cy="253.5" r="1.3" fill="none" stroke="#c98a5e" stroke-width="0.6"/>
<circle cx="146.6" cy="255.5" r="1.3" fill="none" stroke="#c98a5e" stroke-width="0.6"/>
<circle cx="148.3" cy="252.6" r="1.3" fill="none" stroke="#c98a5e" stroke-width="0.6"/>
<circle cx="149.4" cy="250.4" r="1.3" fill="none" stroke="#c98a5e" stroke-width="0.6"/>
<circle cx="150.9" cy="248.1" r="1.3" fill="none" stroke="#c98a5e" stroke-width="0.6"/>
<circle cx="153.2" cy="251.3" r="1.3" fill="none" stroke="#c98a5e" stroke-width="0.6"/>
<circle cx="154.0" cy="249.8" r="1.3" fill="none" stroke="#c98a5e" stroke-width="0.6"/>
<circle cx="155.5" cy="245.4" r="1.3" fill="none" stroke="#c98a5e" stroke-width="0.6"/>
<circle cx="157.1" cy="242.5" r="1.3" fill="none" stroke="#c98a5e" stroke-width="0.6"/>
<circle cx="158.4" cy="240.2" r="1.3" fill="none" stroke="#c98a5e" stroke-width="0.6"/>
<circle cx="159.8" cy="245.1" r="1.3" fill="none" stroke="#c98a5e" stroke-width="0.6"/>
<circle cx="162.0" cy="245.6" r="1.3" fill="none" stroke="#c98a5e" stroke-width="0.6"/>
<circle cx="163.5" cy="241.9" r="1.3" fill="none" stroke="#c98a5e" stroke-width="0.6"/>
<circle cx="164.0" cy="242.3" r="1.3" fill="none" stroke="#c98a5e" stroke-width="0.6"/>
<circle cx="106.2" cy="243.9" r="1.3" fill="#ad5f2c" fill-opacity="0.8"/>
<circle cx="110.7" cy="242.0" r="1.3" fill="#ad5f2c" fill-opacity="0.8"/>
<circle cx="118.8" cy="236.0" r="1.3" fill="#ad5f2c" fill-opacity="0.8"/>
<circle cx="123.6" cy="233.6" r="1.3" fill="#ad5f2c" fill-opacity="0.8"/>
<circle cx="130.5" cy="236.9" r="1.3" fill="#ad5f2c" fill-opacity="0.8"/>
<circle cx="135.9" cy="245.3" r="1.3" fill="#ad5f2c" fill-opacity="0.8"/>
<circle cx="143.2" cy="251.8" r="1.3" fill="#ad5f2c" fill-opacity="0.8"/>
<circle cx="149.0" cy="248.6" r="1.3" fill="#ad5f2c" fill-opacity="0.8"/>
<circle cx="153.6" cy="252.0" r="1.3" fill="#ad5f2c" fill-opacity="0.8"/>
<circle cx="159.0" cy="245.3" r="1.3" fill="#ad5f2c" fill-opacity="0.8"/>
<circle cx="37.5" cy="250.4" r="1.4" fill="#1f86c4"/>
<circle cx="38.2" cy="251.8" r="1.4" fill="#1f86c4"/>
<circle cx="38.5" cy="251.5" r="1.4" fill="#1f86c4"/>
<circle cx="39.6" cy="249.5" r="1.4" fill="#1f86c4"/>
<circle cx="40.0" cy="250.0" r="1.4" fill="#1f86c4"/>
<circle cx="40.9" cy="250.2" r="1.4" fill="#1f86c4"/>
<circle cx="41.2" cy="248.7" r="1.4" fill="#1f86c4"/>
<circle cx="42.1" cy="255.9" r="1.4" fill="#1f86c4"/>
<circle cx="42.6" cy="251.0" r="1.4" fill="#1f86c4"/>
<circle cx="43.2" cy="247.5" r="1.4" fill="#1f86c4"/>
<circle cx="44.1" cy="247.9" r="1.4" fill="#1f86c4"/>
<circle cx="44.7" cy="247.9" r="1.4" fill="#1f86c4"/>
<circle cx="45.4" cy="249.6" r="1.4" fill="#1f86c4"/>
<circle cx="45.8" cy="251.2" r="1.4" fill="#1f86c4"/>
<circle cx="46.6" cy="253.2" r="1.4" fill="#1f86c4"/>
<circle cx="47.3" cy="254.4" r="1.4" fill="#1f86c4"/>
<circle cx="47.8" cy="251.5" r="1.4" fill="#1f86c4"/>
<circle cx="48.6" cy="250.8" r="1.4" fill="#1f86c4"/>
<circle cx="48.8" cy="252.0" r="1.4" fill="#1f86c4"/>
<circle cx="49.8" cy="253.6" r="1.4" fill="#1f86c4"/>
<circle cx="50.2" cy="249.6" r="1.4" fill="#1f86c4"/>
<circle cx="51.1" cy="255.9" r="1.4" fill="#1f86c4"/>
<circle cx="51.6" cy="251.9" r="1.4" fill="#1f86c4"/>
<circle cx="52.6" cy="251.5" r="1.4" fill="#1f86c4"/>
<circle cx="53.1" cy="250.8" r="1.4" fill="#1f86c4"/>
<circle cx="53.7" cy="253.4" r="1.4" fill="#1f86c4"/>
<circle cx="54.6" cy="251.3" r="1.4" fill="#1f86c4"/>
<circle cx="54.8" cy="252.1" r="1.4" fill="#1f86c4"/>
<circle cx="55.8" cy="250.9" r="1.4" fill="#1f86c4"/>
<circle cx="56.0" cy="252.4" r="1.4" fill="#1f86c4"/>
<circle cx="56.7" cy="247.3" r="1.4" fill="#1f86c4"/>
<circle cx="57.3" cy="253.8" r="1.4" fill="#1f86c4"/>
<circle cx="58.2" cy="251.3" r="1.4" fill="#1f86c4"/>
<circle cx="59.1" cy="254.3" r="1.4" fill="#1f86c4"/>
<circle cx="59.7" cy="252.1" r="1.4" fill="#1f86c4"/>
<circle cx="59.9" cy="249.8" r="1.4" fill="#1f86c4"/>
<circle cx="61.0" cy="249.6" r="1.4" fill="#1f86c4"/>
<circle cx="61.5" cy="251.4" r="1.4" fill="#1f86c4"/>
<circle cx="62.2" cy="254.9" r="1.4" fill="#1f86c4"/>
<circle cx="62.8" cy="250.9" r="1.4" fill="#1f86c4"/>
<circle cx="63.7" cy="250.5" r="1.4" fill="#1f86c4"/>
<circle cx="64.3" cy="254.3" r="1.4" fill="#1f86c4"/>
<circle cx="64.9" cy="251.6" r="1.4" fill="#1f86c4"/>
<circle cx="65.1" cy="255.7" r="1.4" fill="#1f86c4"/>
<circle cx="66.2" cy="252.3" r="1.4" fill="#1f86c4"/>
<circle cx="67.0" cy="254.4" r="1.4" fill="#1f86c4"/>
<circle cx="67.1" cy="251.6" r="1.4" fill="#1f86c4"/>
<circle cx="67.8" cy="256.9" r="1.4" fill="#1f86c4"/>
<circle cx="68.6" cy="254.1" r="1.4" fill="#1f86c4"/>
<circle cx="69.0" cy="251.7" r="1.4" fill="#1f86c4"/>
<circle cx="69.7" cy="252.2" r="1.4" fill="#1f86c4"/>
<circle cx="70.6" cy="250.9" r="1.4" fill="#1f86c4"/>
<circle cx="71.4" cy="254.3" r="1.4" fill="#1f86c4"/>
<circle cx="72.2" cy="254.3" r="1.4" fill="#1f86c4"/>
<circle cx="72.4" cy="253.5" r="1.4" fill="#1f86c4"/>
<circle cx="73.3" cy="255.6" r="1.4" fill="#1f86c4"/>
<circle cx="74.2" cy="253.3" r="1.4" fill="#1f86c4"/>
<circle cx="74.4" cy="252.4" r="1.4" fill="#1f86c4"/>
<circle cx="75.4" cy="256.4" r="1.4" fill="#1f86c4"/>
<circle cx="76.0" cy="249.4" r="1.4" fill="#1f86c4"/>
<circle cx="76.8" cy="252.9" r="1.4" fill="#1f86c4"/>
<circle cx="77.5" cy="250.8" r="1.4" fill="#1f86c4"/>
<circle cx="77.7" cy="249.6" r="1.4" fill="#1f86c4"/>
<circle cx="78.6" cy="251.2" r="1.4" fill="#1f86c4"/>
<circle cx="79.1" cy="255.0" r="1.4" fill="#1f86c4"/>
<circle cx="80.1" cy="250.5" r="1.4" fill="#1f86c4"/>
<circle cx="80.4" cy="252.8" r="1.4" fill="#1f86c4"/>
<circle cx="81.1" cy="250.8" r="1.4" fill="#1f86c4"/>
<circle cx="82.0" cy="251.7" r="1.4" fill="#1f86c4"/>
<circle cx="82.5" cy="250.1" r="1.4" fill="#1f86c4"/>
<circle cx="83.3" cy="253.4" r="1.4" fill="#1f86c4"/>
<circle cx="83.9" cy="250.7" r="1.4" fill="#1f86c4"/>
<circle cx="84.4" cy="251.4" r="1.4" fill="#1f86c4"/>
<circle cx="84.9" cy="253.4" r="1.4" fill="#1f86c4"/>
<circle cx="85.8" cy="253.7" r="1.4" fill="#1f86c4"/>
<circle cx="96.7" cy="216.4" r="1.4" fill="#1f86c4"/>
<circle cx="96.0" cy="223.2" r="1.4" fill="#1f86c4"/>
<circle cx="97.4" cy="224.5" r="1.4" fill="#1f86c4"/>
<circle cx="85.1" cy="226.6" r="1.4" fill="#1f86c4"/>
<circle cx="89.2" cy="228.6" r="1.4" fill="#1f86c4"/>
<circle cx="94.7" cy="228.0" r="1.4" fill="#1f86c4"/>
<circle cx="87.2" cy="234.1" r="1.4" fill="#1f86c4"/>
<circle cx="89.9" cy="232.1" r="1.4" fill="#1f86c4"/>
<circle cx="91.3" cy="232.7" r="1.4" fill="#1f86c4"/>
<circle cx="92.6" cy="236.1" r="1.4" fill="#1f86c4"/>
<circle cx="87.8" cy="235.5" r="1.4" fill="#1f86c4"/>
<circle cx="98.8" cy="238.9" r="1.4" fill="#1f86c4"/>
<circle cx="94.7" cy="246.4" r="1.4" fill="#1f86c4"/>
<circle cx="93.3" cy="243.0" r="1.4" fill="#1f86c4"/>
<circle cx="85.8" cy="263.4" r="1.4" fill="#1f86c4"/>
<circle cx="76.9" cy="249.1" r="1.4" fill="#1f86c4"/>
<circle cx="79.7" cy="250.5" r="1.4" fill="#1f86c4"/>
<circle cx="82.4" cy="249.8" r="1.4" fill="#1f86c4"/>
<circle cx="85.1" cy="250.7" r="1.4" fill="#1f86c4"/>
<circle cx="74.2" cy="248.4" r="1.4" fill="#1f86c4"/>
<circle cx="71.5" cy="249.1" r="1.4" fill="#1f86c4"/>
<circle cx="102.7" cy="240.2" r="1.4" fill="#1f86c4"/>
<circle cx="104.8" cy="239.6" r="1.4" fill="#1f86c4"/>
<circle cx="106.8" cy="240.9" r="1.4" fill="#1f86c4"/>
<circle cx="108.9" cy="238.9" r="1.4" fill="#1f86c4"/>
<circle cx="110.9" cy="240.2" r="1.4" fill="#1f86c4"/>
<circle cx="113.6" cy="240.2" r="1.4" fill="#1f86c4"/>
<circle cx="104.1" cy="243.6" r="1.4" fill="#1f86c4"/>
<circle cx="106.1" cy="242.3" r="1.4" fill="#1f86c4"/>
<circle cx="108.2" cy="244.3" r="1.4" fill="#1f86c4"/>
<circle cx="112.3" cy="247.1" r="1.4" fill="#1f86c4"/>
<circle cx="115.0" cy="245.7" r="1.4" fill="#1f86c4"/>
<circle cx="117.1" cy="247.1" r="1.4" fill="#1f86c4"/>
<circle cx="119.1" cy="247.7" r="1.4" fill="#1f86c4"/>
<circle cx="121.1" cy="248.4" r="1.4" fill="#1f86c4"/>
<circle cx="123.2" cy="249.1" r="1.4" fill="#1f86c4"/>
<circle cx="125.2" cy="251.2" r="1.4" fill="#1f86c4"/>
<circle cx="127.3" cy="249.8" r="1.4" fill="#1f86c4"/>
<circle cx="129.3" cy="248.4" r="1.4" fill="#1f86c4"/>
<circle cx="131.4" cy="247.7" r="1.4" fill="#1f86c4"/>
<circle cx="117.7" cy="251.2" r="1.4" fill="#1f86c4"/>
<circle cx="125.9" cy="243.6" r="1.4" fill="#1f86c4"/>
<circle cx="129.3" cy="241.6" r="1.4" fill="#1f86c4"/>
<circle cx="132.7" cy="242.3" r="1.4" fill="#1f86c4"/>
<circle cx="134.8" cy="241.6" r="1.4" fill="#1f86c4"/>
<circle cx="136.8" cy="240.2" r="1.4" fill="#1f86c4"/>
<circle cx="135.7" cy="235.5" r="1.4" fill="#1f86c4"/>
<circle cx="137.5" cy="232.7" r="1.4" fill="#1f86c4"/>
<circle cx="139.6" cy="231.4" r="1.4" fill="#1f86c4"/>
<circle cx="140.9" cy="230.0" r="1.4" fill="#1f86c4"/>
<circle cx="143.0" cy="228.0" r="1.4" fill="#1f86c4"/>
<circle cx="144.7" cy="225.2" r="1.4" fill="#1f86c4"/>
<circle cx="146.4" cy="224.3" r="1.4" fill="#1f86c4"/>
<circle cx="148.0" cy="224.5" r="1.4" fill="#1f86c4"/>
<circle cx="149.8" cy="226.6" r="1.4" fill="#1f86c4"/>
<circle cx="151.8" cy="228.6" r="1.4" fill="#1f86c4"/>
<circle cx="153.9" cy="229.3" r="1.4" fill="#1f86c4"/>
<circle cx="155.9" cy="230.7" r="1.4" fill="#1f86c4"/>
<circle cx="157.3" cy="232.7" r="1.4" fill="#1f86c4"/>
<circle cx="159.3" cy="235.5" r="1.4" fill="#1f86c4"/>
<circle cx="152.5" cy="234.8" r="1.4" fill="#1f86c4"/>
<circle cx="158.0" cy="229.3" r="1.4" fill="#1f86c4"/>
<circle cx="138.9" cy="238.9" r="1.4" fill="#1f86c4"/>
<circle cx="140.9" cy="234.1" r="1.4" fill="#1f86c4"/>
<circle cx="146.4" cy="230.7" r="1.4" fill="#1f86c4"/>
<circle cx="147.7" cy="228.6" r="1.4" fill="#1f86c4"/>
<circle cx="145.7" cy="232.1" r="1.4" fill="#1f86c4"/>
<circle cx="165.0" cy="245.3" r="1.4" fill="#1f86c4"/>
<circle cx="166.5" cy="243.8" r="1.4" fill="#1f86c4"/>
<circle cx="168.0" cy="246.1" r="1.4" fill="#1f86c4"/>
<circle cx="169.4" cy="244.6" r="1.4" fill="#1f86c4"/>
<circle cx="170.9" cy="246.8" r="1.4" fill="#1f86c4"/>
<circle cx="171.7" cy="248.3" r="1.4" fill="#1f86c4"/>
<circle cx="173.1" cy="244.6" r="1.4" fill="#1f86c4"/>
<circle cx="174.6" cy="242.4" r="1.4" fill="#1f86c4"/>
<circle cx="176.1" cy="240.9" r="1.4" fill="#1f86c4"/>
<circle cx="177.6" cy="240.1" r="1.4" fill="#1f86c4"/>
<circle cx="179.0" cy="238.7" r="1.4" fill="#1f86c4"/>
<circle cx="180.5" cy="237.9" r="1.4" fill="#1f86c4"/>
<circle cx="182.0" cy="237.2" r="1.4" fill="#1f86c4"/>
<circle cx="183.5" cy="235.7" r="1.4" fill="#1f86c4"/>
<circle cx="185.0" cy="235.0" r="1.4" fill="#1f86c4"/>
<circle cx="186.4" cy="237.2" r="1.4" fill="#1f86c4"/>
<circle cx="185.7" cy="238.7" r="1.4" fill="#1f86c4"/>
<circle cx="173.9" cy="243.8" r="1.4" fill="#1f86c4"/>
<circle cx="178.3" cy="241.6" r="1.4" fill="#1f86c4"/>
<circle cx="181.3" cy="240.1" r="1.4" fill="#1f86c4"/>
<circle cx="184.2" cy="237.2" r="1.4" fill="#1f86c4"/>
<circle cx="187.9" cy="260.8" r="1.4" fill="#1f86c4"/>
<circle cx="189.4" cy="256.4" r="1.4" fill="#1f86c4"/>
<circle cx="190.1" cy="258.6" r="1.4" fill="#1f86c4"/>
<circle cx="191.6" cy="260.1" r="1.4" fill="#1f86c4"/>
<circle cx="193.1" cy="262.3" r="1.4" fill="#1f86c4"/>
<circle cx="194.6" cy="266.0" r="1.4" fill="#1f86c4"/>
<circle cx="196.1" cy="263.8" r="1.4" fill="#1f86c4"/>
<circle cx="197.5" cy="260.8" r="1.4" fill="#1f86c4"/>
<circle cx="199.0" cy="258.6" r="1.4" fill="#1f86c4"/>
<circle cx="200.5" cy="256.4" r="1.4" fill="#1f86c4"/>
<circle cx="199.8" cy="262.3" r="1.4" fill="#1f86c4"/>
<circle cx="201.2" cy="265.3" r="1.4" fill="#1f86c4"/>
<circle cx="202.7" cy="259.4" r="1.4" fill="#1f86c4"/>
<circle cx="204.2" cy="263.1" r="1.4" fill="#1f86c4"/>
<circle cx="206.4" cy="263.8" r="1.4" fill="#1f86c4"/>
<circle cx="208.6" cy="264.5" r="1.4" fill="#1f86c4"/>
<circle cx="209.4" cy="259.4" r="1.4" fill="#1f86c4"/>
<circle cx="210.8" cy="257.9" r="1.4" fill="#1f86c4"/>
<circle cx="212.3" cy="258.6" r="1.4" fill="#1f86c4"/>
<circle cx="213.8" cy="257.1" r="1.4" fill="#1f86c4"/>
<circle cx="215.3" cy="257.9" r="1.4" fill="#1f86c4"/>
<circle cx="216.8" cy="258.6" r="1.4" fill="#1f86c4"/>
<circle cx="218.2" cy="257.1" r="1.4" fill="#1f86c4"/>
<circle cx="219.7" cy="254.2" r="1.4" fill="#1f86c4"/>
<circle cx="221.2" cy="257.1" r="1.4" fill="#1f86c4"/>
<circle cx="222.7" cy="257.9" r="1.4" fill="#1f86c4"/>
<circle cx="224.1" cy="255.7" r="1.4" fill="#1f86c4"/>
<circle cx="225.6" cy="259.4" r="1.4" fill="#1f86c4"/>
<circle cx="227.1" cy="257.9" r="1.4" fill="#1f86c4"/>
<circle cx="228.6" cy="260.1" r="1.4" fill="#1f86c4"/>
<circle cx="230.1" cy="260.8" r="1.4" fill="#1f86c4"/>
<circle cx="230.8" cy="264.5" r="1.4" fill="#1f86c4"/>
<circle cx="232.3" cy="259.4" r="1.4" fill="#1f86c4"/>
<circle cx="233.8" cy="255.7" r="1.4" fill="#1f86c4"/>
<circle cx="204.9" cy="248.3" r="1.4" fill="#1f86c4"/>
<circle cx="205.7" cy="249.8" r="1.4" fill="#1f86c4"/>
<circle cx="207.1" cy="273.4" r="1.4" fill="#1f86c4"/>
<circle cx="187.9" cy="266.8" r="1.4" fill="#1f86c4"/>
<circle cx="194.6" cy="267.5" r="1.4" fill="#1f86c4"/>
<circle cx="199.0" cy="263.8" r="1.4" fill="#1f86c4"/>
<circle cx="202.0" cy="259.4" r="1.4" fill="#1f86c4"/>
<circle cx="101.1" cy="238.3" r="1.4" fill="#1f86c4"/>
<circle cx="103.3" cy="240.8" r="1.4" fill="#1f86c4"/>
<circle cx="105.3" cy="242.9" r="1.4" fill="#1f86c4"/>
<circle cx="107.4" cy="240.8" r="1.4" fill="#1f86c4"/>
<circle cx="109.5" cy="247.3" r="1.4" fill="#1f86c4"/>
<circle cx="110.8" cy="240.4" r="1.4" fill="#1f86c4"/>
<circle cx="113.0" cy="242.6" r="1.4" fill="#1f86c4"/>
<circle cx="115.1" cy="238.2" r="1.4" fill="#1f86c4"/>
<circle cx="115.9" cy="246.9" r="1.4" fill="#1f86c4"/>
<circle cx="117.9" cy="245.4" r="1.4" fill="#1f86c4"/>
<circle cx="120.1" cy="243.8" r="1.4" fill="#1f86c4"/>
<circle cx="122.6" cy="248.0" r="1.4" fill="#1f86c4"/>
<circle cx="123.7" cy="246.2" r="1.4" fill="#1f86c4"/>
<circle cx="126.4" cy="247.7" r="1.4" fill="#1f86c4"/>
<circle cx="128.2" cy="249.4" r="1.4" fill="#1f86c4"/>
<circle cx="129.8" cy="245.5" r="1.4" fill="#1f86c4"/>
<circle cx="131.6" cy="250.7" r="1.4" fill="#1f86c4"/>
<circle cx="134.3" cy="249.6" r="1.4" fill="#1f86c4"/>
<circle cx="161.4" cy="241.6" r="1.4" fill="#1f86c4"/>
<circle cx="163.0" cy="242.6" r="1.4" fill="#1f86c4"/>
<circle cx="164.4" cy="243.6" r="1.4" fill="#1f86c4"/>
<circle cx="162.1" cy="244.3" r="1.4" fill="#1f86c4"/>
<circle cx="163.6" cy="245.7" r="1.4" fill="#1f86c4"/>
<circle cx="160.7" cy="240.2" r="1.4" fill="#1f86c4"/>
<path d="M37.0 198.0V306.3H243.8" fill="none" stroke="#4a4a4a" stroke-width="1.2"/>
<line x1="34.4" y1="198.0" x2="37.0" y2="198.0" stroke="#4a4a4a" stroke-width="1"/>
<text x="29.8" y="201.0" text-anchor="end" font-size="7.4" font-weight="bold">1.0</text>
<line x1="34.4" y1="225.1" x2="37.0" y2="225.1" stroke="#4a4a4a" stroke-width="1"/>
<text x="29.8" y="228.1" text-anchor="end" font-size="7.4" font-weight="bold">0.5</text>
<line x1="34.4" y1="252.2" x2="37.0" y2="252.2" stroke="#4a4a4a" stroke-width="1"/>
<text x="29.8" y="255.2" text-anchor="end" font-size="7.4" font-weight="bold">0.0</text>
<line x1="34.4" y1="279.2" x2="37.0" y2="279.2" stroke="#4a4a4a" stroke-width="1"/>
<text x="29.8" y="282.2" text-anchor="end" font-size="7.4" font-weight="bold">-0.5</text>
<line x1="34.4" y1="306.3" x2="37.0" y2="306.3" stroke="#4a4a4a" stroke-width="1"/>
<text x="29.8" y="309.3" text-anchor="end" font-size="7.4" font-weight="bold">-1.0</text>
<line x1="37.0" y1="306.3" x2="37.0" y2="309.3" stroke="#4a4a4a" stroke-width="1"/>
<text x="37.0" y="319.8" text-anchor="middle" font-size="7.4" font-weight="bold">0</text>
<line x1="52.9" y1="306.3" x2="52.9" y2="309.3" stroke="#4a4a4a" stroke-width="1"/>
<text x="52.9" y="319.8" text-anchor="middle" font-size="7.4" font-weight="bold">20</text>
<line x1="68.8" y1="306.3" x2="68.8" y2="309.3" stroke="#4a4a4a" stroke-width="1"/>
<text x="68.8" y="319.8" text-anchor="middle" font-size="7.4" font-weight="bold">40</text>
<line x1="84.7" y1="306.3" x2="84.7" y2="309.3" stroke="#4a4a4a" stroke-width="1"/>
<text x="84.7" y="319.8" text-anchor="middle" font-size="7.4" font-weight="bold">60</text>
<line x1="100.6" y1="306.3" x2="100.6" y2="309.3" stroke="#4a4a4a" stroke-width="1"/>
<text x="100.6" y="319.8" text-anchor="middle" font-size="7.4" font-weight="bold">80</text>
<line x1="116.5" y1="306.3" x2="116.5" y2="309.3" stroke="#4a4a4a" stroke-width="1"/>
<text x="116.5" y="319.8" text-anchor="middle" font-size="7.4" font-weight="bold">100</text>
<line x1="132.4" y1="306.3" x2="132.4" y2="309.3" stroke="#4a4a4a" stroke-width="1"/>
<text x="132.4" y="319.8" text-anchor="middle" font-size="7.4" font-weight="bold">120</text>
<line x1="148.4" y1="306.3" x2="148.4" y2="309.3" stroke="#4a4a4a" stroke-width="1"/>
<text x="148.4" y="319.8" text-anchor="middle" font-size="7.4" font-weight="bold">140</text>
<line x1="164.3" y1="306.3" x2="164.3" y2="309.3" stroke="#4a4a4a" stroke-width="1"/>
<text x="164.3" y="319.8" text-anchor="middle" font-size="7.4" font-weight="bold">160</text>
<line x1="180.2" y1="306.3" x2="180.2" y2="309.3" stroke="#4a4a4a" stroke-width="1"/>
<text x="180.2" y="319.8" text-anchor="middle" font-size="7.4" font-weight="bold">180</text>
<line x1="196.1" y1="306.3" x2="196.1" y2="309.3" stroke="#4a4a4a" stroke-width="1"/>
<text x="196.1" y="319.8" text-anchor="middle" font-size="7.4" font-weight="bold">200</text>
<line x1="212.0" y1="306.3" x2="212.0" y2="309.3" stroke="#4a4a4a" stroke-width="1"/>
<text x="212.0" y="319.8" text-anchor="middle" font-size="7.4" font-weight="bold">220</text>
<line x1="227.9" y1="306.3" x2="227.9" y2="309.3" stroke="#4a4a4a" stroke-width="1"/>
<text x="227.9" y="319.8" text-anchor="middle" font-size="7.4" font-weight="bold">240</text>
<line x1="243.8" y1="306.3" x2="243.8" y2="309.3" stroke="#4a4a4a" stroke-width="1"/>
<text x="243.8" y="319.8" text-anchor="middle" font-size="7.4" font-weight="bold">260</text>
<rect x="39.4" y="193.7" width="132.1" height="16.6" fill="#fff" stroke="#444" stroke-width="1"/>
<circle cx="45.8" cy="198.0" r="1.3" fill="#3a2a20"/>
<text x="49.9" y="200.3" font-size="6.75" font-weight="bold">Beam 1</text>
<circle cx="78.1" cy="198.0" r="1.3" fill="#a6a6a6"/>
<text x="82.2" y="200.3" font-size="6.75" font-weight="bold">Beam 2</text>
<circle cx="110.6" cy="198.0" r="1.3" fill="#ffc000"/>
<text x="114.7" y="200.3" font-size="6.75" font-weight="bold">Beam 3</text>
<circle cx="143.1" cy="198.0" r="1.2" fill="none" stroke="#6a8ed8" stroke-width="0.6"/>
<text x="147.2" y="200.3" font-size="6.75" font-weight="bold">Beam 4</text>
<circle cx="45.8" cy="206.2" r="1.3" fill="#5cad34"/>
<text x="49.9" y="208.5" font-size="6.75" font-weight="bold">Beam 5</text>
<path d="M78.1 204.8L79.5 207.3L76.7 207.3Z" fill="#ff3c3c" fill-opacity="0.85"/>
<text x="82.2" y="208.5" font-size="6.75" font-weight="bold">Beam 6</text>
<circle cx="110.6" cy="206.2" r="1.2" fill="none" stroke="#c98a5e" stroke-width="0.6"/>
<text x="114.7" y="208.5" font-size="6.75" font-weight="bold">Beam 7</text>
<circle cx="143.1" cy="206.2" r="1.3" fill="#1f86c4"/>
<text x="147.2" y="208.5" font-size="6.75" font-weight="bold">Beam 8</text>
<text transform="translate(16.3,270.2) rotate(-90)" text-anchor="middle" font-size="8.04" font-weight="bold">GEDI - <tspan font-style="italic">in-situ</tspan> elevations (m)</text>
<text x="146.2" y="330.2" text-anchor="middle" font-size="7.9" font-weight="bold">GEDI shot number</text>
<text x="129.7" y="358.1" text-anchor="middle" font-size="12.4" letter-spacing="0.5" stroke="#222" stroke-width="0.2">(e)</text>
<line x1="318.0" y1="252.7" x2="523.0" y2="252.7" stroke="#c8c8c8" stroke-width="1"/>
<circle cx="321.8" cy="251.4" r="1.4" fill="#3a2a20"/>
<circle cx="322.7" cy="248.0" r="1.4" fill="#3a2a20"/>
<circle cx="329.0" cy="251.5" r="1.4" fill="#3a2a20"/>
<circle cx="329.9" cy="254.0" r="1.4" fill="#3a2a20"/>
<circle cx="337.1" cy="249.7" r="1.4" fill="#3a2a20"/>
<circle cx="338.4" cy="251.2" r="1.4" fill="#3a2a20"/>
<circle cx="345.2" cy="252.2" r="1.4" fill="#3a2a20"/>
<circle cx="349.3" cy="249.5" r="1.4" fill="#3a2a20"/>
<circle cx="351.8" cy="250.4" r="1.4" fill="#3a2a20"/>
<circle cx="355.4" cy="251.2" r="1.4" fill="#3a2a20"/>
<circle cx="357.4" cy="253.1" r="1.4" fill="#3a2a20"/>
<circle cx="362.5" cy="251.5" r="1.4" fill="#3a2a20"/>
<circle cx="367.4" cy="247.5" r="1.4" fill="#3a2a20"/>
<circle cx="369.3" cy="254.3" r="1.4" fill="#3a2a20"/>
<circle cx="373.5" cy="256.2" r="1.4" fill="#3a2a20"/>
<circle cx="378.9" cy="251.6" r="1.4" fill="#3a2a20"/>
<circle cx="383.7" cy="251.1" r="1.4" fill="#3a2a20"/>
<circle cx="385.9" cy="252.9" r="1.4" fill="#3a2a20"/>
<circle cx="389.0" cy="249.3" r="1.4" fill="#3a2a20"/>
<circle cx="393.0" cy="252.1" r="1.4" fill="#3a2a20"/>
<circle cx="397.1" cy="247.6" r="1.4" fill="#3a2a20"/>
<circle cx="400.8" cy="254.0" r="1.4" fill="#3a2a20"/>
<circle cx="408.0" cy="254.9" r="1.4" fill="#3a2a20"/>
<circle cx="409.1" cy="249.7" r="1.4" fill="#3a2a20"/>
<circle cx="415.6" cy="250.6" r="1.4" fill="#3a2a20"/>
<circle cx="417.9" cy="253.7" r="1.4" fill="#3a2a20"/>
<circle cx="421.7" cy="250.8" r="1.4" fill="#3a2a20"/>
<circle cx="424.5" cy="248.9" r="1.4" fill="#3a2a20"/>
<circle cx="430.5" cy="252.8" r="1.4" fill="#3a2a20"/>
<circle cx="433.7" cy="247.6" r="1.4" fill="#3a2a20"/>
<circle cx="436.2" cy="249.1" r="1.4" fill="#3a2a20"/>
<circle cx="442.4" cy="255.1" r="1.4" fill="#3a2a20"/>
<circle cx="447.0" cy="250.7" r="1.4" fill="#3a2a20"/>
<circle cx="450.5" cy="253.5" r="1.4" fill="#3a2a20"/>
<circle cx="453.4" cy="249.7" r="1.4" fill="#3a2a20"/>
<circle cx="455.6" cy="255.1" r="1.4" fill="#3a2a20"/>
<circle cx="461.0" cy="252.6" r="1.4" fill="#3a2a20"/>
<circle cx="463.5" cy="254.1" r="1.4" fill="#3a2a20"/>
<circle cx="468.0" cy="250.4" r="1.4" fill="#3a2a20"/>
<circle cx="473.9" cy="255.8" r="1.4" fill="#3a2a20"/>
<circle cx="341.9" cy="287.3" r="1.4" fill="#3a2a20"/>
<circle cx="358.8" cy="281.8" r="1.4" fill="#3a2a20"/>
<circle cx="375.6" cy="283.4" r="1.4" fill="#3a2a20"/>
<circle cx="377.5" cy="287.0" r="1.4" fill="#3a2a20"/>
<circle cx="411.5" cy="280.2" r="1.4" fill="#3a2a20"/>
<circle cx="427.7" cy="280.2" r="1.4" fill="#3a2a20"/>
<circle cx="444.8" cy="281.1" r="1.4" fill="#3a2a20"/>
<circle cx="477.0" cy="278.9" r="1.4" fill="#3a2a20"/>
<circle cx="356.3" cy="248.8" r="1.4" fill="#a6a6a6"/>
<circle cx="358.0" cy="244.7" r="1.4" fill="#a6a6a6"/>
<circle cx="360.8" cy="246.4" r="1.4" fill="#a6a6a6"/>
<circle cx="364.6" cy="249.8" r="1.4" fill="#a6a6a6"/>
<circle cx="365.6" cy="247.8" r="1.4" fill="#a6a6a6"/>
<circle cx="368.0" cy="246.1" r="1.4" fill="#a6a6a6"/>
<circle cx="370.9" cy="246.2" r="1.4" fill="#a6a6a6"/>
<circle cx="374.4" cy="247.2" r="1.4" fill="#a6a6a6"/>
<circle cx="377.6" cy="248.9" r="1.4" fill="#a6a6a6"/>
<circle cx="379.4" cy="245.8" r="1.4" fill="#a6a6a6"/>
<circle cx="382.7" cy="243.7" r="1.4" fill="#a6a6a6"/>
<circle cx="385.9" cy="248.8" r="1.4" fill="#a6a6a6"/>
<circle cx="387.2" cy="247.9" r="1.4" fill="#a6a6a6"/>
<circle cx="389.5" cy="246.8" r="1.4" fill="#a6a6a6"/>
<circle cx="392.9" cy="247.3" r="1.4" fill="#a6a6a6"/>
<circle cx="395.6" cy="246.0" r="1.4" fill="#a6a6a6"/>
<circle cx="396.9" cy="248.2" r="1.4" fill="#a6a6a6"/>
<circle cx="401.4" cy="245.7" r="1.4" fill="#a6a6a6"/>
<circle cx="402.1" cy="245.3" r="1.4" fill="#a6a6a6"/>
<circle cx="405.0" cy="244.7" r="1.4" fill="#a6a6a6"/>
<circle cx="408.8" cy="245.4" r="1.4" fill="#a6a6a6"/>
<circle cx="409.5" cy="246.5" r="1.4" fill="#a6a6a6"/>
<circle cx="413.9" cy="246.6" r="1.4" fill="#a6a6a6"/>
<circle cx="416.5" cy="246.0" r="1.4" fill="#a6a6a6"/>
<circle cx="419.0" cy="242.3" r="1.4" fill="#a6a6a6"/>
<circle cx="421.0" cy="245.2" r="1.4" fill="#a6a6a6"/>
<circle cx="423.2" cy="242.9" r="1.4" fill="#a6a6a6"/>
<circle cx="426.5" cy="246.2" r="1.4" fill="#a6a6a6"/>
<circle cx="428.3" cy="243.8" r="1.4" fill="#a6a6a6"/>
<circle cx="430.4" cy="247.4" r="1.4" fill="#a6a6a6"/>
<circle cx="434.5" cy="246.7" r="1.4" fill="#a6a6a6"/>
<circle cx="437.1" cy="243.7" r="1.4" fill="#a6a6a6"/>
<circle cx="439.9" cy="245.8" r="1.4" fill="#a6a6a6"/>
<circle cx="440.6" cy="243.9" r="1.4" fill="#a6a6a6"/>
<circle cx="444.4" cy="243.3" r="1.4" fill="#a6a6a6"/>
<circle cx="446.8" cy="242.6" r="1.4" fill="#a6a6a6"/>
<circle cx="449.4" cy="242.8" r="1.4" fill="#a6a6a6"/>
<circle cx="452.8" cy="242.9" r="1.4" fill="#a6a6a6"/>
<circle cx="454.6" cy="241.9" r="1.4" fill="#a6a6a6"/>
<circle cx="457.4" cy="246.7" r="1.4" fill="#a6a6a6"/>
<circle cx="458.9" cy="244.2" r="1.4" fill="#a6a6a6"/>
<circle cx="461.2" cy="244.9" r="1.4" fill="#a6a6a6"/>
<circle cx="465.2" cy="243.6" r="1.4" fill="#a6a6a6"/>
<circle cx="467.5" cy="243.7" r="1.4" fill="#a6a6a6"/>
<circle cx="469.5" cy="240.9" r="1.4" fill="#a6a6a6"/>
<circle cx="471.8" cy="241.4" r="1.4" fill="#a6a6a6"/>
<circle cx="475.7" cy="240.4" r="1.4" fill="#a6a6a6"/>
<circle cx="477.9" cy="242.4" r="1.4" fill="#a6a6a6"/>
<circle cx="480.8" cy="242.6" r="1.4" fill="#a6a6a6"/>
<circle cx="483.9" cy="243.9" r="1.4" fill="#a6a6a6"/>
<circle cx="484.8" cy="240.1" r="1.4" fill="#a6a6a6"/>
<circle cx="487.5" cy="242.9" r="1.4" fill="#a6a6a6"/>
<circle cx="489.6" cy="240.1" r="1.4" fill="#a6a6a6"/>
<circle cx="492.7" cy="241.6" r="1.4" fill="#a6a6a6"/>
<circle cx="494.9" cy="242.1" r="1.4" fill="#a6a6a6"/>
<circle cx="498.5" cy="239.6" r="1.4" fill="#a6a6a6"/>
<circle cx="500.5" cy="243.3" r="1.4" fill="#a6a6a6"/>
<circle cx="503.8" cy="242.7" r="1.4" fill="#a6a6a6"/>
<circle cx="507.2" cy="237.1" r="1.4" fill="#a6a6a6"/>
<circle cx="508.1" cy="242.1" r="1.4" fill="#a6a6a6"/>
<circle cx="392.8" cy="243.7" r="1.4" fill="#a6a6a6"/>
<circle cx="408.3" cy="243.9" r="1.4" fill="#a6a6a6"/>
<circle cx="423.8" cy="243.3" r="1.4" fill="#a6a6a6"/>
<circle cx="433.5" cy="243.3" r="1.4" fill="#a6a6a6"/>
<circle cx="441.3" cy="243.3" r="1.4" fill="#a6a6a6"/>
<circle cx="452.3" cy="240.1" r="1.4" fill="#a6a6a6"/>
<circle cx="405.7" cy="280.2" r="1.4" fill="#a6a6a6"/>
<circle cx="403.8" cy="283.4" r="1.4" fill="#a6a6a6"/>
<circle cx="439.3" cy="276.9" r="1.4" fill="#a6a6a6"/>
<circle cx="369.7" cy="275.0" r="1.4" fill="#a6a6a6"/>
<circle cx="330.9" cy="246.5" r="1.4" fill="#a6a6a6"/>
<circle cx="354.2" cy="245.2" r="1.4" fill="#a6a6a6"/>
<circle cx="455.5" cy="275.5" r="1.4" fill="#a6a6a6"/>
<circle cx="472.9" cy="273.4" r="1.4" fill="#a6a6a6"/>
<circle cx="474.3" cy="275.5" r="1.4" fill="#a6a6a6"/>
<circle cx="319.5" cy="252.3" r="1.4" fill="#ffc000"/>
<circle cx="320.4" cy="255.0" r="1.4" fill="#ffc000"/>
<circle cx="322.3" cy="256.4" r="1.4" fill="#ffc000"/>
<circle cx="325.5" cy="252.8" r="1.4" fill="#ffc000"/>
<circle cx="327.1" cy="251.4" r="1.4" fill="#ffc000"/>
<circle cx="330.1" cy="253.2" r="1.4" fill="#ffc000"/>
<circle cx="330.4" cy="255.1" r="1.4" fill="#ffc000"/>
<circle cx="332.4" cy="252.4" r="1.4" fill="#ffc000"/>
<circle cx="335.1" cy="251.1" r="1.4" fill="#ffc000"/>
<circle cx="336.6" cy="252.3" r="1.4" fill="#ffc000"/>
<circle cx="338.5" cy="251.3" r="1.4" fill="#ffc000"/>
<circle cx="341.4" cy="251.2" r="1.4" fill="#ffc000"/>
<circle cx="343.9" cy="254.1" r="1.4" fill="#ffc000"/>
<circle cx="345.9" cy="255.3" r="1.4" fill="#ffc000"/>
<circle cx="346.9" cy="252.1" r="1.4" fill="#ffc000"/>
<circle cx="349.5" cy="251.9" r="1.4" fill="#ffc000"/>
<circle cx="352.0" cy="249.6" r="1.4" fill="#ffc000"/>
<circle cx="352.6" cy="252.6" r="1.4" fill="#ffc000"/>
<circle cx="356.2" cy="252.4" r="1.4" fill="#ffc000"/>
<circle cx="357.5" cy="254.3" r="1.4" fill="#ffc000"/>
<circle cx="359.3" cy="251.2" r="1.4" fill="#ffc000"/>
<circle cx="361.5" cy="254.3" r="1.4" fill="#ffc000"/>
<circle cx="363.1" cy="252.4" r="1.4" fill="#ffc000"/>
<circle cx="365.0" cy="247.4" r="1.4" fill="#ffc000"/>
<circle cx="366.8" cy="253.0" r="1.4" fill="#ffc000"/>
<circle cx="369.1" cy="252.3" r="1.4" fill="#ffc000"/>
<circle cx="371.7" cy="251.1" r="1.4" fill="#ffc000"/>
<circle cx="373.6" cy="251.0" r="1.4" fill="#ffc000"/>
<circle cx="375.8" cy="253.7" r="1.4" fill="#ffc000"/>
<circle cx="378.6" cy="255.7" r="1.4" fill="#ffc000"/>
<circle cx="380.4" cy="245.9" r="1.4" fill="#ffc000"/>
<circle cx="381.3" cy="253.0" r="1.4" fill="#ffc000"/>
<circle cx="384.4" cy="254.2" r="1.4" fill="#ffc000"/>
<circle cx="387.0" cy="252.0" r="1.4" fill="#ffc000"/>
<circle cx="387.3" cy="251.4" r="1.4" fill="#ffc000"/>
<circle cx="390.4" cy="249.0" r="1.4" fill="#ffc000"/>
<circle cx="392.0" cy="249.0" r="1.4" fill="#ffc000"/>
<circle cx="394.7" cy="249.5" r="1.4" fill="#ffc000"/>
<circle cx="396.8" cy="251.9" r="1.4" fill="#ffc000"/>
<circle cx="397.5" cy="250.8" r="1.4" fill="#ffc000"/>
<circle cx="399.4" cy="250.0" r="1.4" fill="#ffc000"/>
<circle cx="401.9" cy="254.1" r="1.4" fill="#ffc000"/>
<circle cx="405.2" cy="250.7" r="1.4" fill="#ffc000"/>
<circle cx="406.7" cy="250.2" r="1.4" fill="#ffc000"/>
<circle cx="407.5" cy="251.2" r="1.4" fill="#ffc000"/>
<circle cx="410.3" cy="252.9" r="1.4" fill="#ffc000"/>
<circle cx="412.9" cy="252.5" r="1.4" fill="#ffc000"/>
<circle cx="414.4" cy="250.1" r="1.4" fill="#ffc000"/>
<circle cx="417.3" cy="253.9" r="1.4" fill="#ffc000"/>
<circle cx="417.6" cy="253.4" r="1.4" fill="#ffc000"/>
<circle cx="421.2" cy="250.5" r="1.4" fill="#ffc000"/>
<circle cx="421.7" cy="251.3" r="1.4" fill="#ffc000"/>
<circle cx="424.3" cy="249.3" r="1.4" fill="#ffc000"/>
<circle cx="427.4" cy="252.8" r="1.4" fill="#ffc000"/>
<circle cx="428.1" cy="251.7" r="1.4" fill="#ffc000"/>
<circle cx="430.9" cy="253.4" r="1.4" fill="#ffc000"/>
<circle cx="432.0" cy="249.6" r="1.4" fill="#ffc000"/>
<circle cx="434.3" cy="250.0" r="1.4" fill="#ffc000"/>
<circle cx="436.3" cy="247.2" r="1.4" fill="#ffc000"/>
<circle cx="438.6" cy="248.8" r="1.4" fill="#ffc000"/>
<circle cx="440.3" cy="249.5" r="1.4" fill="#ffc000"/>
<circle cx="442.7" cy="249.9" r="1.4" fill="#ffc000"/>
<circle cx="445.3" cy="252.1" r="1.4" fill="#ffc000"/>
<circle cx="446.8" cy="247.1" r="1.4" fill="#ffc000"/>
<circle cx="449.8" cy="249.1" r="1.4" fill="#ffc000"/>
<circle cx="452.0" cy="249.5" r="1.4" fill="#ffc000"/>
<circle cx="454.0" cy="251.2" r="1.4" fill="#ffc000"/>
<circle cx="454.7" cy="249.8" r="1.4" fill="#ffc000"/>
<circle cx="456.4" cy="247.9" r="1.4" fill="#ffc000"/>
<circle cx="459.1" cy="251.3" r="1.4" fill="#ffc000"/>
<circle cx="462.0" cy="251.1" r="1.4" fill="#ffc000"/>
<circle cx="463.3" cy="250.5" r="1.4" fill="#ffc000"/>
<circle cx="466.3" cy="249.4" r="1.4" fill="#ffc000"/>
<circle cx="467.7" cy="247.6" r="1.4" fill="#ffc000"/>
<circle cx="468.4" cy="248.7" r="1.4" fill="#ffc000"/>
<circle cx="471.2" cy="250.3" r="1.4" fill="#ffc000"/>
<circle cx="472.5" cy="249.3" r="1.4" fill="#ffc000"/>
<circle cx="475.3" cy="248.8" r="1.4" fill="#ffc000"/>
<circle cx="477.8" cy="248.1" r="1.4" fill="#ffc000"/>
<circle cx="480.4" cy="253.6" r="1.4" fill="#ffc000"/>
<circle cx="481.7" cy="250.5" r="1.4" fill="#ffc000"/>
<circle cx="484.5" cy="249.3" r="1.4" fill="#ffc000"/>
<circle cx="485.2" cy="248.7" r="1.4" fill="#ffc000"/>
<circle cx="488.2" cy="250.3" r="1.4" fill="#ffc000"/>
<circle cx="488.9" cy="251.9" r="1.4" fill="#ffc000"/>
<circle cx="491.0" cy="250.2" r="1.4" fill="#ffc000"/>
<circle cx="494.1" cy="246.0" r="1.4" fill="#ffc000"/>
<circle cx="495.1" cy="249.5" r="1.4" fill="#ffc000"/>
<circle cx="497.6" cy="247.2" r="1.4" fill="#ffc000"/>
<circle cx="500.3" cy="248.1" r="1.4" fill="#ffc000"/>
<circle cx="501.9" cy="250.0" r="1.4" fill="#ffc000"/>
<circle cx="503.1" cy="251.0" r="1.4" fill="#ffc000"/>
<circle cx="505.8" cy="250.6" r="1.4" fill="#ffc000"/>
<circle cx="508.4" cy="250.6" r="1.4" fill="#ffc000"/>
<circle cx="509.9" cy="253.2" r="1.4" fill="#ffc000"/>
<circle cx="502.7" cy="243.6" r="1.4" fill="#ffc000"/>
<circle cx="495.1" cy="254.7" r="1.4" fill="#ffc000"/>
<circle cx="501.3" cy="254.0" r="1.4" fill="#ffc000"/>
<rect x="318.6" y="258.1" width="2.5" height="2.5" fill="none" stroke="#6a8ed8" stroke-width="0.6"/>
<rect x="321.2" y="257.3" width="2.5" height="2.5" fill="none" stroke="#6a8ed8" stroke-width="0.6"/>
<rect x="323.1" y="253.4" width="2.5" height="2.5" fill="none" stroke="#6a8ed8" stroke-width="0.6"/>
<rect x="326.6" y="255.9" width="2.5" height="2.5" fill="none" stroke="#6a8ed8" stroke-width="0.6"/>
<rect x="330.2" y="255.8" width="2.5" height="2.5" fill="none" stroke="#6a8ed8" stroke-width="0.6"/>
<rect x="333.1" y="256.2" width="2.5" height="2.5" fill="none" stroke="#6a8ed8" stroke-width="0.6"/>
<rect x="335.3" y="258.2" width="2.5" height="2.5" fill="none" stroke="#6a8ed8" stroke-width="0.6"/>
<rect x="337.3" y="253.4" width="2.5" height="2.5" fill="none" stroke="#6a8ed8" stroke-width="0.6"/>
<rect x="341.5" y="256.3" width="2.5" height="2.5" fill="none" stroke="#6a8ed8" stroke-width="0.6"/>
<rect x="343.7" y="255.3" width="2.5" height="2.5" fill="none" stroke="#6a8ed8" stroke-width="0.6"/>
<rect x="344.6" y="256.3" width="2.5" height="2.5" fill="none" stroke="#6a8ed8" stroke-width="0.6"/>
<rect x="347.3" y="253.2" width="2.5" height="2.5" fill="none" stroke="#6a8ed8" stroke-width="0.6"/>
<rect x="351.5" y="256.7" width="2.5" height="2.5" fill="none" stroke="#6a8ed8" stroke-width="0.6"/>
<rect x="354.7" y="256.1" width="2.5" height="2.5" fill="none" stroke="#6a8ed8" stroke-width="0.6"/>
<rect x="356.8" y="255.1" width="2.5" height="2.5" fill="none" stroke="#6a8ed8" stroke-width="0.6"/>
<rect x="358.9" y="252.9" width="2.5" height="2.5" fill="none" stroke="#6a8ed8" stroke-width="0.6"/>
<rect x="362.0" y="255.6" width="2.5" height="2.5" fill="none" stroke="#6a8ed8" stroke-width="0.6"/>
<rect x="365.9" y="258.7" width="2.5" height="2.5" fill="none" stroke="#6a8ed8" stroke-width="0.6"/>
<rect x="369.4" y="253.3" width="2.5" height="2.5" fill="none" stroke="#6a8ed8" stroke-width="0.6"/>
<rect x="370.0" y="256.6" width="2.5" height="2.5" fill="none" stroke="#6a8ed8" stroke-width="0.6"/>
<rect x="374.7" y="257.7" width="2.5" height="2.5" fill="none" stroke="#6a8ed8" stroke-width="0.6"/>
<rect x="376.6" y="257.3" width="2.5" height="2.5" fill="none" stroke="#6a8ed8" stroke-width="0.6"/>
<rect x="379.2" y="254.2" width="2.5" height="2.5" fill="none" stroke="#6a8ed8" stroke-width="0.6"/>
<rect x="382.9" y="255.7" width="2.5" height="2.5" fill="none" stroke="#6a8ed8" stroke-width="0.6"/>
<rect x="384.5" y="253.8" width="2.5" height="2.5" fill="none" stroke="#6a8ed8" stroke-width="0.6"/>
<rect x="388.1" y="255.0" width="2.5" height="2.5" fill="none" stroke="#6a8ed8" stroke-width="0.6"/>
<rect x="390.4" y="257.1" width="2.5" height="2.5" fill="none" stroke="#6a8ed8" stroke-width="0.6"/>
<rect x="393.3" y="253.4" width="2.5" height="2.5" fill="none" stroke="#6a8ed8" stroke-width="0.6"/>
<rect x="396.3" y="252.7" width="2.5" height="2.5" fill="none" stroke="#6a8ed8" stroke-width="0.6"/>
<rect x="398.3" y="251.5" width="2.5" height="2.5" fill="none" stroke="#6a8ed8" stroke-width="0.6"/>
<rect x="401.2" y="257.5" width="2.5" height="2.5" fill="none" stroke="#6a8ed8" stroke-width="0.6"/>
<rect x="403.5" y="256.6" width="2.5" height="2.5" fill="none" stroke="#6a8ed8" stroke-width="0.6"/>
<rect x="407.5" y="253.6" width="2.5" height="2.5" fill="none" stroke="#6a8ed8" stroke-width="0.6"/>
<rect x="408.7" y="255.4" width="2.5" height="2.5" fill="none" stroke="#6a8ed8" stroke-width="0.6"/>
<rect x="411.5" y="256.4" width="2.5" height="2.5" fill="none" stroke="#6a8ed8" stroke-width="0.6"/>
<rect x="415.1" y="252.1" width="2.5" height="2.5" fill="none" stroke="#6a8ed8" stroke-width="0.6"/>
<rect x="416.8" y="257.8" width="2.5" height="2.5" fill="none" stroke="#6a8ed8" stroke-width="0.6"/>
<rect x="420.2" y="253.1" width="2.5" height="2.5" fill="none" stroke="#6a8ed8" stroke-width="0.6"/>
<rect x="422.2" y="254.4" width="2.5" height="2.5" fill="none" stroke="#6a8ed8" stroke-width="0.6"/>
<rect x="427.1" y="254.7" width="2.5" height="2.5" fill="none" stroke="#6a8ed8" stroke-width="0.6"/>
<rect x="428.0" y="253.4" width="2.5" height="2.5" fill="none" stroke="#6a8ed8" stroke-width="0.6"/>
<rect x="432.0" y="253.7" width="2.5" height="2.5" fill="none" stroke="#6a8ed8" stroke-width="0.6"/>
<rect x="433.8" y="254.6" width="2.5" height="2.5" fill="none" stroke="#6a8ed8" stroke-width="0.6"/>
<rect x="436.7" y="256.5" width="2.5" height="2.5" fill="none" stroke="#6a8ed8" stroke-width="0.6"/>
<rect x="441.3" y="251.0" width="2.5" height="2.5" fill="none" stroke="#6a8ed8" stroke-width="0.6"/>
<rect x="442.5" y="252.5" width="2.5" height="2.5" fill="none" stroke="#6a8ed8" stroke-width="0.6"/>
<rect x="445.0" y="253.0" width="2.5" height="2.5" fill="none" stroke="#6a8ed8" stroke-width="0.6"/>
<rect x="447.0" y="252.4" width="2.5" height="2.5" fill="none" stroke="#6a8ed8" stroke-width="0.6"/>
<rect x="451.5" y="251.7" width="2.5" height="2.5" fill="none" stroke="#6a8ed8" stroke-width="0.6"/>
<rect x="452.7" y="253.4" width="2.5" height="2.5" fill="none" stroke="#6a8ed8" stroke-width="0.6"/>
<rect x="457.2" y="253.8" width="2.5" height="2.5" fill="none" stroke="#6a8ed8" stroke-width="0.6"/>
<rect x="458.4" y="253.2" width="2.5" height="2.5" fill="none" stroke="#6a8ed8" stroke-width="0.6"/>
<rect x="462.5" y="250.9" width="2.5" height="2.5" fill="none" stroke="#6a8ed8" stroke-width="0.6"/>
<rect x="465.4" y="249.5" width="2.5" height="2.5" fill="none" stroke="#6a8ed8" stroke-width="0.6"/>
<rect x="468.9" y="248.0" width="2.5" height="2.5" fill="none" stroke="#6a8ed8" stroke-width="0.6"/>
<rect x="470.9" y="253.4" width="2.5" height="2.5" fill="none" stroke="#6a8ed8" stroke-width="0.6"/>
<rect x="473.6" y="252.9" width="2.5" height="2.5" fill="none" stroke="#6a8ed8" stroke-width="0.6"/>
<rect x="476.9" y="249.5" width="2.5" height="2.5" fill="none" stroke="#6a8ed8" stroke-width="0.6"/>
<rect x="479.9" y="248.6" width="2.5" height="2.5" fill="none" stroke="#6a8ed8" stroke-width="0.6"/>
<rect x="482.8" y="249.2" width="2.5" height="2.5" fill="none" stroke="#6a8ed8" stroke-width="0.6"/>
<rect x="485.5" y="248.7" width="2.5" height="2.5" fill="none" stroke="#6a8ed8" stroke-width="0.6"/>
<rect x="488.4" y="248.2" width="2.5" height="2.5" fill="none" stroke="#6a8ed8" stroke-width="0.6"/>
<rect x="490.5" y="249.5" width="2.5" height="2.5" fill="none" stroke="#6a8ed8" stroke-width="0.6"/>
<rect x="492.2" y="249.2" width="2.5" height="2.5" fill="none" stroke="#6a8ed8" stroke-width="0.6"/>
<rect x="495.5" y="245.9" width="2.5" height="2.5" fill="none" stroke="#6a8ed8" stroke-width="0.6"/>
<rect x="498.4" y="250.3" width="2.5" height="2.5" fill="none" stroke="#6a8ed8" stroke-width="0.6"/>
<rect x="500.5" y="251.0" width="2.5" height="2.5" fill="none" stroke="#6a8ed8" stroke-width="0.6"/>
<rect x="504.1" y="251.7" width="2.5" height="2.5" fill="none" stroke="#6a8ed8" stroke-width="0.6"/>
<rect x="506.1" y="246.6" width="2.5" height="2.5" fill="none" stroke="#6a8ed8" stroke-width="0.6"/>
<rect x="508.6" y="252.2" width="2.5" height="2.5" fill="none" stroke="#6a8ed8" stroke-width="0.6"/>
<circle cx="319.5" cy="242.1" r="1.4" fill="#5cad34"/>
<circle cx="321.5" cy="244.1" r="1.4" fill="#5cad34"/>
<circle cx="323.4" cy="245.2" r="1.4" fill="#5cad34"/>
<circle cx="325.4" cy="242.7" r="1.4" fill="#5cad34"/>
<circle cx="327.4" cy="243.4" r="1.4" fill="#5cad34"/>
<circle cx="329.4" cy="243.1" r="1.4" fill="#5cad34"/>
<circle cx="331.3" cy="244.9" r="1.4" fill="#5cad34"/>
<circle cx="333.3" cy="242.3" r="1.4" fill="#5cad34"/>
<circle cx="335.3" cy="243.1" r="1.4" fill="#5cad34"/>
<circle cx="337.3" cy="244.3" r="1.4" fill="#5cad34"/>
<circle cx="339.2" cy="244.6" r="1.4" fill="#5cad34"/>
<circle cx="341.2" cy="244.0" r="1.4" fill="#5cad34"/>
<circle cx="343.2" cy="243.7" r="1.4" fill="#5cad34"/>
<circle cx="345.2" cy="242.9" r="1.4" fill="#5cad34"/>
<circle cx="347.1" cy="242.4" r="1.4" fill="#5cad34"/>
<circle cx="349.1" cy="244.8" r="1.4" fill="#5cad34"/>
<circle cx="351.1" cy="243.5" r="1.4" fill="#5cad34"/>
<circle cx="353.1" cy="244.0" r="1.4" fill="#5cad34"/>
<circle cx="355.0" cy="242.8" r="1.4" fill="#5cad34"/>
<circle cx="357.0" cy="245.8" r="1.4" fill="#5cad34"/>
<circle cx="359.4" cy="239.4" r="1.4" fill="#5cad34"/>
<circle cx="364.6" cy="236.8" r="1.4" fill="#5cad34"/>
<circle cx="379.4" cy="236.2" r="1.4" fill="#5cad34"/>
<circle cx="365.9" cy="243.3" r="1.4" fill="#5cad34"/>
<circle cx="368.5" cy="241.3" r="1.4" fill="#5cad34"/>
<circle cx="371.0" cy="241.3" r="1.4" fill="#5cad34"/>
<circle cx="373.6" cy="241.3" r="1.4" fill="#5cad34"/>
<circle cx="376.2" cy="242.0" r="1.4" fill="#5cad34"/>
<circle cx="378.8" cy="242.6" r="1.4" fill="#5cad34"/>
<circle cx="381.4" cy="244.6" r="1.4" fill="#5cad34"/>
<circle cx="385.3" cy="251.0" r="1.4" fill="#5cad34"/>
<circle cx="341.9" cy="248.5" r="1.4" fill="#5cad34"/>
<circle cx="325.8" cy="247.2" r="1.4" fill="#5cad34"/>
<circle cx="356.8" cy="240.7" r="1.4" fill="#5cad34"/>
<circle cx="320.2" cy="249.0" r="1.4" fill="#5cad34"/>
<circle cx="322.1" cy="251.0" r="1.4" fill="#5cad34"/>
<circle cx="326.0" cy="254.5" r="1.4" fill="#5cad34"/>
<circle cx="330.3" cy="252.8" r="1.4" fill="#5cad34"/>
<circle cx="333.8" cy="252.4" r="1.4" fill="#5cad34"/>
<circle cx="335.8" cy="255.4" r="1.4" fill="#5cad34"/>
<circle cx="340.9" cy="251.2" r="1.4" fill="#5cad34"/>
<circle cx="344.3" cy="255.5" r="1.4" fill="#5cad34"/>
<circle cx="346.7" cy="255.8" r="1.4" fill="#5cad34"/>
<circle cx="350.3" cy="253.0" r="1.4" fill="#5cad34"/>
<circle cx="353.5" cy="255.1" r="1.4" fill="#5cad34"/>
<circle cx="355.3" cy="252.6" r="1.4" fill="#5cad34"/>
<circle cx="360.9" cy="248.5" r="1.4" fill="#5cad34"/>
<circle cx="363.4" cy="250.6" r="1.4" fill="#5cad34"/>
<circle cx="367.0" cy="254.7" r="1.4" fill="#5cad34"/>
<circle cx="368.9" cy="251.9" r="1.4" fill="#5cad34"/>
<circle cx="372.2" cy="253.1" r="1.4" fill="#5cad34"/>
<circle cx="376.6" cy="251.8" r="1.4" fill="#5cad34"/>
<circle cx="382.1" cy="256.3" r="1.4" fill="#5cad34"/>
<circle cx="384.0" cy="253.9" r="1.4" fill="#5cad34"/>
<circle cx="387.3" cy="254.4" r="1.4" fill="#5cad34"/>
<circle cx="391.4" cy="252.2" r="1.4" fill="#5cad34"/>
<circle cx="393.2" cy="253.1" r="1.4" fill="#5cad34"/>
<circle cx="397.3" cy="252.3" r="1.4" fill="#5cad34"/>
<circle cx="399.9" cy="251.4" r="1.4" fill="#5cad34"/>
<circle cx="404.9" cy="254.9" r="1.4" fill="#5cad34"/>
<circle cx="408.9" cy="251.7" r="1.4" fill="#5cad34"/>
<circle cx="409.6" cy="254.2" r="1.4" fill="#5cad34"/>
<circle cx="414.5" cy="253.9" r="1.4" fill="#5cad34"/>
<circle cx="417.8" cy="251.1" r="1.4" fill="#5cad34"/>
<circle cx="421.2" cy="252.2" r="1.4" fill="#5cad34"/>
<circle cx="426.0" cy="252.3" r="1.4" fill="#5cad34"/>
<circle cx="427.6" cy="252.9" r="1.4" fill="#5cad34"/>
<circle cx="431.6" cy="253.4" r="1.4" fill="#5cad34"/>
<circle cx="435.3" cy="249.7" r="1.4" fill="#5cad34"/>
<circle cx="436.5" cy="253.3" r="1.4" fill="#5cad34"/>
<circle cx="442.7" cy="252.3" r="1.4" fill="#5cad34"/>
<circle cx="443.6" cy="250.9" r="1.4" fill="#5cad34"/>
<circle cx="446.6" cy="251.9" r="1.4" fill="#5cad34"/>
<circle cx="452.7" cy="254.2" r="1.4" fill="#5cad34"/>
<circle cx="453.9" cy="251.3" r="1.4" fill="#5cad34"/>
<circle cx="457.6" cy="251.1" r="1.4" fill="#5cad34"/>
<circle cx="461.0" cy="253.9" r="1.4" fill="#5cad34"/>
<circle cx="463.3" cy="251.1" r="1.4" fill="#5cad34"/>
<circle cx="466.7" cy="253.9" r="1.4" fill="#5cad34"/>
<path d="M319.6 234.2L320.8 236.4L318.4 236.4Z" fill="#ff3c3c" fill-opacity="0.85"/>
<path d="M321.8 232.5L323.0 234.8L320.6 234.8Z" fill="#ff3c3c" fill-opacity="0.85"/>
<path d="M324.0 235.6L325.2 237.9L322.7 237.9Z" fill="#ff3c3c" fill-opacity="0.85"/>
<path d="M326.2 231.7L327.4 233.9L324.9 233.9Z" fill="#ff3c3c" fill-opacity="0.85"/>
<path d="M328.4 233.1L329.6 235.3L327.1 235.3Z" fill="#ff3c3c" fill-opacity="0.85"/>
<path d="M330.6 232.7L331.8 234.9L329.3 234.9Z" fill="#ff3c3c" fill-opacity="0.85"/>
<path d="M332.7 231.0L334.0 233.2L331.5 233.2Z" fill="#ff3c3c" fill-opacity="0.85"/>
<path d="M334.9 232.6L336.2 234.9L333.7 234.9Z" fill="#ff3c3c" fill-opacity="0.85"/>
<path d="M337.1 230.4L338.4 232.6L335.9 232.6Z" fill="#ff3c3c" fill-opacity="0.85"/>
<path d="M339.3 231.3L340.5 233.5L338.1 233.5Z" fill="#ff3c3c" fill-opacity="0.85"/>
<path d="M341.5 230.3L342.7 232.5L340.3 232.5Z" fill="#ff3c3c" fill-opacity="0.85"/>
<path d="M343.7 231.7L344.9 233.9L342.5 233.9Z" fill="#ff3c3c" fill-opacity="0.85"/>
<path d="M345.9 231.9L347.1 234.1L344.7 234.1Z" fill="#ff3c3c" fill-opacity="0.85"/>
<path d="M348.1 235.1L349.3 237.3L346.8 237.3Z" fill="#ff3c3c" fill-opacity="0.85"/>
<path d="M350.3 233.2L351.5 235.4L349.0 235.4Z" fill="#ff3c3c" fill-opacity="0.85"/>
<path d="M352.5 233.8L353.7 236.0L351.2 236.0Z" fill="#ff3c3c" fill-opacity="0.85"/>
<path d="M354.7 234.8L355.9 237.0L353.4 237.0Z" fill="#ff3c3c" fill-opacity="0.85"/>
<path d="M356.8 231.0L358.1 233.3L355.6 233.3Z" fill="#ff3c3c" fill-opacity="0.85"/>
<path d="M359.0 232.6L360.3 234.9L357.8 234.9Z" fill="#ff3c3c" fill-opacity="0.85"/>
<path d="M361.2 232.6L362.5 234.8L360.0 234.8Z" fill="#ff3c3c" fill-opacity="0.85"/>
<path d="M363.4 233.8L364.7 236.0L362.2 236.0Z" fill="#ff3c3c" fill-opacity="0.85"/>
<path d="M365.6 235.8L366.8 238.0L364.4 238.0Z" fill="#ff3c3c" fill-opacity="0.85"/>
<path d="M367.8 232.6L369.0 234.8L366.6 234.8Z" fill="#ff3c3c" fill-opacity="0.85"/>
<path d="M370.0 231.0L371.2 233.2L368.8 233.2Z" fill="#ff3c3c" fill-opacity="0.85"/>
<path d="M372.2 232.2L373.4 234.4L371.0 234.4Z" fill="#ff3c3c" fill-opacity="0.85"/>
<path d="M374.4 230.8L375.6 233.1L373.1 233.1Z" fill="#ff3c3c" fill-opacity="0.85"/>
<path d="M376.6 232.9L377.8 235.2L375.3 235.2Z" fill="#ff3c3c" fill-opacity="0.85"/>
<path d="M378.8 232.0L380.0 234.2L377.5 234.2Z" fill="#ff3c3c" fill-opacity="0.85"/>
<path d="M380.9 231.7L382.2 233.9L379.7 233.9Z" fill="#ff3c3c" fill-opacity="0.85"/>
<path d="M383.1 231.0L384.4 233.2L381.9 233.2Z" fill="#ff3c3c" fill-opacity="0.85"/>
<path d="M385.3 233.0L386.6 235.2L384.1 235.2Z" fill="#ff3c3c" fill-opacity="0.85"/>
<path d="M387.5 233.1L388.8 235.3L386.3 235.3Z" fill="#ff3c3c" fill-opacity="0.85"/>
<path d="M389.7 233.3L390.9 235.6L388.5 235.6Z" fill="#ff3c3c" fill-opacity="0.85"/>
<path d="M391.9 232.8L393.1 235.1L390.7 235.1Z" fill="#ff3c3c" fill-opacity="0.85"/>
<path d="M378.8 226.5L380.0 228.7L377.6 228.7Z" fill="#ff3c3c" fill-opacity="0.85"/>
<path d="M359.4 234.9L360.6 237.2L358.2 237.2Z" fill="#ff3c3c" fill-opacity="0.85"/>
<path d="M369.7 234.9L371.0 237.2L368.5 237.2Z" fill="#ff3c3c" fill-opacity="0.85"/>
<circle cx="319.5" cy="246.3" r="1.3" fill="none" stroke="#c98a5e" stroke-width="0.6"/>
<circle cx="321.5" cy="245.7" r="1.3" fill="none" stroke="#c98a5e" stroke-width="0.6"/>
<circle cx="323.4" cy="245.1" r="1.3" fill="none" stroke="#c98a5e" stroke-width="0.6"/>
<circle cx="325.4" cy="242.7" r="1.3" fill="none" stroke="#c98a5e" stroke-width="0.6"/>
<circle cx="327.4" cy="243.9" r="1.3" fill="none" stroke="#c98a5e" stroke-width="0.6"/>
<circle cx="329.4" cy="243.8" r="1.3" fill="none" stroke="#c98a5e" stroke-width="0.6"/>
<circle cx="331.3" cy="243.5" r="1.3" fill="none" stroke="#c98a5e" stroke-width="0.6"/>
<circle cx="333.3" cy="243.9" r="1.3" fill="none" stroke="#c98a5e" stroke-width="0.6"/>
<circle cx="335.3" cy="244.6" r="1.3" fill="none" stroke="#c98a5e" stroke-width="0.6"/>
<circle cx="337.3" cy="241.9" r="1.3" fill="none" stroke="#c98a5e" stroke-width="0.6"/>
<circle cx="339.2" cy="247.4" r="1.3" fill="none" stroke="#c98a5e" stroke-width="0.6"/>
<circle cx="341.2" cy="246.3" r="1.3" fill="none" stroke="#c98a5e" stroke-width="0.6"/>
<circle cx="343.2" cy="245.3" r="1.3" fill="none" stroke="#c98a5e" stroke-width="0.6"/>
<circle cx="345.2" cy="244.1" r="1.3" fill="none" stroke="#c98a5e" stroke-width="0.6"/>
<circle cx="347.1" cy="244.5" r="1.3" fill="none" stroke="#c98a5e" stroke-width="0.6"/>
<circle cx="349.1" cy="246.7" r="1.3" fill="none" stroke="#c98a5e" stroke-width="0.6"/>
<circle cx="351.1" cy="246.5" r="1.3" fill="none" stroke="#c98a5e" stroke-width="0.6"/>
<circle cx="353.1" cy="243.1" r="1.3" fill="none" stroke="#c98a5e" stroke-width="0.6"/>
<circle cx="355.0" cy="243.5" r="1.3" fill="none" stroke="#c98a5e" stroke-width="0.6"/>
<circle cx="357.0" cy="245.4" r="1.3" fill="none" stroke="#c98a5e" stroke-width="0.6"/>
<circle cx="334.8" cy="249.1" r="1.3" fill="none" stroke="#c98a5e" stroke-width="0.6"/>
<circle cx="356.8" cy="261.4" r="1.3" fill="none" stroke="#c98a5e" stroke-width="0.6"/>
<circle cx="328.3" cy="240.7" r="1.3" fill="none" stroke="#c98a5e" stroke-width="0.6"/>
<circle cx="330.9" cy="241.3" r="1.3" fill="none" stroke="#c98a5e" stroke-width="0.6"/>
<circle cx="319.4" cy="236.0" r="1.4" fill="#1f86c4"/>
<circle cx="321.3" cy="236.4" r="1.4" fill="#1f86c4"/>
<circle cx="323.2" cy="236.4" r="1.4" fill="#1f86c4"/>
<circle cx="325.1" cy="237.6" r="1.4" fill="#1f86c4"/>
<circle cx="327.0" cy="236.9" r="1.4" fill="#1f86c4"/>
<circle cx="328.8" cy="236.6" r="1.4" fill="#1f86c4"/>
<circle cx="330.7" cy="237.3" r="1.4" fill="#1f86c4"/>
<circle cx="332.6" cy="239.0" r="1.4" fill="#1f86c4"/>
<circle cx="334.5" cy="238.1" r="1.4" fill="#1f86c4"/>
<circle cx="336.4" cy="239.3" r="1.4" fill="#1f86c4"/>
<circle cx="338.2" cy="239.1" r="1.4" fill="#1f86c4"/>
<circle cx="340.1" cy="238.9" r="1.4" fill="#1f86c4"/>
<circle cx="342.0" cy="239.5" r="1.4" fill="#1f86c4"/>
<circle cx="343.9" cy="240.3" r="1.4" fill="#1f86c4"/>
<circle cx="345.8" cy="240.3" r="1.4" fill="#1f86c4"/>
<circle cx="347.7" cy="240.4" r="1.4" fill="#1f86c4"/>
<circle cx="349.5" cy="241.8" r="1.4" fill="#1f86c4"/>
<circle cx="351.4" cy="241.9" r="1.4" fill="#1f86c4"/>
<circle cx="353.3" cy="241.9" r="1.4" fill="#1f86c4"/>
<circle cx="355.2" cy="242.3" r="1.4" fill="#1f86c4"/>
<circle cx="357.1" cy="243.4" r="1.4" fill="#1f86c4"/>
<circle cx="323.1" cy="237.8" r="1.4" fill="#1f86c4"/>
<circle cx="327.0" cy="239.5" r="1.4" fill="#1f86c4"/>
<circle cx="333.9" cy="240.2" r="1.4" fill="#1f86c4"/>
<circle cx="343.0" cy="240.8" r="1.4" fill="#1f86c4"/>
<circle cx="349.1" cy="242.5" r="1.4" fill="#1f86c4"/>
<circle cx="356.3" cy="243.7" r="1.4" fill="#1f86c4"/>
<circle cx="356.1" cy="254.4" r="1.4" fill="#1f86c4"/>
<circle cx="357.9" cy="255.3" r="1.4" fill="#1f86c4"/>
<circle cx="361.7" cy="254.7" r="1.4" fill="#1f86c4"/>
<circle cx="363.8" cy="254.2" r="1.4" fill="#1f86c4"/>
<circle cx="367.0" cy="254.3" r="1.4" fill="#1f86c4"/>
<circle cx="368.7" cy="254.8" r="1.4" fill="#1f86c4"/>
<circle cx="372.3" cy="255.2" r="1.4" fill="#1f86c4"/>
<circle cx="372.8" cy="255.7" r="1.4" fill="#1f86c4"/>
<circle cx="376.8" cy="257.0" r="1.4" fill="#1f86c4"/>
<circle cx="379.5" cy="256.2" r="1.4" fill="#1f86c4"/>
<circle cx="381.2" cy="255.7" r="1.4" fill="#1f86c4"/>
<circle cx="382.7" cy="256.7" r="1.4" fill="#1f86c4"/>
<circle cx="386.5" cy="254.6" r="1.4" fill="#1f86c4"/>
<circle cx="389.3" cy="256.6" r="1.4" fill="#1f86c4"/>
<circle cx="390.4" cy="257.6" r="1.4" fill="#1f86c4"/>
<circle cx="393.0" cy="256.1" r="1.4" fill="#1f86c4"/>
<circle cx="396.2" cy="257.1" r="1.4" fill="#1f86c4"/>
<circle cx="398.7" cy="255.8" r="1.4" fill="#1f86c4"/>
<circle cx="402.1" cy="255.8" r="1.4" fill="#1f86c4"/>
<circle cx="404.6" cy="255.7" r="1.4" fill="#1f86c4"/>
<circle cx="407.1" cy="254.1" r="1.4" fill="#1f86c4"/>
<circle cx="407.6" cy="256.8" r="1.4" fill="#1f86c4"/>
<circle cx="412.3" cy="255.5" r="1.4" fill="#1f86c4"/>
<circle cx="413.2" cy="254.6" r="1.4" fill="#1f86c4"/>
<circle cx="415.4" cy="256.8" r="1.4" fill="#1f86c4"/>
<circle cx="417.6" cy="253.4" r="1.4" fill="#1f86c4"/>
<circle cx="421.7" cy="256.0" r="1.4" fill="#1f86c4"/>
<circle cx="422.8" cy="255.0" r="1.4" fill="#1f86c4"/>
<circle cx="426.7" cy="257.4" r="1.4" fill="#1f86c4"/>
<circle cx="429.6" cy="255.4" r="1.4" fill="#1f86c4"/>
<circle cx="320.1" cy="252.2" r="1.4" fill="#1f86c4"/>
<circle cx="325.5" cy="251.7" r="1.4" fill="#1f86c4"/>
<circle cx="327.8" cy="250.8" r="1.4" fill="#1f86c4"/>
<circle cx="331.2" cy="250.6" r="1.4" fill="#1f86c4"/>
<circle cx="337.5" cy="252.6" r="1.4" fill="#1f86c4"/>
<path d="M318.0 199.0V306.3H523.0" fill="none" stroke="#4a4a4a" stroke-width="1.2"/>
<line x1="315.4" y1="199.0" x2="318.0" y2="199.0" stroke="#4a4a4a" stroke-width="1"/>
<text x="310.6" y="202.0" text-anchor="end" font-size="7.4" font-weight="bold">1.0</text>
<line x1="315.4" y1="225.8" x2="318.0" y2="225.8" stroke="#4a4a4a" stroke-width="1"/>
<text x="310.6" y="228.8" text-anchor="end" font-size="7.4" font-weight="bold">0.5</text>
<line x1="315.4" y1="252.7" x2="318.0" y2="252.7" stroke="#4a4a4a" stroke-width="1"/>
<text x="310.6" y="255.7" text-anchor="end" font-size="7.4" font-weight="bold">0.0</text>
<line x1="315.4" y1="279.5" x2="318.0" y2="279.5" stroke="#4a4a4a" stroke-width="1"/>
<text x="310.6" y="282.5" text-anchor="end" font-size="7.4" font-weight="bold">-0.5</text>
<line x1="315.4" y1="306.3" x2="318.0" y2="306.3" stroke="#4a4a4a" stroke-width="1"/>
<text x="310.6" y="309.3" text-anchor="end" font-size="7.4" font-weight="bold">-1.0</text>
<line x1="318.0" y1="306.3" x2="318.0" y2="309.3" stroke="#4a4a4a" stroke-width="1"/>
<text x="318.0" y="319.8" text-anchor="middle" font-size="7.4" font-weight="bold">0</text>
<line x1="336.6" y1="306.3" x2="336.6" y2="309.3" stroke="#4a4a4a" stroke-width="1"/>
<text x="336.6" y="319.8" text-anchor="middle" font-size="7.4" font-weight="bold">10</text>
<line x1="355.3" y1="306.3" x2="355.3" y2="309.3" stroke="#4a4a4a" stroke-width="1"/>
<text x="355.3" y="319.8" text-anchor="middle" font-size="7.4" font-weight="bold">20</text>
<line x1="373.9" y1="306.3" x2="373.9" y2="309.3" stroke="#4a4a4a" stroke-width="1"/>
<text x="373.9" y="319.8" text-anchor="middle" font-size="7.4" font-weight="bold">30</text>
<line x1="392.5" y1="306.3" x2="392.5" y2="309.3" stroke="#4a4a4a" stroke-width="1"/>
<text x="392.5" y="319.8" text-anchor="middle" font-size="7.4" font-weight="bold">40</text>
<line x1="411.2" y1="306.3" x2="411.2" y2="309.3" stroke="#4a4a4a" stroke-width="1"/>
<text x="411.2" y="319.8" text-anchor="middle" font-size="7.4" font-weight="bold">50</text>
<line x1="429.8" y1="306.3" x2="429.8" y2="309.3" stroke="#4a4a4a" stroke-width="1"/>
<text x="429.8" y="319.8" text-anchor="middle" font-size="7.4" font-weight="bold">60</text>
<line x1="448.5" y1="306.3" x2="448.5" y2="309.3" stroke="#4a4a4a" stroke-width="1"/>
<text x="448.5" y="319.8" text-anchor="middle" font-size="7.4" font-weight="bold">70</text>
<line x1="467.1" y1="306.3" x2="467.1" y2="309.3" stroke="#4a4a4a" stroke-width="1"/>
<text x="467.1" y="319.8" text-anchor="middle" font-size="7.4" font-weight="bold">80</text>
<line x1="485.7" y1="306.3" x2="485.7" y2="309.3" stroke="#4a4a4a" stroke-width="1"/>
<text x="485.7" y="319.8" text-anchor="middle" font-size="7.4" font-weight="bold">90</text>
<line x1="504.4" y1="306.3" x2="504.4" y2="309.3" stroke="#4a4a4a" stroke-width="1"/>
<text x="504.4" y="319.8" text-anchor="middle" font-size="7.4" font-weight="bold">100</text>
<line x1="523.0" y1="306.3" x2="523.0" y2="309.3" stroke="#4a4a4a" stroke-width="1"/>
<text x="523.0" y="319.8" text-anchor="middle" font-size="7.4" font-weight="bold">110</text>
<rect x="320.2" y="194.5" width="130.0" height="16.7" fill="#fff" stroke="#444" stroke-width="1"/>
<circle cx="326.0" cy="199.0" r="1.3" fill="#3a2a20"/>
<text x="330.7" y="201.3" font-size="6.65" font-weight="bold">Beam 1</text>
<circle cx="358.4" cy="199.0" r="1.3" fill="#a6a6a6"/>
<text x="363.1" y="201.3" font-size="6.65" font-weight="bold">Beam 2</text>
<circle cx="391.0" cy="199.0" r="1.3" fill="#ffc000"/>
<text x="395.7" y="201.3" font-size="6.65" font-weight="bold">Beam 3</text>
<circle cx="423.6" cy="199.0" r="1.2" fill="none" stroke="#6a8ed8" stroke-width="0.6"/>
<text x="428.3" y="201.3" font-size="6.65" font-weight="bold">Beam 4</text>
<circle cx="326.0" cy="207.2" r="1.3" fill="#5cad34"/>
<text x="330.7" y="209.5" font-size="6.65" font-weight="bold">Beam 5</text>
<path d="M358.4 205.8L359.8 208.3L357.0 208.3Z" fill="#ff3c3c" fill-opacity="0.85"/>
<text x="363.1" y="209.5" font-size="6.65" font-weight="bold">Beam 6</text>
<circle cx="391.0" cy="207.2" r="1.2" fill="none" stroke="#c98a5e" stroke-width="0.6"/>
<text x="395.7" y="209.5" font-size="6.65" font-weight="bold">Beam 7</text>
<circle cx="423.6" cy="207.2" r="1.3" fill="#1f86c4"/>
<text x="428.3" y="209.5" font-size="6.65" font-weight="bold">Beam 8</text>
<text transform="translate(297.2,270.8) rotate(-90)" text-anchor="middle" font-size="7.95" font-weight="bold">GEDI - <tspan font-style="italic">in-situ</tspan> elevations (m)</text>
<text x="426.4" y="330.4" text-anchor="middle" font-size="7.87" font-weight="bold">GEDI shot number</text>
<text x="409.2" y="357.7" text-anchor="middle" font-size="12.4" letter-spacing="0.5" stroke="#222" stroke-width="0.2">(f)</text>
<line x1="42.0" y1="433.6" x2="239.6" y2="433.6" stroke="#c8c8c8" stroke-width="1"/>
<circle cx="45.6" cy="436.7" r="1.4" fill="#3a2a20"/>
<circle cx="49.5" cy="440.3" r="1.4" fill="#3a2a20"/>
<circle cx="53.5" cy="439.6" r="1.4" fill="#3a2a20"/>
<circle cx="57.4" cy="461.9" r="1.4" fill="#3a2a20"/>
<circle cx="61.4" cy="451.3" r="1.4" fill="#3a2a20"/>
<circle cx="65.4" cy="436.1" r="1.4" fill="#3a2a20"/>
<circle cx="69.3" cy="458.6" r="1.4" fill="#3a2a20"/>
<circle cx="73.3" cy="457.4" r="1.4" fill="#3a2a20"/>
<circle cx="77.2" cy="456.1" r="1.4" fill="#3a2a20"/>
<circle cx="81.2" cy="436.1" r="1.4" fill="#3a2a20"/>
<circle cx="85.2" cy="459.4" r="1.4" fill="#3a2a20"/>
<circle cx="89.1" cy="455.5" r="1.4" fill="#3a2a20"/>
<circle cx="93.1" cy="458.1" r="1.4" fill="#3a2a20"/>
<circle cx="101.0" cy="451.7" r="1.4" fill="#3a2a20"/>
<circle cx="105.0" cy="445.5" r="1.4" fill="#3a2a20"/>
<circle cx="108.9" cy="445.5" r="1.4" fill="#3a2a20"/>
<circle cx="45.6" cy="450.9" r="1.4" fill="#a6a6a6"/>
<circle cx="49.5" cy="432.5" r="1.4" fill="#a6a6a6"/>
<circle cx="53.5" cy="437.7" r="1.4" fill="#a6a6a6"/>
<circle cx="57.4" cy="436.7" r="1.4" fill="#a6a6a6"/>
<circle cx="85.2" cy="449.3" r="1.4" fill="#a6a6a6"/>
<circle cx="97.0" cy="457.1" r="1.4" fill="#a6a6a6"/>
<circle cx="45.6" cy="456.8" r="1.4" fill="#ffc000"/>
<circle cx="49.5" cy="450.6" r="1.4" fill="#ffc000"/>
<circle cx="53.5" cy="448.0" r="1.4" fill="#ffc000"/>
<circle cx="57.4" cy="445.7" r="1.4" fill="#ffc000"/>
<circle cx="61.4" cy="450.0" r="1.4" fill="#ffc000"/>
<circle cx="65.4" cy="441.6" r="1.4" fill="#ffc000"/>
<circle cx="69.3" cy="451.3" r="1.4" fill="#ffc000"/>
<circle cx="73.3" cy="451.7" r="1.4" fill="#ffc000"/>
<circle cx="77.2" cy="441.6" r="1.4" fill="#ffc000"/>
<circle cx="81.2" cy="454.1" r="1.4" fill="#ffc000"/>
<circle cx="85.2" cy="450.0" r="1.4" fill="#ffc000"/>
<circle cx="89.1" cy="451.9" r="1.4" fill="#ffc000"/>
<circle cx="93.1" cy="442.6" r="1.4" fill="#ffc000"/>
<circle cx="97.0" cy="458.4" r="1.4" fill="#ffc000"/>
<circle cx="101.0" cy="441.6" r="1.4" fill="#ffc000"/>
<rect x="44.3" y="441.6" width="2.5" height="2.5" fill="none" stroke="#6a8ed8" stroke-width="0.6"/>
<rect x="48.3" y="437.1" width="2.5" height="2.5" fill="none" stroke="#6a8ed8" stroke-width="0.6"/>
<rect x="52.2" y="461.7" width="2.5" height="2.5" fill="none" stroke="#6a8ed8" stroke-width="0.6"/>
<rect x="56.2" y="424.8" width="2.5" height="2.5" fill="none" stroke="#6a8ed8" stroke-width="0.6"/>
<rect x="60.2" y="440.1" width="2.5" height="2.5" fill="none" stroke="#6a8ed8" stroke-width="0.6"/>
<rect x="64.1" y="442.7" width="2.5" height="2.5" fill="none" stroke="#6a8ed8" stroke-width="0.6"/>
<rect x="68.1" y="441.4" width="2.5" height="2.5" fill="none" stroke="#6a8ed8" stroke-width="0.6"/>
<rect x="72.0" y="436.2" width="2.5" height="2.5" fill="none" stroke="#6a8ed8" stroke-width="0.6"/>
<rect x="76.0" y="433.2" width="2.5" height="2.5" fill="none" stroke="#6a8ed8" stroke-width="0.6"/>
<rect x="80.0" y="445.5" width="2.5" height="2.5" fill="none" stroke="#6a8ed8" stroke-width="0.6"/>
<rect x="83.9" y="449.6" width="2.5" height="2.5" fill="none" stroke="#6a8ed8" stroke-width="0.6"/>
<rect x="87.9" y="445.5" width="2.5" height="2.5" fill="none" stroke="#6a8ed8" stroke-width="0.6"/>
<rect x="91.8" y="446.1" width="2.5" height="2.5" fill="none" stroke="#6a8ed8" stroke-width="0.6"/>
<rect x="95.8" y="445.2" width="2.5" height="2.5" fill="none" stroke="#6a8ed8" stroke-width="0.6"/>
<rect x="99.8" y="445.2" width="2.5" height="2.5" fill="none" stroke="#6a8ed8" stroke-width="0.6"/>
<rect x="103.7" y="446.1" width="2.5" height="2.5" fill="none" stroke="#6a8ed8" stroke-width="0.6"/>
<rect x="107.7" y="446.8" width="2.5" height="2.5" fill="none" stroke="#6a8ed8" stroke-width="0.6"/>
<rect x="111.6" y="447.4" width="2.5" height="2.5" fill="none" stroke="#6a8ed8" stroke-width="0.6"/>
<rect x="119.6" y="427.6" width="2.5" height="2.5" fill="none" stroke="#6a8ed8" stroke-width="0.6"/>
<rect x="123.5" y="424.8" width="2.5" height="2.5" fill="none" stroke="#6a8ed8" stroke-width="0.6"/>
<rect x="115.6" y="454.6" width="2.5" height="2.5" fill="none" stroke="#6a8ed8" stroke-width="0.6"/>
<circle cx="45.6" cy="433.6" r="1.4" fill="#5cad34"/>
<circle cx="49.5" cy="422.8" r="1.4" fill="#5cad34"/>
<circle cx="53.5" cy="423.7" r="1.4" fill="#5cad34"/>
<circle cx="57.4" cy="423.7" r="1.4" fill="#5cad34"/>
<circle cx="61.4" cy="422.2" r="1.4" fill="#5cad34"/>
<circle cx="65.4" cy="433.6" r="1.4" fill="#5cad34"/>
<circle cx="69.3" cy="424.1" r="1.4" fill="#5cad34"/>
<circle cx="73.3" cy="426.3" r="1.4" fill="#5cad34"/>
<circle cx="77.2" cy="425.8" r="1.4" fill="#5cad34"/>
<circle cx="81.2" cy="433.6" r="1.4" fill="#5cad34"/>
<circle cx="85.2" cy="426.7" r="1.4" fill="#5cad34"/>
<circle cx="89.1" cy="426.7" r="1.4" fill="#5cad34"/>
<circle cx="93.1" cy="429.7" r="1.4" fill="#5cad34"/>
<circle cx="97.0" cy="429.7" r="1.4" fill="#5cad34"/>
<circle cx="101.0" cy="429.3" r="1.4" fill="#5cad34"/>
<circle cx="105.0" cy="426.7" r="1.4" fill="#5cad34"/>
<circle cx="108.9" cy="427.1" r="1.4" fill="#5cad34"/>
<circle cx="112.9" cy="422.2" r="1.4" fill="#5cad34"/>
<circle cx="116.8" cy="426.3" r="1.4" fill="#5cad34"/>
<circle cx="120.8" cy="426.7" r="1.4" fill="#5cad34"/>
<circle cx="124.8" cy="421.5" r="1.4" fill="#5cad34"/>
<circle cx="128.7" cy="422.8" r="1.4" fill="#5cad34"/>
<circle cx="132.7" cy="427.1" r="1.4" fill="#5cad34"/>
<circle cx="136.6" cy="427.6" r="1.4" fill="#5cad34"/>
<circle cx="140.6" cy="424.8" r="1.4" fill="#5cad34"/>
<circle cx="144.6" cy="422.2" r="1.4" fill="#5cad34"/>
<circle cx="148.5" cy="423.7" r="1.4" fill="#5cad34"/>
<circle cx="152.5" cy="427.6" r="1.4" fill="#5cad34"/>
<circle cx="156.4" cy="425.8" r="1.4" fill="#5cad34"/>
<circle cx="160.4" cy="425.5" r="1.4" fill="#5cad34"/>
<circle cx="164.4" cy="423.2" r="1.4" fill="#5cad34"/>
<circle cx="168.3" cy="426.3" r="1.4" fill="#5cad34"/>
<circle cx="172.3" cy="425.5" r="1.4" fill="#5cad34"/>
<circle cx="176.2" cy="428.9" r="1.4" fill="#5cad34"/>
<circle cx="180.2" cy="422.2" r="1.4" fill="#5cad34"/>
<circle cx="184.2" cy="426.0" r="1.4" fill="#5cad34"/>
<circle cx="188.1" cy="427.3" r="1.4" fill="#5cad34"/>
<circle cx="192.1" cy="423.7" r="1.4" fill="#5cad34"/>
<circle cx="196.0" cy="421.9" r="1.4" fill="#5cad34"/>
<circle cx="200.0" cy="425.8" r="1.4" fill="#5cad34"/>
<circle cx="204.0" cy="422.8" r="1.4" fill="#5cad34"/>
<circle cx="207.9" cy="423.5" r="1.4" fill="#5cad34"/>
<circle cx="211.9" cy="420.9" r="1.4" fill="#5cad34"/>
<circle cx="215.8" cy="424.5" r="1.4" fill="#5cad34"/>
<circle cx="219.8" cy="423.5" r="1.4" fill="#5cad34"/>
<circle cx="223.8" cy="425.8" r="1.4" fill="#5cad34"/>
<path d="M45.6 414.2L47.0 416.9L44.1 416.9Z" fill="#ff3c3c" fill-opacity="0.85"/>
<path d="M49.5 416.8L51.0 419.4L48.1 419.4Z" fill="#ff3c3c" fill-opacity="0.85"/>
<path d="M53.5 416.8L54.9 419.4L52.0 419.4Z" fill="#ff3c3c" fill-opacity="0.85"/>
<path d="M57.4 419.2L58.9 421.8L56.0 421.8Z" fill="#ff3c3c" fill-opacity="0.85"/>
<path d="M61.4 413.0L62.9 415.6L60.0 415.6Z" fill="#ff3c3c" fill-opacity="0.85"/>
<path d="M65.4 414.9L66.8 417.5L63.9 417.5Z" fill="#ff3c3c" fill-opacity="0.85"/>
<path d="M69.3 415.8L70.8 418.4L67.9 418.4Z" fill="#ff3c3c" fill-opacity="0.85"/>
<path d="M73.3 417.5L74.7 420.1L71.8 420.1Z" fill="#ff3c3c" fill-opacity="0.85"/>
<path d="M77.2 415.5L78.7 418.2L75.8 418.2Z" fill="#ff3c3c" fill-opacity="0.85"/>
<path d="M81.2 415.8L82.7 418.4L79.8 418.4Z" fill="#ff3c3c" fill-opacity="0.85"/>
<path d="M85.2 411.7L86.6 414.3L83.7 414.3Z" fill="#ff3c3c" fill-opacity="0.85"/>
<path d="M89.1 417.1L90.6 419.7L87.7 419.7Z" fill="#ff3c3c" fill-opacity="0.85"/>
<path d="M93.1 417.9L94.5 420.5L91.6 420.5Z" fill="#ff3c3c" fill-opacity="0.85"/>
<path d="M97.0 415.3L98.5 417.9L95.6 417.9Z" fill="#ff3c3c" fill-opacity="0.85"/>
<path d="M101.0 415.9L102.5 418.5L99.5 418.5Z" fill="#ff3c3c" fill-opacity="0.85"/>
<path d="M105.0 416.2L106.4 418.8L103.5 418.8Z" fill="#ff3c3c" fill-opacity="0.85"/>
<path d="M108.9 416.6L110.4 419.2L107.5 419.2Z" fill="#ff3c3c" fill-opacity="0.85"/>
<path d="M112.9 416.6L114.3 419.2L111.4 419.2Z" fill="#ff3c3c" fill-opacity="0.85"/>
<path d="M116.8 420.1L118.3 422.7L115.4 422.7Z" fill="#ff3c3c" fill-opacity="0.85"/>
<path d="M120.8 418.4L122.3 421.0L119.4 421.0Z" fill="#ff3c3c" fill-opacity="0.85"/>
<path d="M124.8 416.8L126.2 419.4L123.3 419.4Z" fill="#ff3c3c" fill-opacity="0.85"/>
<path d="M128.7 414.2L130.2 416.9L127.3 416.9Z" fill="#ff3c3c" fill-opacity="0.85"/>
<path d="M132.7 414.9L134.1 417.5L131.2 417.5Z" fill="#ff3c3c" fill-opacity="0.85"/>
<path d="M136.6 417.1L138.1 419.7L135.2 419.7Z" fill="#ff3c3c" fill-opacity="0.85"/>
<path d="M140.6 413.0L142.0 415.6L139.2 415.6Z" fill="#ff3c3c" fill-opacity="0.85"/>
<path d="M144.6 418.4L146.0 421.0L143.1 421.0Z" fill="#ff3c3c" fill-opacity="0.85"/>
<path d="M148.5 415.3L150.0 417.9L147.1 417.9Z" fill="#ff3c3c" fill-opacity="0.85"/>
<path d="M152.5 415.8L153.9 418.4L151.0 418.4Z" fill="#ff3c3c" fill-opacity="0.85"/>
<path d="M156.4 416.2L157.9 418.8L155.0 418.8Z" fill="#ff3c3c" fill-opacity="0.85"/>
<path d="M160.4 415.8L161.8 418.4L159.0 418.4Z" fill="#ff3c3c" fill-opacity="0.85"/>
<path d="M164.4 413.2L165.8 415.8L162.9 415.8Z" fill="#ff3c3c" fill-opacity="0.85"/>
<path d="M168.3 411.4L169.8 414.0L166.9 414.0Z" fill="#ff3c3c" fill-opacity="0.85"/>
<path d="M172.3 414.9L173.7 417.5L170.8 417.5Z" fill="#ff3c3c" fill-opacity="0.85"/>
<path d="M176.2 414.9L177.7 417.5L174.8 417.5Z" fill="#ff3c3c" fill-opacity="0.85"/>
<path d="M180.2 419.4L181.6 422.0L178.8 422.0Z" fill="#ff3c3c" fill-opacity="0.85"/>
<circle cx="45.6" cy="438.3" r="1.3" fill="none" stroke="#c98a5e" stroke-width="0.6"/>
<circle cx="57.4" cy="433.8" r="1.3" fill="none" stroke="#c98a5e" stroke-width="0.6"/>
<circle cx="61.4" cy="426.7" r="1.3" fill="none" stroke="#c98a5e" stroke-width="0.6"/>
<circle cx="69.3" cy="433.6" r="1.3" fill="none" stroke="#c98a5e" stroke-width="0.6"/>
<circle cx="85.2" cy="429.7" r="1.3" fill="none" stroke="#c98a5e" stroke-width="0.6"/>
<circle cx="89.1" cy="431.2" r="1.3" fill="none" stroke="#c98a5e" stroke-width="0.6"/>
<circle cx="93.1" cy="431.0" r="1.3" fill="none" stroke="#c98a5e" stroke-width="0.6"/>
<circle cx="97.0" cy="431.0" r="1.3" fill="none" stroke="#c98a5e" stroke-width="0.6"/>
<circle cx="101.0" cy="431.0" r="1.3" fill="none" stroke="#c98a5e" stroke-width="0.6"/>
<circle cx="105.0" cy="431.2" r="1.3" fill="none" stroke="#c98a5e" stroke-width="0.6"/>
<circle cx="108.9" cy="431.2" r="1.3" fill="none" stroke="#c98a5e" stroke-width="0.6"/>
<circle cx="112.9" cy="435.1" r="1.3" fill="none" stroke="#c98a5e" stroke-width="0.6"/>
<circle cx="124.8" cy="441.3" r="1.3" fill="none" stroke="#c98a5e" stroke-width="0.6"/>
<circle cx="128.7" cy="440.9" r="1.3" fill="none" stroke="#c98a5e" stroke-width="0.6"/>
<circle cx="132.7" cy="440.9" r="1.3" fill="none" stroke="#c98a5e" stroke-width="0.6"/>
<circle cx="136.6" cy="442.2" r="1.3" fill="none" stroke="#c98a5e" stroke-width="0.6"/>
<circle cx="140.6" cy="437.7" r="1.3" fill="none" stroke="#c98a5e" stroke-width="0.6"/>
<circle cx="144.6" cy="443.1" r="1.3" fill="none" stroke="#c98a5e" stroke-width="0.6"/>
<circle cx="148.5" cy="431.2" r="1.3" fill="none" stroke="#c98a5e" stroke-width="0.6"/>
<circle cx="152.5" cy="433.6" r="1.3" fill="none" stroke="#c98a5e" stroke-width="0.6"/>
<circle cx="156.4" cy="428.4" r="1.3" fill="none" stroke="#c98a5e" stroke-width="0.6"/>
<circle cx="160.4" cy="431.5" r="1.3" fill="none" stroke="#c98a5e" stroke-width="0.6"/>
<circle cx="164.4" cy="428.4" r="1.3" fill="none" stroke="#c98a5e" stroke-width="0.6"/>
<circle cx="168.3" cy="430.6" r="1.3" fill="none" stroke="#c98a5e" stroke-width="0.6"/>
<circle cx="120.8" cy="450.0" r="1.3" fill="none" stroke="#c98a5e" stroke-width="0.6"/>
<circle cx="172.3" cy="429.3" r="1.3" fill="none" stroke="#c98a5e" stroke-width="0.6"/>
<circle cx="176.2" cy="429.3" r="1.3" fill="none" stroke="#c98a5e" stroke-width="0.6"/>
<circle cx="180.2" cy="433.6" r="1.3" fill="none" stroke="#c98a5e" stroke-width="0.6"/>
<circle cx="184.2" cy="426.7" r="1.3" fill="none" stroke="#c98a5e" stroke-width="0.6"/>
<circle cx="188.1" cy="428.0" r="1.3" fill="none" stroke="#c98a5e" stroke-width="0.6"/>
<circle cx="45.6" cy="431.9" r="1.4" fill="#1f86c4"/>
<circle cx="49.5" cy="433.6" r="1.4" fill="#1f86c4"/>
<circle cx="53.5" cy="430.2" r="1.4" fill="#1f86c4"/>
<circle cx="57.4" cy="429.9" r="1.4" fill="#1f86c4"/>
<circle cx="61.4" cy="429.7" r="1.4" fill="#1f86c4"/>
<circle cx="65.4" cy="432.3" r="1.4" fill="#1f86c4"/>
<circle cx="69.3" cy="426.7" r="1.4" fill="#1f86c4"/>
<circle cx="73.3" cy="429.7" r="1.4" fill="#1f86c4"/>
<circle cx="77.2" cy="429.9" r="1.4" fill="#1f86c4"/>
<circle cx="81.2" cy="429.9" r="1.4" fill="#1f86c4"/>
<circle cx="85.2" cy="427.1" r="1.4" fill="#1f86c4"/>
<circle cx="89.1" cy="430.2" r="1.4" fill="#1f86c4"/>
<circle cx="93.1" cy="426.7" r="1.4" fill="#1f86c4"/>
<circle cx="97.0" cy="429.9" r="1.4" fill="#1f86c4"/>
<circle cx="101.0" cy="427.1" r="1.4" fill="#1f86c4"/>
<circle cx="105.0" cy="428.9" r="1.4" fill="#1f86c4"/>
<circle cx="108.9" cy="433.6" r="1.4" fill="#1f86c4"/>
<circle cx="112.9" cy="437.7" r="1.4" fill="#1f86c4"/>
<circle cx="116.8" cy="433.6" r="1.4" fill="#1f86c4"/>
<circle cx="120.8" cy="432.8" r="1.4" fill="#1f86c4"/>
<circle cx="124.8" cy="427.6" r="1.4" fill="#1f86c4"/>
<circle cx="128.7" cy="429.9" r="1.4" fill="#1f86c4"/>
<circle cx="132.7" cy="436.1" r="1.4" fill="#1f86c4"/>
<circle cx="136.6" cy="438.7" r="1.4" fill="#1f86c4"/>
<circle cx="140.6" cy="440.3" r="1.4" fill="#1f86c4"/>
<circle cx="144.6" cy="434.8" r="1.4" fill="#1f86c4"/>
<circle cx="148.5" cy="433.6" r="1.4" fill="#1f86c4"/>
<circle cx="152.5" cy="441.3" r="1.4" fill="#1f86c4"/>
<circle cx="156.4" cy="435.4" r="1.4" fill="#1f86c4"/>
<circle cx="160.4" cy="441.3" r="1.4" fill="#1f86c4"/>
<circle cx="164.4" cy="440.5" r="1.4" fill="#1f86c4"/>
<circle cx="168.3" cy="437.7" r="1.4" fill="#1f86c4"/>
<circle cx="172.3" cy="427.3" r="1.4" fill="#1f86c4"/>
<circle cx="176.2" cy="427.1" r="1.4" fill="#1f86c4"/>
<circle cx="180.2" cy="426.0" r="1.4" fill="#1f86c4"/>
<circle cx="184.2" cy="424.1" r="1.4" fill="#1f86c4"/>
<circle cx="188.1" cy="424.5" r="1.4" fill="#1f86c4"/>
<circle cx="192.1" cy="428.9" r="1.4" fill="#1f86c4"/>
<circle cx="196.0" cy="427.6" r="1.4" fill="#1f86c4"/>
<circle cx="200.0" cy="427.6" r="1.4" fill="#1f86c4"/>
<circle cx="204.0" cy="438.3" r="1.4" fill="#1f86c4"/>
<path d="M42.0 382.0V485.1H239.6" fill="none" stroke="#4a4a4a" stroke-width="1.2"/>
<line x1="39.4" y1="382.0" x2="42.0" y2="382.0" stroke="#4a4a4a" stroke-width="1"/>
<text x="35.5" y="385.0" text-anchor="end" font-size="7.4" font-weight="bold">1.0</text>
<line x1="39.4" y1="407.8" x2="42.0" y2="407.8" stroke="#4a4a4a" stroke-width="1"/>
<text x="35.5" y="410.8" text-anchor="end" font-size="7.4" font-weight="bold">0.5</text>
<line x1="39.4" y1="433.6" x2="42.0" y2="433.6" stroke="#4a4a4a" stroke-width="1"/>
<text x="35.5" y="436.6" text-anchor="end" font-size="7.4" font-weight="bold">0.0</text>
<line x1="39.4" y1="459.3" x2="42.0" y2="459.3" stroke="#4a4a4a" stroke-width="1"/>
<text x="35.5" y="462.3" text-anchor="end" font-size="7.4" font-weight="bold">-0.5</text>
<line x1="39.4" y1="485.1" x2="42.0" y2="485.1" stroke="#4a4a4a" stroke-width="1"/>
<text x="35.5" y="488.1" text-anchor="end" font-size="7.4" font-weight="bold">-1.0</text>
<line x1="42.0" y1="485.1" x2="42.0" y2="488.1" stroke="#4a4a4a" stroke-width="1"/>
<text x="42.0" y="497.8" text-anchor="middle" font-size="6.8" font-weight="normal">0</text>
<line x1="81.5" y1="485.1" x2="81.5" y2="488.1" stroke="#4a4a4a" stroke-width="1"/>
<text x="81.5" y="497.8" text-anchor="middle" font-size="6.8" font-weight="normal">10</text>
<line x1="121.0" y1="485.1" x2="121.0" y2="488.1" stroke="#4a4a4a" stroke-width="1"/>
<text x="121.0" y="497.8" text-anchor="middle" font-size="6.8" font-weight="normal">20</text>
<line x1="160.6" y1="485.1" x2="160.6" y2="488.1" stroke="#4a4a4a" stroke-width="1"/>
<text x="160.6" y="497.8" text-anchor="middle" font-size="6.8" font-weight="normal">30</text>
<line x1="200.1" y1="485.1" x2="200.1" y2="488.1" stroke="#4a4a4a" stroke-width="1"/>
<text x="200.1" y="497.8" text-anchor="middle" font-size="6.8" font-weight="normal">40</text>
<line x1="239.6" y1="485.1" x2="239.6" y2="488.1" stroke="#4a4a4a" stroke-width="1"/>
<text x="239.6" y="497.8" text-anchor="middle" font-size="6.8" font-weight="normal">50</text>
<rect x="43.6" y="378.0" width="125.6" height="16.2" fill="#fff" stroke="#444" stroke-width="1"/>
<circle cx="49.1" cy="382.1" r="1.3" fill="#3a2a20"/>
<text x="53.6" y="384.4" font-size="6.35" font-weight="bold">Beam 1</text>
<circle cx="80.2" cy="382.1" r="1.3" fill="#a6a6a6"/>
<text x="84.7" y="384.4" font-size="6.35" font-weight="bold">Beam 2</text>
<circle cx="112.1" cy="382.1" r="1.3" fill="#ffc000"/>
<text x="116.6" y="384.4" font-size="6.35" font-weight="bold">Beam 3</text>
<circle cx="142.9" cy="382.1" r="1.2" fill="none" stroke="#6a8ed8" stroke-width="0.6"/>
<text x="147.4" y="384.4" font-size="6.35" font-weight="bold">Beam 4</text>
<circle cx="49.1" cy="389.9" r="1.3" fill="#5cad34"/>
<text x="53.6" y="392.2" font-size="6.35" font-weight="bold">Beam 5</text>
<path d="M80.2 388.5L81.6 391.0L78.8 391.0Z" fill="#ff3c3c" fill-opacity="0.85"/>
<text x="84.7" y="392.2" font-size="6.35" font-weight="bold">Beam 6</text>
<circle cx="112.1" cy="389.9" r="1.2" fill="none" stroke="#c98a5e" stroke-width="0.6"/>
<text x="116.6" y="392.2" font-size="6.35" font-weight="bold">Beam 7</text>
<circle cx="142.9" cy="389.9" r="1.3" fill="#1f86c4"/>
<text x="147.4" y="392.2" font-size="6.35" font-weight="bold">Beam 8</text>
<text transform="translate(21.7,451.2) rotate(-90)" text-anchor="middle" font-size="7.61" font-weight="bold">GEDI - <tspan font-style="italic">in-situ</tspan> elevations (m)</text>
<text x="145.8" y="508.2" text-anchor="middle" font-size="7.6" font-weight="bold">GEDI shot number</text>
<text x="129.8" y="538.4" text-anchor="middle" font-size="12.4" letter-spacing="0.5" stroke="#222" stroke-width="0.2">(g)</text>
<line x1="315.6" y1="432.8" x2="525.6" y2="432.8" stroke="#c8c8c8" stroke-width="1"/>
<circle cx="318.0" cy="433.8" r="1.4" fill="#3a2a20"/>
<circle cx="320.1" cy="435.2" r="1.4" fill="#3a2a20"/>
<circle cx="320.6" cy="432.8" r="1.4" fill="#3a2a20"/>
<circle cx="324.5" cy="435.9" r="1.4" fill="#3a2a20"/>
<circle cx="324.9" cy="432.1" r="1.4" fill="#3a2a20"/>
<circle cx="329.0" cy="433.3" r="1.4" fill="#3a2a20"/>
<circle cx="331.0" cy="437.4" r="1.4" fill="#3a2a20"/>
<circle cx="332.0" cy="432.4" r="1.4" fill="#3a2a20"/>
<circle cx="334.3" cy="434.6" r="1.4" fill="#3a2a20"/>
<circle cx="336.3" cy="437.6" r="1.4" fill="#3a2a20"/>
<circle cx="339.5" cy="435.7" r="1.4" fill="#3a2a20"/>
<circle cx="341.3" cy="436.4" r="1.4" fill="#3a2a20"/>
<circle cx="343.6" cy="436.6" r="1.4" fill="#3a2a20"/>
<circle cx="345.3" cy="436.6" r="1.4" fill="#3a2a20"/>
<circle cx="347.2" cy="436.2" r="1.4" fill="#3a2a20"/>
<circle cx="350.6" cy="435.4" r="1.4" fill="#3a2a20"/>
<circle cx="352.9" cy="437.3" r="1.4" fill="#3a2a20"/>
<circle cx="353.0" cy="436.1" r="1.4" fill="#3a2a20"/>
<circle cx="356.3" cy="435.4" r="1.4" fill="#3a2a20"/>
<circle cx="358.8" cy="435.5" r="1.4" fill="#3a2a20"/>
<circle cx="359.6" cy="437.8" r="1.4" fill="#3a2a20"/>
<circle cx="363.6" cy="435.6" r="1.4" fill="#3a2a20"/>
<circle cx="365.3" cy="433.5" r="1.4" fill="#3a2a20"/>
<circle cx="367.3" cy="434.0" r="1.4" fill="#3a2a20"/>
<circle cx="369.3" cy="436.7" r="1.4" fill="#3a2a20"/>
<circle cx="372.1" cy="434.4" r="1.4" fill="#3a2a20"/>
<circle cx="372.7" cy="439.6" r="1.4" fill="#3a2a20"/>
<circle cx="375.0" cy="434.0" r="1.4" fill="#3a2a20"/>
<circle cx="377.3" cy="432.1" r="1.4" fill="#3a2a20"/>
<circle cx="380.3" cy="437.0" r="1.4" fill="#3a2a20"/>
<circle cx="382.7" cy="439.7" r="1.4" fill="#3a2a20"/>
<circle cx="383.9" cy="435.0" r="1.4" fill="#3a2a20"/>
<circle cx="386.4" cy="434.5" r="1.4" fill="#3a2a20"/>
<circle cx="389.7" cy="440.3" r="1.4" fill="#3a2a20"/>
<circle cx="391.2" cy="435.1" r="1.4" fill="#3a2a20"/>
<circle cx="316.3" cy="444.2" r="1.4" fill="#3a2a20"/>
<circle cx="332.5" cy="445.2" r="1.4" fill="#3a2a20"/>
<circle cx="348.6" cy="440.3" r="1.4" fill="#3a2a20"/>
<circle cx="341.5" cy="464.2" r="1.4" fill="#3a2a20"/>
<circle cx="349.9" cy="463.6" r="1.4" fill="#3a2a20"/>
<circle cx="324.8" cy="471.6" r="1.4" fill="#3a2a20"/>
<circle cx="349.4" cy="463.8" r="1.4" fill="#3a2a20"/>
<circle cx="361.6" cy="467.2" r="1.4" fill="#3a2a20"/>
<circle cx="332.6" cy="445.2" r="1.4" fill="#3a2a20"/>
<circle cx="384.8" cy="440.5" r="1.4" fill="#3a2a20"/>
<circle cx="386.3" cy="445.0" r="1.4" fill="#3a2a20"/>
<circle cx="388.5" cy="447.2" r="1.4" fill="#3a2a20"/>
<circle cx="395.9" cy="444.2" r="1.4" fill="#3a2a20"/>
<circle cx="398.1" cy="452.4" r="1.4" fill="#3a2a20"/>
<circle cx="390.7" cy="459.0" r="1.4" fill="#3a2a20"/>
<circle cx="393.7" cy="457.5" r="1.4" fill="#3a2a20"/>
<circle cx="407.0" cy="464.9" r="1.4" fill="#3a2a20"/>
<circle cx="408.4" cy="464.2" r="1.4" fill="#3a2a20"/>
<circle cx="404.0" cy="467.9" r="1.4" fill="#3a2a20"/>
<circle cx="387.7" cy="467.1" r="1.4" fill="#3a2a20"/>
<circle cx="414.4" cy="453.1" r="1.4" fill="#3a2a20"/>
<circle cx="417.3" cy="454.6" r="1.4" fill="#3a2a20"/>
<circle cx="418.8" cy="452.4" r="1.4" fill="#3a2a20"/>
<circle cx="387.2" cy="441.6" r="1.4" fill="#3a2a20"/>
<circle cx="390.7" cy="456.4" r="1.4" fill="#3a2a20"/>
<circle cx="393.8" cy="459.5" r="1.4" fill="#3a2a20"/>
<circle cx="397.6" cy="449.5" r="1.4" fill="#3a2a20"/>
<circle cx="400.6" cy="448.0" r="1.4" fill="#3a2a20"/>
<circle cx="407.4" cy="458.8" r="1.4" fill="#3a2a20"/>
<circle cx="410.6" cy="457.0" r="1.4" fill="#3a2a20"/>
<circle cx="414.6" cy="449.5" r="1.4" fill="#3a2a20"/>
<circle cx="330.8" cy="426.7" r="1.4" fill="#a6a6a6"/>
<circle cx="334.1" cy="428.2" r="1.4" fill="#a6a6a6"/>
<circle cx="334.9" cy="427.7" r="1.4" fill="#a6a6a6"/>
<circle cx="337.8" cy="426.8" r="1.4" fill="#a6a6a6"/>
<circle cx="340.1" cy="429.6" r="1.4" fill="#a6a6a6"/>
<circle cx="342.6" cy="429.2" r="1.4" fill="#a6a6a6"/>
<circle cx="344.7" cy="428.4" r="1.4" fill="#a6a6a6"/>
<circle cx="347.7" cy="427.8" r="1.4" fill="#a6a6a6"/>
<circle cx="351.6" cy="426.8" r="1.4" fill="#a6a6a6"/>
<circle cx="353.6" cy="429.6" r="1.4" fill="#a6a6a6"/>
<circle cx="355.0" cy="428.3" r="1.4" fill="#a6a6a6"/>
<circle cx="358.4" cy="430.5" r="1.4" fill="#a6a6a6"/>
<circle cx="360.2" cy="430.5" r="1.4" fill="#a6a6a6"/>
<circle cx="362.8" cy="425.7" r="1.4" fill="#a6a6a6"/>
<circle cx="365.9" cy="425.3" r="1.4" fill="#a6a6a6"/>
<circle cx="366.1" cy="428.3" r="1.4" fill="#a6a6a6"/>
<circle cx="368.7" cy="427.6" r="1.4" fill="#a6a6a6"/>
<circle cx="371.9" cy="423.7" r="1.4" fill="#a6a6a6"/>
<circle cx="375.4" cy="430.0" r="1.4" fill="#a6a6a6"/>
<circle cx="377.6" cy="429.7" r="1.4" fill="#a6a6a6"/>
<circle cx="380.3" cy="428.5" r="1.4" fill="#a6a6a6"/>
<circle cx="382.7" cy="425.9" r="1.4" fill="#a6a6a6"/>
<circle cx="384.6" cy="424.9" r="1.4" fill="#a6a6a6"/>
<circle cx="386.8" cy="428.3" r="1.4" fill="#a6a6a6"/>
<circle cx="388.3" cy="429.0" r="1.4" fill="#a6a6a6"/>
<circle cx="390.4" cy="427.0" r="1.4" fill="#a6a6a6"/>
<circle cx="393.2" cy="426.1" r="1.4" fill="#a6a6a6"/>
<circle cx="395.2" cy="432.3" r="1.4" fill="#a6a6a6"/>
<circle cx="399.2" cy="427.6" r="1.4" fill="#a6a6a6"/>
<circle cx="401.6" cy="427.5" r="1.4" fill="#a6a6a6"/>
<circle cx="316.9" cy="459.0" r="1.4" fill="#a6a6a6"/>
<circle cx="329.2" cy="461.0" r="1.4" fill="#a6a6a6"/>
<circle cx="353.8" cy="459.4" r="1.4" fill="#a6a6a6"/>
<circle cx="365.5" cy="461.6" r="1.4" fill="#a6a6a6"/>
<circle cx="378.4" cy="459.0" r="1.4" fill="#a6a6a6"/>
<circle cx="329.2" cy="460.7" r="1.4" fill="#a6a6a6"/>
<circle cx="342.2" cy="464.6" r="1.4" fill="#a6a6a6"/>
<circle cx="353.3" cy="459.4" r="1.4" fill="#a6a6a6"/>
<circle cx="365.5" cy="462.0" r="1.4" fill="#a6a6a6"/>
<circle cx="366.8" cy="465.9" r="1.4" fill="#a6a6a6"/>
<circle cx="378.4" cy="458.6" r="1.4" fill="#a6a6a6"/>
<circle cx="315.0" cy="459.4" r="1.4" fill="#a6a6a6"/>
<circle cx="410.8" cy="479.3" r="1.4" fill="#a6a6a6"/>
<circle cx="383.9" cy="422.8" r="1.4" fill="#a6a6a6"/>
<circle cx="387.8" cy="424.1" r="1.4" fill="#a6a6a6"/>
<circle cx="390.3" cy="426.0" r="1.4" fill="#a6a6a6"/>
<circle cx="382.6" cy="428.0" r="1.4" fill="#a6a6a6"/>
<circle cx="414.9" cy="433.2" r="1.4" fill="#a6a6a6"/>
<circle cx="417.5" cy="439.0" r="1.4" fill="#a6a6a6"/>
<circle cx="405.9" cy="442.9" r="1.4" fill="#a6a6a6"/>
<circle cx="411.0" cy="444.2" r="1.4" fill="#a6a6a6"/>
<circle cx="407.2" cy="446.1" r="1.4" fill="#a6a6a6"/>
<circle cx="378.1" cy="459.0" r="1.4" fill="#a6a6a6"/>
<circle cx="396.6" cy="443.5" r="1.4" fill="#a6a6a6"/>
<circle cx="400.3" cy="448.7" r="1.4" fill="#a6a6a6"/>
<circle cx="404.8" cy="446.4" r="1.4" fill="#a6a6a6"/>
<circle cx="418.1" cy="439.0" r="1.4" fill="#a6a6a6"/>
<circle cx="411.4" cy="479.0" r="1.4" fill="#a6a6a6"/>
<circle cx="398.1" cy="464.9" r="1.4" fill="#a6a6a6"/>
<circle cx="392.2" cy="457.5" r="1.4" fill="#a6a6a6"/>
<circle cx="317.3" cy="435.5" r="1.4" fill="#ffc000"/>
<circle cx="318.6" cy="438.4" r="1.4" fill="#ffc000"/>
<circle cx="318.8" cy="437.5" r="1.4" fill="#ffc000"/>
<circle cx="320.7" cy="436.8" r="1.4" fill="#ffc000"/>
<circle cx="321.9" cy="437.2" r="1.4" fill="#ffc000"/>
<circle cx="324.0" cy="435.8" r="1.4" fill="#ffc000"/>
<circle cx="325.4" cy="436.1" r="1.4" fill="#ffc000"/>
<circle cx="326.0" cy="438.5" r="1.4" fill="#ffc000"/>
<circle cx="328.3" cy="436.4" r="1.4" fill="#ffc000"/>
<circle cx="328.7" cy="438.1" r="1.4" fill="#ffc000"/>
<circle cx="329.8" cy="435.5" r="1.4" fill="#ffc000"/>
<circle cx="331.8" cy="434.7" r="1.4" fill="#ffc000"/>
<circle cx="333.7" cy="435.1" r="1.4" fill="#ffc000"/>
<circle cx="335.1" cy="438.6" r="1.4" fill="#ffc000"/>
<circle cx="335.5" cy="434.9" r="1.4" fill="#ffc000"/>
<circle cx="337.9" cy="436.4" r="1.4" fill="#ffc000"/>
<circle cx="339.2" cy="433.5" r="1.4" fill="#ffc000"/>
<circle cx="339.8" cy="435.8" r="1.4" fill="#ffc000"/>
<circle cx="341.1" cy="436.4" r="1.4" fill="#ffc000"/>
<circle cx="342.9" cy="437.0" r="1.4" fill="#ffc000"/>
<circle cx="343.8" cy="440.7" r="1.4" fill="#ffc000"/>
<circle cx="345.2" cy="436.8" r="1.4" fill="#ffc000"/>
<circle cx="347.4" cy="437.7" r="1.4" fill="#ffc000"/>
<circle cx="348.5" cy="435.3" r="1.4" fill="#ffc000"/>
<circle cx="350.5" cy="436.8" r="1.4" fill="#ffc000"/>
<circle cx="351.8" cy="437.9" r="1.4" fill="#ffc000"/>
<circle cx="352.9" cy="434.5" r="1.4" fill="#ffc000"/>
<circle cx="353.9" cy="432.7" r="1.4" fill="#ffc000"/>
<circle cx="355.3" cy="434.8" r="1.4" fill="#ffc000"/>
<circle cx="356.6" cy="436.6" r="1.4" fill="#ffc000"/>
<circle cx="357.5" cy="436.7" r="1.4" fill="#ffc000"/>
<circle cx="359.4" cy="434.2" r="1.4" fill="#ffc000"/>
<circle cx="360.9" cy="435.6" r="1.4" fill="#ffc000"/>
<circle cx="362.4" cy="437.7" r="1.4" fill="#ffc000"/>
<circle cx="363.6" cy="436.3" r="1.4" fill="#ffc000"/>
<circle cx="365.6" cy="437.7" r="1.4" fill="#ffc000"/>
<circle cx="366.7" cy="437.9" r="1.4" fill="#ffc000"/>
<circle cx="367.6" cy="435.7" r="1.4" fill="#ffc000"/>
<circle cx="368.6" cy="435.1" r="1.4" fill="#ffc000"/>
<circle cx="370.4" cy="440.5" r="1.4" fill="#ffc000"/>
<circle cx="372.3" cy="440.0" r="1.4" fill="#ffc000"/>
<circle cx="373.2" cy="434.4" r="1.4" fill="#ffc000"/>
<circle cx="374.3" cy="439.6" r="1.4" fill="#ffc000"/>
<circle cx="375.8" cy="436.8" r="1.4" fill="#ffc000"/>
<circle cx="377.7" cy="434.6" r="1.4" fill="#ffc000"/>
<circle cx="379.3" cy="433.2" r="1.4" fill="#ffc000"/>
<circle cx="379.6" cy="436.3" r="1.4" fill="#ffc000"/>
<circle cx="381.9" cy="436.7" r="1.4" fill="#ffc000"/>
<circle cx="382.9" cy="436.7" r="1.4" fill="#ffc000"/>
<circle cx="385.1" cy="433.6" r="1.4" fill="#ffc000"/>
<circle cx="386.2" cy="439.8" r="1.4" fill="#ffc000"/>
<circle cx="387.7" cy="433.5" r="1.4" fill="#ffc000"/>
<circle cx="388.7" cy="436.3" r="1.4" fill="#ffc000"/>
<circle cx="389.4" cy="433.6" r="1.4" fill="#ffc000"/>
<circle cx="390.9" cy="436.1" r="1.4" fill="#ffc000"/>
<circle cx="395.9" cy="439.0" r="1.4" fill="#ffc000"/>
<circle cx="397.4" cy="449.4" r="1.4" fill="#ffc000"/>
<circle cx="392.2" cy="455.3" r="1.4" fill="#ffc000"/>
<circle cx="390.7" cy="464.2" r="1.4" fill="#ffc000"/>
<circle cx="394.4" cy="462.0" r="1.4" fill="#ffc000"/>
<circle cx="398.8" cy="462.0" r="1.4" fill="#ffc000"/>
<circle cx="404.8" cy="461.2" r="1.4" fill="#ffc000"/>
<circle cx="401.8" cy="468.6" r="1.4" fill="#ffc000"/>
<circle cx="403.3" cy="473.1" r="1.4" fill="#ffc000"/>
<circle cx="389.2" cy="472.3" r="1.4" fill="#ffc000"/>
<circle cx="409.9" cy="457.5" r="1.4" fill="#ffc000"/>
<circle cx="411.4" cy="456.1" r="1.4" fill="#ffc000"/>
<circle cx="414.4" cy="448.7" r="1.4" fill="#ffc000"/>
<circle cx="405.5" cy="454.6" r="1.4" fill="#ffc000"/>
<circle cx="385.4" cy="453.1" r="1.4" fill="#ffc000"/>
<circle cx="389.0" cy="460.0" r="1.4" fill="#ffc000"/>
<circle cx="395.3" cy="450.0" r="1.4" fill="#ffc000"/>
<circle cx="397.5" cy="454.1" r="1.4" fill="#ffc000"/>
<circle cx="402.7" cy="453.7" r="1.4" fill="#ffc000"/>
<circle cx="405.3" cy="461.6" r="1.4" fill="#ffc000"/>
<circle cx="408.2" cy="460.9" r="1.4" fill="#ffc000"/>
<circle cx="412.6" cy="457.3" r="1.4" fill="#ffc000"/>
<circle cx="388.8" cy="472.3" r="1.4" fill="#ffc000"/>
<circle cx="403.0" cy="473.1" r="1.4" fill="#ffc000"/>
<circle cx="404.3" cy="468.5" r="1.4" fill="#ffc000"/>
<circle cx="387.5" cy="465.9" r="1.4" fill="#ffc000"/>
<rect x="317.3" y="426.2" width="2.5" height="2.5" fill="none" stroke="#6a8ed8" stroke-width="0.6"/>
<rect x="319.5" y="424.9" width="2.5" height="2.5" fill="none" stroke="#6a8ed8" stroke-width="0.6"/>
<rect x="322.1" y="427.3" width="2.5" height="2.5" fill="none" stroke="#6a8ed8" stroke-width="0.6"/>
<rect x="323.7" y="430.8" width="2.5" height="2.5" fill="none" stroke="#6a8ed8" stroke-width="0.6"/>
<rect x="327.6" y="426.3" width="2.5" height="2.5" fill="none" stroke="#6a8ed8" stroke-width="0.6"/>
<rect x="328.3" y="430.2" width="2.5" height="2.5" fill="none" stroke="#6a8ed8" stroke-width="0.6"/>
<rect x="332.4" y="427.4" width="2.5" height="2.5" fill="none" stroke="#6a8ed8" stroke-width="0.6"/>
<rect x="335.8" y="425.9" width="2.5" height="2.5" fill="none" stroke="#6a8ed8" stroke-width="0.6"/>
<rect x="336.8" y="428.9" width="2.5" height="2.5" fill="none" stroke="#6a8ed8" stroke-width="0.6"/>
<rect x="339.8" y="429.3" width="2.5" height="2.5" fill="none" stroke="#6a8ed8" stroke-width="0.6"/>
<rect x="342.9" y="427.9" width="2.5" height="2.5" fill="none" stroke="#6a8ed8" stroke-width="0.6"/>
<rect x="345.8" y="424.6" width="2.5" height="2.5" fill="none" stroke="#6a8ed8" stroke-width="0.6"/>
<rect x="347.8" y="431.1" width="2.5" height="2.5" fill="none" stroke="#6a8ed8" stroke-width="0.6"/>
<rect x="351.3" y="427.4" width="2.5" height="2.5" fill="none" stroke="#6a8ed8" stroke-width="0.6"/>
<rect x="354.0" y="428.8" width="2.5" height="2.5" fill="none" stroke="#6a8ed8" stroke-width="0.6"/>
<rect x="354.8" y="425.6" width="2.5" height="2.5" fill="none" stroke="#6a8ed8" stroke-width="0.6"/>
<rect x="357.6" y="430.1" width="2.5" height="2.5" fill="none" stroke="#6a8ed8" stroke-width="0.6"/>
<rect x="361.6" y="425.4" width="2.5" height="2.5" fill="none" stroke="#6a8ed8" stroke-width="0.6"/>
<rect x="364.1" y="428.2" width="2.5" height="2.5" fill="none" stroke="#6a8ed8" stroke-width="0.6"/>
<rect x="365.6" y="428.0" width="2.5" height="2.5" fill="none" stroke="#6a8ed8" stroke-width="0.6"/>
<rect x="367.6" y="428.2" width="2.5" height="2.5" fill="none" stroke="#6a8ed8" stroke-width="0.6"/>
<rect x="372.3" y="423.9" width="2.5" height="2.5" fill="none" stroke="#6a8ed8" stroke-width="0.6"/>
<rect x="372.9" y="430.5" width="2.5" height="2.5" fill="none" stroke="#6a8ed8" stroke-width="0.6"/>
<rect x="376.5" y="430.9" width="2.5" height="2.5" fill="none" stroke="#6a8ed8" stroke-width="0.6"/>
<rect x="380.0" y="427.1" width="2.5" height="2.5" fill="none" stroke="#6a8ed8" stroke-width="0.6"/>
<rect x="380.7" y="429.1" width="2.5" height="2.5" fill="none" stroke="#6a8ed8" stroke-width="0.6"/>
<rect x="384.1" y="427.9" width="2.5" height="2.5" fill="none" stroke="#6a8ed8" stroke-width="0.6"/>
<rect x="387.0" y="426.9" width="2.5" height="2.5" fill="none" stroke="#6a8ed8" stroke-width="0.6"/>
<rect x="390.0" y="429.6" width="2.5" height="2.5" fill="none" stroke="#6a8ed8" stroke-width="0.6"/>
<rect x="393.6" y="431.0" width="2.5" height="2.5" fill="none" stroke="#6a8ed8" stroke-width="0.6"/>
<rect x="383.5" y="445.9" width="2.5" height="2.5" fill="none" stroke="#6a8ed8" stroke-width="0.6"/>
<rect x="385.0" y="453.3" width="2.5" height="2.5" fill="none" stroke="#6a8ed8" stroke-width="0.6"/>
<rect x="382.8" y="460.7" width="2.5" height="2.5" fill="none" stroke="#6a8ed8" stroke-width="0.6"/>
<rect x="388.0" y="443.0" width="2.5" height="2.5" fill="none" stroke="#6a8ed8" stroke-width="0.6"/>
<rect x="392.4" y="450.4" width="2.5" height="2.5" fill="none" stroke="#6a8ed8" stroke-width="0.6"/>
<rect x="393.9" y="454.8" width="2.5" height="2.5" fill="none" stroke="#6a8ed8" stroke-width="0.6"/>
<rect x="399.8" y="445.9" width="2.5" height="2.5" fill="none" stroke="#6a8ed8" stroke-width="0.6"/>
<rect x="402.8" y="443.0" width="2.5" height="2.5" fill="none" stroke="#6a8ed8" stroke-width="0.6"/>
<rect x="404.2" y="447.4" width="2.5" height="2.5" fill="none" stroke="#6a8ed8" stroke-width="0.6"/>
<rect x="407.2" y="442.2" width="2.5" height="2.5" fill="none" stroke="#6a8ed8" stroke-width="0.6"/>
<rect x="408.7" y="451.1" width="2.5" height="2.5" fill="none" stroke="#6a8ed8" stroke-width="0.6"/>
<rect x="411.6" y="450.4" width="2.5" height="2.5" fill="none" stroke="#6a8ed8" stroke-width="0.6"/>
<rect x="413.1" y="445.9" width="2.5" height="2.5" fill="none" stroke="#6a8ed8" stroke-width="0.6"/>
<rect x="417.5" y="440.8" width="2.5" height="2.5" fill="none" stroke="#6a8ed8" stroke-width="0.6"/>
<rect x="420.5" y="468.9" width="2.5" height="2.5" fill="none" stroke="#6a8ed8" stroke-width="0.6"/>
<rect x="427.2" y="468.9" width="2.5" height="2.5" fill="none" stroke="#6a8ed8" stroke-width="0.6"/>
<rect x="427.9" y="454.1" width="2.5" height="2.5" fill="none" stroke="#6a8ed8" stroke-width="0.6"/>
<rect x="432.3" y="465.2" width="2.5" height="2.5" fill="none" stroke="#6a8ed8" stroke-width="0.6"/>
<rect x="436.0" y="468.1" width="2.5" height="2.5" fill="none" stroke="#6a8ed8" stroke-width="0.6"/>
<rect x="437.5" y="455.5" width="2.5" height="2.5" fill="none" stroke="#6a8ed8" stroke-width="0.6"/>
<rect x="390.2" y="463.7" width="2.5" height="2.5" fill="none" stroke="#6a8ed8" stroke-width="0.6"/>
<rect x="393.1" y="469.6" width="2.5" height="2.5" fill="none" stroke="#6a8ed8" stroke-width="0.6"/>
<rect x="399.8" y="457.0" width="2.5" height="2.5" fill="none" stroke="#6a8ed8" stroke-width="0.6"/>
<rect x="405.7" y="454.8" width="2.5" height="2.5" fill="none" stroke="#6a8ed8" stroke-width="0.6"/>
<rect x="413.1" y="454.8" width="2.5" height="2.5" fill="none" stroke="#6a8ed8" stroke-width="0.6"/>
<rect x="410.9" y="466.6" width="2.5" height="2.5" fill="none" stroke="#6a8ed8" stroke-width="0.6"/>
<rect x="384.7" y="445.8" width="2.5" height="2.5" fill="none" stroke="#6a8ed8" stroke-width="0.6"/>
<rect x="388.8" y="454.0" width="2.5" height="2.5" fill="none" stroke="#6a8ed8" stroke-width="0.6"/>
<rect x="391.6" y="456.5" width="2.5" height="2.5" fill="none" stroke="#6a8ed8" stroke-width="0.6"/>
<rect x="394.7" y="447.4" width="2.5" height="2.5" fill="none" stroke="#6a8ed8" stroke-width="0.6"/>
<rect x="400.1" y="444.2" width="2.5" height="2.5" fill="none" stroke="#6a8ed8" stroke-width="0.6"/>
<rect x="401.7" y="447.1" width="2.5" height="2.5" fill="none" stroke="#6a8ed8" stroke-width="0.6"/>
<rect x="404.3" y="448.9" width="2.5" height="2.5" fill="none" stroke="#6a8ed8" stroke-width="0.6"/>
<rect x="408.9" y="444.9" width="2.5" height="2.5" fill="none" stroke="#6a8ed8" stroke-width="0.6"/>
<rect x="412.0" y="447.1" width="2.5" height="2.5" fill="none" stroke="#6a8ed8" stroke-width="0.6"/>
<rect x="415.5" y="454.8" width="2.5" height="2.5" fill="none" stroke="#6a8ed8" stroke-width="0.6"/>
<rect x="419.7" y="461.4" width="2.5" height="2.5" fill="none" stroke="#6a8ed8" stroke-width="0.6"/>
<rect x="422.3" y="445.8" width="2.5" height="2.5" fill="none" stroke="#6a8ed8" stroke-width="0.6"/>
<circle cx="316.9" cy="417.5" r="1.4" fill="#5cad34"/>
<circle cx="318.7" cy="419.0" r="1.4" fill="#5cad34"/>
<circle cx="320.1" cy="419.5" r="1.4" fill="#5cad34"/>
<circle cx="320.4" cy="418.0" r="1.4" fill="#5cad34"/>
<circle cx="322.6" cy="419.4" r="1.4" fill="#5cad34"/>
<circle cx="324.1" cy="418.5" r="1.4" fill="#5cad34"/>
<circle cx="324.4" cy="418.7" r="1.4" fill="#5cad34"/>
<circle cx="326.9" cy="422.2" r="1.4" fill="#5cad34"/>
<circle cx="327.7" cy="418.0" r="1.4" fill="#5cad34"/>
<circle cx="329.0" cy="416.6" r="1.4" fill="#5cad34"/>
<circle cx="331.3" cy="421.1" r="1.4" fill="#5cad34"/>
<circle cx="332.0" cy="419.6" r="1.4" fill="#5cad34"/>
<circle cx="333.7" cy="416.5" r="1.4" fill="#5cad34"/>
<circle cx="334.9" cy="419.7" r="1.4" fill="#5cad34"/>
<circle cx="336.3" cy="419.6" r="1.4" fill="#5cad34"/>
<circle cx="337.5" cy="418.0" r="1.4" fill="#5cad34"/>
<circle cx="338.7" cy="419.7" r="1.4" fill="#5cad34"/>
<circle cx="340.1" cy="420.0" r="1.4" fill="#5cad34"/>
<circle cx="341.7" cy="416.7" r="1.4" fill="#5cad34"/>
<circle cx="343.4" cy="417.3" r="1.4" fill="#5cad34"/>
<circle cx="344.1" cy="420.4" r="1.4" fill="#5cad34"/>
<circle cx="346.5" cy="418.1" r="1.4" fill="#5cad34"/>
<circle cx="346.9" cy="420.1" r="1.4" fill="#5cad34"/>
<circle cx="348.7" cy="420.5" r="1.4" fill="#5cad34"/>
<circle cx="349.9" cy="419.3" r="1.4" fill="#5cad34"/>
<circle cx="351.9" cy="420.3" r="1.4" fill="#5cad34"/>
<circle cx="352.9" cy="415.5" r="1.4" fill="#5cad34"/>
<circle cx="354.9" cy="421.7" r="1.4" fill="#5cad34"/>
<circle cx="355.8" cy="421.7" r="1.4" fill="#5cad34"/>
<circle cx="357.1" cy="418.7" r="1.4" fill="#5cad34"/>
<circle cx="358.3" cy="422.9" r="1.4" fill="#5cad34"/>
<circle cx="360.2" cy="422.7" r="1.4" fill="#5cad34"/>
<circle cx="362.2" cy="413.4" r="1.4" fill="#5cad34"/>
<circle cx="362.6" cy="420.4" r="1.4" fill="#5cad34"/>
<circle cx="364.5" cy="413.9" r="1.4" fill="#5cad34"/>
<circle cx="366.0" cy="417.0" r="1.4" fill="#5cad34"/>
<circle cx="367.0" cy="418.2" r="1.4" fill="#5cad34"/>
<circle cx="368.7" cy="419.8" r="1.4" fill="#5cad34"/>
<circle cx="370.1" cy="419.8" r="1.4" fill="#5cad34"/>
<circle cx="371.4" cy="419.8" r="1.4" fill="#5cad34"/>
<circle cx="372.8" cy="421.0" r="1.4" fill="#5cad34"/>
<circle cx="373.5" cy="418.8" r="1.4" fill="#5cad34"/>
<circle cx="375.9" cy="418.3" r="1.4" fill="#5cad34"/>
<circle cx="376.4" cy="415.0" r="1.4" fill="#5cad34"/>
<circle cx="378.1" cy="417.2" r="1.4" fill="#5cad34"/>
<circle cx="379.3" cy="415.7" r="1.4" fill="#5cad34"/>
<circle cx="381.2" cy="417.5" r="1.4" fill="#5cad34"/>
<circle cx="382.0" cy="417.5" r="1.4" fill="#5cad34"/>
<circle cx="384.2" cy="421.0" r="1.4" fill="#5cad34"/>
<circle cx="385.3" cy="413.4" r="1.4" fill="#5cad34"/>
<circle cx="386.1" cy="419.3" r="1.4" fill="#5cad34"/>
<circle cx="388.4" cy="416.1" r="1.4" fill="#5cad34"/>
<circle cx="388.8" cy="416.1" r="1.4" fill="#5cad34"/>
<circle cx="390.5" cy="414.7" r="1.4" fill="#5cad34"/>
<circle cx="392.2" cy="414.0" r="1.4" fill="#5cad34"/>
<circle cx="393.4" cy="412.6" r="1.4" fill="#5cad34"/>
<circle cx="394.9" cy="414.9" r="1.4" fill="#5cad34"/>
<circle cx="396.0" cy="417.4" r="1.4" fill="#5cad34"/>
<circle cx="398.5" cy="414.7" r="1.4" fill="#5cad34"/>
<circle cx="399.2" cy="414.0" r="1.4" fill="#5cad34"/>
<circle cx="400.3" cy="420.0" r="1.4" fill="#5cad34"/>
<circle cx="401.8" cy="414.7" r="1.4" fill="#5cad34"/>
<circle cx="403.7" cy="417.2" r="1.4" fill="#5cad34"/>
<circle cx="405.3" cy="415.6" r="1.4" fill="#5cad34"/>
<circle cx="407.0" cy="412.4" r="1.4" fill="#5cad34"/>
<circle cx="421.4" cy="450.6" r="1.4" fill="#5cad34"/>
<circle cx="425.3" cy="448.7" r="1.4" fill="#5cad34"/>
<circle cx="427.9" cy="451.9" r="1.4" fill="#5cad34"/>
<circle cx="431.7" cy="457.1" r="1.4" fill="#5cad34"/>
<circle cx="434.3" cy="459.7" r="1.4" fill="#5cad34"/>
<circle cx="436.9" cy="461.0" r="1.4" fill="#5cad34"/>
<circle cx="417.5" cy="446.1" r="1.4" fill="#5cad34"/>
<circle cx="418.8" cy="450.6" r="1.4" fill="#5cad34"/>
<circle cx="409.8" cy="433.8" r="1.4" fill="#5cad34"/>
<circle cx="413.6" cy="451.9" r="1.4" fill="#5cad34"/>
<circle cx="414.9" cy="455.8" r="1.4" fill="#5cad34"/>
<circle cx="504.5" cy="430.1" r="1.4" fill="#5cad34"/>
<circle cx="465.1" cy="443.4" r="1.4" fill="#5cad34"/>
<circle cx="478.0" cy="444.7" r="1.4" fill="#5cad34"/>
<circle cx="479.9" cy="443.9" r="1.4" fill="#5cad34"/>
<circle cx="481.9" cy="443.4" r="1.4" fill="#5cad34"/>
<circle cx="488.7" cy="442.6" r="1.4" fill="#5cad34"/>
<circle cx="503.0" cy="444.9" r="1.4" fill="#5cad34"/>
<circle cx="460.5" cy="449.8" r="1.4" fill="#5cad34"/>
<circle cx="459.2" cy="450.4" r="1.4" fill="#5cad34"/>
<circle cx="467.6" cy="451.7" r="1.4" fill="#5cad34"/>
<circle cx="470.2" cy="451.4" r="1.4" fill="#5cad34"/>
<circle cx="472.2" cy="452.7" r="1.4" fill="#5cad34"/>
<circle cx="476.7" cy="450.8" r="1.4" fill="#5cad34"/>
<circle cx="486.4" cy="450.1" r="1.4" fill="#5cad34"/>
<circle cx="485.8" cy="451.1" r="1.4" fill="#5cad34"/>
<circle cx="495.5" cy="450.1" r="1.4" fill="#5cad34"/>
<circle cx="497.4" cy="448.2" r="1.4" fill="#5cad34"/>
<circle cx="499.3" cy="448.6" r="1.4" fill="#5cad34"/>
<circle cx="501.3" cy="448.8" r="1.4" fill="#5cad34"/>
<circle cx="449.5" cy="455.5" r="1.4" fill="#5cad34"/>
<circle cx="453.4" cy="455.3" r="1.4" fill="#5cad34"/>
<circle cx="457.3" cy="454.6" r="1.4" fill="#5cad34"/>
<circle cx="457.9" cy="456.6" r="1.4" fill="#5cad34"/>
<circle cx="463.8" cy="452.9" r="1.4" fill="#5cad34"/>
<circle cx="475.4" cy="454.2" r="1.4" fill="#5cad34"/>
<circle cx="479.3" cy="455.3" r="1.4" fill="#5cad34"/>
<circle cx="484.5" cy="456.3" r="1.4" fill="#5cad34"/>
<circle cx="490.9" cy="455.9" r="1.4" fill="#5cad34"/>
<circle cx="493.5" cy="457.2" r="1.4" fill="#5cad34"/>
<circle cx="496.1" cy="456.8" r="1.4" fill="#5cad34"/>
<circle cx="499.3" cy="455.3" r="1.4" fill="#5cad34"/>
<circle cx="501.9" cy="454.0" r="1.4" fill="#5cad34"/>
<circle cx="445.6" cy="459.2" r="1.4" fill="#5cad34"/>
<circle cx="447.6" cy="461.5" r="1.4" fill="#5cad34"/>
<circle cx="452.1" cy="460.2" r="1.4" fill="#5cad34"/>
<circle cx="454.7" cy="461.1" r="1.4" fill="#5cad34"/>
<circle cx="466.3" cy="459.4" r="1.4" fill="#5cad34"/>
<circle cx="468.9" cy="462.8" r="1.4" fill="#5cad34"/>
<circle cx="474.1" cy="461.5" r="1.4" fill="#5cad34"/>
<circle cx="489.6" cy="461.5" r="1.4" fill="#5cad34"/>
<circle cx="492.2" cy="459.2" r="1.4" fill="#5cad34"/>
<circle cx="456.0" cy="466.3" r="1.4" fill="#5cad34"/>
<circle cx="462.5" cy="463.7" r="1.4" fill="#5cad34"/>
<circle cx="472.8" cy="465.9" r="1.4" fill="#5cad34"/>
<circle cx="483.2" cy="468.2" r="1.4" fill="#5cad34"/>
<circle cx="450.8" cy="469.8" r="1.4" fill="#5cad34"/>
<circle cx="414.4" cy="450.1" r="1.4" fill="#5cad34"/>
<circle cx="416.6" cy="446.4" r="1.4" fill="#5cad34"/>
<circle cx="418.8" cy="455.3" r="1.4" fill="#5cad34"/>
<circle cx="421.0" cy="452.4" r="1.4" fill="#5cad34"/>
<circle cx="423.2" cy="450.9" r="1.4" fill="#5cad34"/>
<circle cx="425.5" cy="449.4" r="1.4" fill="#5cad34"/>
<circle cx="426.9" cy="453.1" r="1.4" fill="#5cad34"/>
<circle cx="429.1" cy="447.9" r="1.4" fill="#5cad34"/>
<circle cx="430.6" cy="454.6" r="1.4" fill="#5cad34"/>
<circle cx="432.1" cy="459.0" r="1.4" fill="#5cad34"/>
<circle cx="433.6" cy="462.0" r="1.4" fill="#5cad34"/>
<circle cx="435.1" cy="460.5" r="1.4" fill="#5cad34"/>
<circle cx="438.0" cy="462.7" r="1.4" fill="#5cad34"/>
<circle cx="440.2" cy="454.6" r="1.4" fill="#5cad34"/>
<circle cx="442.5" cy="459.8" r="1.4" fill="#5cad34"/>
<circle cx="444.7" cy="459.0" r="1.4" fill="#5cad34"/>
<circle cx="446.9" cy="460.5" r="1.4" fill="#5cad34"/>
<circle cx="418.8" cy="460.5" r="1.4" fill="#5cad34"/>
<circle cx="421.0" cy="462.0" r="1.4" fill="#5cad34"/>
<circle cx="424.0" cy="464.9" r="1.4" fill="#5cad34"/>
<circle cx="417.3" cy="472.3" r="1.4" fill="#5cad34"/>
<circle cx="441.7" cy="467.9" r="1.4" fill="#5cad34"/>
<circle cx="408.4" cy="433.9" r="1.4" fill="#5cad34"/>
<path d="M316.3 410.7L317.7 413.3L314.8 413.3Z" fill="#ff3c3c" fill-opacity="0.85"/>
<path d="M318.3 408.6L319.8 411.2L316.9 411.2Z" fill="#ff3c3c" fill-opacity="0.85"/>
<path d="M318.5 408.2L319.9 410.8L317.0 410.8Z" fill="#ff3c3c" fill-opacity="0.85"/>
<path d="M320.2 408.5L321.6 411.1L318.7 411.1Z" fill="#ff3c3c" fill-opacity="0.85"/>
<path d="M321.7 404.5L323.1 407.1L320.2 407.1Z" fill="#ff3c3c" fill-opacity="0.85"/>
<path d="M323.3 406.2L324.8 408.8L321.9 408.8Z" fill="#ff3c3c" fill-opacity="0.85"/>
<path d="M324.2 407.8L325.7 410.4L322.8 410.4Z" fill="#ff3c3c" fill-opacity="0.85"/>
<path d="M325.4 406.7L326.9 409.3L324.0 409.3Z" fill="#ff3c3c" fill-opacity="0.85"/>
<path d="M326.4 406.9L327.9 409.5L325.0 409.5Z" fill="#ff3c3c" fill-opacity="0.85"/>
<path d="M327.3 409.5L328.7 412.1L325.8 412.1Z" fill="#ff3c3c" fill-opacity="0.85"/>
<path d="M328.4 411.0L329.9 413.6L327.0 413.6Z" fill="#ff3c3c" fill-opacity="0.85"/>
<path d="M329.5 406.7L331.0 409.3L328.1 409.3Z" fill="#ff3c3c" fill-opacity="0.85"/>
<path d="M331.4 407.3L332.9 409.9L330.0 409.9Z" fill="#ff3c3c" fill-opacity="0.85"/>
<path d="M332.9 406.7L334.3 409.3L331.4 409.3Z" fill="#ff3c3c" fill-opacity="0.85"/>
<path d="M334.1 404.6L335.6 407.2L332.7 407.2Z" fill="#ff3c3c" fill-opacity="0.85"/>
<path d="M334.8 405.3L336.3 407.9L333.4 407.9Z" fill="#ff3c3c" fill-opacity="0.85"/>
<path d="M336.1 407.9L337.6 410.5L334.7 410.5Z" fill="#ff3c3c" fill-opacity="0.85"/>
<path d="M337.1 403.2L338.5 405.8L335.6 405.8Z" fill="#ff3c3c" fill-opacity="0.85"/>
<path d="M339.3 404.6L340.7 407.2L337.8 407.2Z" fill="#ff3c3c" fill-opacity="0.85"/>
<path d="M339.9 403.8L341.3 406.4L338.4 406.4Z" fill="#ff3c3c" fill-opacity="0.85"/>
<path d="M341.5 405.8L342.9 408.4L340.0 408.4Z" fill="#ff3c3c" fill-opacity="0.85"/>
<path d="M342.2 407.4L343.7 410.0L340.8 410.0Z" fill="#ff3c3c" fill-opacity="0.85"/>
<path d="M343.3 408.2L344.8 410.8L341.9 410.8Z" fill="#ff3c3c" fill-opacity="0.85"/>
<path d="M344.7 406.1L346.1 408.7L343.2 408.7Z" fill="#ff3c3c" fill-opacity="0.85"/>
<path d="M345.9 404.6L347.4 407.3L344.5 407.3Z" fill="#ff3c3c" fill-opacity="0.85"/>
<path d="M347.1 406.2L348.6 408.8L345.7 408.8Z" fill="#ff3c3c" fill-opacity="0.85"/>
<path d="M348.8 407.4L350.3 410.0L347.4 410.0Z" fill="#ff3c3c" fill-opacity="0.85"/>
<path d="M349.5 405.6L351.0 408.2L348.1 408.2Z" fill="#ff3c3c" fill-opacity="0.85"/>
<path d="M351.4 405.9L352.9 408.5L350.0 408.5Z" fill="#ff3c3c" fill-opacity="0.85"/>
<path d="M352.0 404.2L353.4 406.8L350.5 406.8Z" fill="#ff3c3c" fill-opacity="0.85"/>
<path d="M352.9 410.6L354.4 413.2L351.5 413.2Z" fill="#ff3c3c" fill-opacity="0.85"/>
<path d="M354.3 404.0L355.8 406.6L352.9 406.6Z" fill="#ff3c3c" fill-opacity="0.85"/>
<path d="M356.1 404.5L357.6 407.1L354.7 407.1Z" fill="#ff3c3c" fill-opacity="0.85"/>
<path d="M356.8 407.4L358.2 410.0L355.3 410.0Z" fill="#ff3c3c" fill-opacity="0.85"/>
<path d="M358.3 407.7L359.8 410.3L356.9 410.3Z" fill="#ff3c3c" fill-opacity="0.85"/>
<path d="M359.3 405.2L360.7 407.8L357.8 407.8Z" fill="#ff3c3c" fill-opacity="0.85"/>
<path d="M361.0 407.3L362.4 409.9L359.5 409.9Z" fill="#ff3c3c" fill-opacity="0.85"/>
<path d="M361.7 405.9L363.2 408.5L360.3 408.5Z" fill="#ff3c3c" fill-opacity="0.85"/>
<path d="M363.3 406.7L364.7 409.3L361.8 409.3Z" fill="#ff3c3c" fill-opacity="0.85"/>
<path d="M364.1 407.5L365.5 410.1L362.6 410.1Z" fill="#ff3c3c" fill-opacity="0.85"/>
<path d="M366.0 406.2L367.4 408.8L364.5 408.8Z" fill="#ff3c3c" fill-opacity="0.85"/>
<path d="M367.2 403.6L368.6 406.2L365.7 406.2Z" fill="#ff3c3c" fill-opacity="0.85"/>
<path d="M368.6 405.2L370.1 407.8L367.2 407.8Z" fill="#ff3c3c" fill-opacity="0.85"/>
<path d="M369.9 405.5L371.3 408.1L368.4 408.1Z" fill="#ff3c3c" fill-opacity="0.85"/>
<path d="M370.8 407.1L372.2 409.7L369.3 409.7Z" fill="#ff3c3c" fill-opacity="0.85"/>
<path d="M371.6 405.7L373.1 408.3L370.2 408.3Z" fill="#ff3c3c" fill-opacity="0.85"/>
<path d="M372.4 403.5L373.9 406.1L371.0 406.1Z" fill="#ff3c3c" fill-opacity="0.85"/>
<path d="M373.9 402.6L375.4 405.2L372.5 405.2Z" fill="#ff3c3c" fill-opacity="0.85"/>
<path d="M376.0 404.6L377.5 407.2L374.6 407.2Z" fill="#ff3c3c" fill-opacity="0.85"/>
<path d="M376.9 410.2L378.3 412.8L375.4 412.8Z" fill="#ff3c3c" fill-opacity="0.85"/>
<path d="M377.4 403.2L378.8 405.8L375.9 405.8Z" fill="#ff3c3c" fill-opacity="0.85"/>
<path d="M378.5 407.1L380.0 409.7L377.1 409.7Z" fill="#ff3c3c" fill-opacity="0.85"/>
<path d="M380.4 403.5L381.9 406.1L379.0 406.1Z" fill="#ff3c3c" fill-opacity="0.85"/>
<path d="M381.9 406.4L383.4 409.0L380.5 409.0Z" fill="#ff3c3c" fill-opacity="0.85"/>
<path d="M383.0 404.5L384.4 407.1L381.5 407.1Z" fill="#ff3c3c" fill-opacity="0.85"/>
<path d="M384.4 407.0L385.9 409.6L383.0 409.6Z" fill="#ff3c3c" fill-opacity="0.85"/>
<path d="M385.3 405.3L386.7 407.9L383.8 407.9Z" fill="#ff3c3c" fill-opacity="0.85"/>
<path d="M387.1 408.8L388.5 411.4L385.6 411.4Z" fill="#ff3c3c" fill-opacity="0.85"/>
<path d="M388.0 406.2L389.5 408.8L386.6 408.8Z" fill="#ff3c3c" fill-opacity="0.85"/>
<path d="M389.3 407.6L390.8 410.2L387.9 410.2Z" fill="#ff3c3c" fill-opacity="0.85"/>
<path d="M389.9 405.3L391.3 407.9L388.4 407.9Z" fill="#ff3c3c" fill-opacity="0.85"/>
<path d="M391.0 408.1L392.5 410.7L389.6 410.7Z" fill="#ff3c3c" fill-opacity="0.85"/>
<path d="M406.5 399.4L408.0 402.0L405.1 402.0Z" fill="#ff3c3c" fill-opacity="0.85"/>
<path d="M414.9 401.3L416.4 403.9L413.5 403.9Z" fill="#ff3c3c" fill-opacity="0.85"/>
<path d="M417.5 403.3L419.0 405.9L416.1 405.9Z" fill="#ff3c3c" fill-opacity="0.85"/>
<path d="M411.0 403.9L412.5 406.5L409.6 406.5Z" fill="#ff3c3c" fill-opacity="0.85"/>
<path d="M413.6 402.6L415.1 405.2L412.2 405.2Z" fill="#ff3c3c" fill-opacity="0.85"/>
<path d="M418.8 402.0L420.3 404.6L417.4 404.6Z" fill="#ff3c3c" fill-opacity="0.85"/>
<path d="M392.9 418.1L394.4 420.7L391.5 420.7Z" fill="#ff3c3c" fill-opacity="0.85"/>
<path d="M394.2 421.4L395.7 424.0L392.8 424.0Z" fill="#ff3c3c" fill-opacity="0.85"/>
<path d="M395.5 423.3L397.0 425.9L394.1 425.9Z" fill="#ff3c3c" fill-opacity="0.85"/>
<path d="M399.4 425.2L400.9 427.9L398.0 427.9Z" fill="#ff3c3c" fill-opacity="0.85"/>
<path d="M409.8 424.0L411.2 426.6L408.3 426.6Z" fill="#ff3c3c" fill-opacity="0.85"/>
<path d="M411.0 420.7L412.5 423.3L409.6 423.3Z" fill="#ff3c3c" fill-opacity="0.85"/>
<path d="M411.0 430.4L412.5 433.0L409.6 433.0Z" fill="#ff3c3c" fill-opacity="0.85"/>
<path d="M422.7 441.4L424.1 444.0L421.2 444.0Z" fill="#ff3c3c" fill-opacity="0.85"/>
<path d="M429.2 438.8L430.6 441.4L427.7 441.4Z" fill="#ff3c3c" fill-opacity="0.85"/>
<path d="M431.7 444.6L433.2 447.3L430.3 447.3Z" fill="#ff3c3c" fill-opacity="0.85"/>
<path d="M433.0 440.1L434.5 442.7L431.6 442.7Z" fill="#ff3c3c" fill-opacity="0.85"/>
<path d="M435.6 438.2L437.1 440.8L434.2 440.8Z" fill="#ff3c3c" fill-opacity="0.85"/>
<path d="M436.9 445.3L438.4 447.9L435.5 447.9Z" fill="#ff3c3c" fill-opacity="0.85"/>
<path d="M438.2 437.5L439.7 440.1L436.8 440.1Z" fill="#ff3c3c" fill-opacity="0.85"/>
<path d="M439.5 447.9L441.0 450.5L438.1 450.5Z" fill="#ff3c3c" fill-opacity="0.85"/>
<path d="M425.3 452.4L426.7 455.0L423.8 455.0Z" fill="#ff3c3c" fill-opacity="0.85"/>
<path d="M422.7 460.2L424.1 462.8L421.2 462.8Z" fill="#ff3c3c" fill-opacity="0.85"/>
<path d="M430.5 461.5L431.9 464.1L429.0 464.1Z" fill="#ff3c3c" fill-opacity="0.85"/>
<path d="M445.0 438.3L446.4 440.9L443.6 440.9Z" fill="#ff3c3c" fill-opacity="0.85"/>
<path d="M446.9 439.0L448.4 441.6L445.5 441.6Z" fill="#ff3c3c" fill-opacity="0.85"/>
<path d="M449.5 440.2L451.0 442.9L448.1 442.9Z" fill="#ff3c3c" fill-opacity="0.85"/>
<path d="M452.1 440.9L453.6 443.5L450.7 443.5Z" fill="#ff3c3c" fill-opacity="0.85"/>
<path d="M456.0 439.6L457.4 442.2L454.5 442.2Z" fill="#ff3c3c" fill-opacity="0.85"/>
<path d="M457.9 442.2L459.4 444.8L456.5 444.8Z" fill="#ff3c3c" fill-opacity="0.85"/>
<path d="M457.3 436.4L458.7 439.0L455.8 439.0Z" fill="#ff3c3c" fill-opacity="0.85"/>
<path d="M453.4 435.7L454.9 438.3L452.0 438.3Z" fill="#ff3c3c" fill-opacity="0.85"/>
<path d="M454.7 432.5L456.2 435.1L453.3 435.1Z" fill="#ff3c3c" fill-opacity="0.85"/>
<path d="M447.6 444.1L449.0 446.7L446.1 446.7Z" fill="#ff3c3c" fill-opacity="0.85"/>
<path d="M411.4 430.2L412.9 432.8L410.0 432.8Z" fill="#ff3c3c" fill-opacity="0.85"/>
<path d="M421.8 442.0L423.2 444.6L420.3 444.6Z" fill="#ff3c3c" fill-opacity="0.85"/>
<path d="M424.0 440.6L425.4 443.2L422.5 443.2Z" fill="#ff3c3c" fill-opacity="0.85"/>
<path d="M429.1 439.1L430.6 441.7L427.7 441.7Z" fill="#ff3c3c" fill-opacity="0.85"/>
<path d="M432.1 445.0L433.6 447.6L430.7 447.6Z" fill="#ff3c3c" fill-opacity="0.85"/>
<path d="M433.6 439.8L435.0 442.4L432.1 442.4Z" fill="#ff3c3c" fill-opacity="0.85"/>
<path d="M435.8 437.6L437.3 440.2L434.4 440.2Z" fill="#ff3c3c" fill-opacity="0.85"/>
<path d="M438.0 438.3L439.5 440.9L436.6 440.9Z" fill="#ff3c3c" fill-opacity="0.85"/>
<path d="M439.5 444.3L441.0 446.9L438.1 446.9Z" fill="#ff3c3c" fill-opacity="0.85"/>
<path d="M441.0 447.9L442.4 450.6L439.5 450.6Z" fill="#ff3c3c" fill-opacity="0.85"/>
<path d="M442.5 450.2L443.9 452.8L441.0 452.8Z" fill="#ff3c3c" fill-opacity="0.85"/>
<path d="M443.9 445.7L445.4 448.3L442.5 448.3Z" fill="#ff3c3c" fill-opacity="0.85"/>
<path d="M445.4 442.0L446.9 444.6L444.0 444.6Z" fill="#ff3c3c" fill-opacity="0.85"/>
<path d="M446.9 439.8L448.3 442.4L445.4 442.4Z" fill="#ff3c3c" fill-opacity="0.85"/>
<path d="M448.4 444.3L449.8 446.9L446.9 446.9Z" fill="#ff3c3c" fill-opacity="0.85"/>
<path d="M423.2 452.4L424.7 455.0L421.8 455.0Z" fill="#ff3c3c" fill-opacity="0.85"/>
<path d="M426.2 453.1L427.6 455.7L424.7 455.7Z" fill="#ff3c3c" fill-opacity="0.85"/>
<path d="M422.5 459.8L423.9 462.4L421.0 462.4Z" fill="#ff3c3c" fill-opacity="0.85"/>
<path d="M425.5 463.5L426.9 466.1L424.0 466.1Z" fill="#ff3c3c" fill-opacity="0.85"/>
<path d="M430.6 462.7L432.1 465.3L429.2 465.3Z" fill="#ff3c3c" fill-opacity="0.85"/>
<circle cx="357.1" cy="417.4" r="1.3" fill="none" stroke="#c98a5e" stroke-width="0.6"/>
<circle cx="360.2" cy="416.6" r="1.3" fill="none" stroke="#c98a5e" stroke-width="0.6"/>
<circle cx="363.0" cy="413.6" r="1.3" fill="none" stroke="#c98a5e" stroke-width="0.6"/>
<circle cx="365.9" cy="416.8" r="1.3" fill="none" stroke="#c98a5e" stroke-width="0.6"/>
<circle cx="369.9" cy="413.0" r="1.3" fill="none" stroke="#c98a5e" stroke-width="0.6"/>
<circle cx="371.2" cy="418.3" r="1.3" fill="none" stroke="#c98a5e" stroke-width="0.6"/>
<circle cx="375.9" cy="416.2" r="1.3" fill="none" stroke="#c98a5e" stroke-width="0.6"/>
<circle cx="377.1" cy="416.8" r="1.3" fill="none" stroke="#c98a5e" stroke-width="0.6"/>
<circle cx="381.2" cy="414.0" r="1.3" fill="none" stroke="#c98a5e" stroke-width="0.6"/>
<circle cx="384.0" cy="417.3" r="1.3" fill="none" stroke="#c98a5e" stroke-width="0.6"/>
<circle cx="386.4" cy="414.9" r="1.3" fill="none" stroke="#c98a5e" stroke-width="0.6"/>
<circle cx="388.7" cy="416.8" r="1.3" fill="none" stroke="#c98a5e" stroke-width="0.6"/>
<circle cx="393.1" cy="414.0" r="1.3" fill="none" stroke="#c98a5e" stroke-width="0.6"/>
<circle cx="396.6" cy="416.0" r="1.3" fill="none" stroke="#c98a5e" stroke-width="0.6"/>
<circle cx="397.6" cy="415.2" r="1.3" fill="none" stroke="#c98a5e" stroke-width="0.6"/>
<circle cx="406.2" cy="409.6" r="1.3" fill="none" stroke="#c98a5e" stroke-width="0.6"/>
<circle cx="406.5" cy="410.2" r="1.3" fill="none" stroke="#c98a5e" stroke-width="0.6"/>
<circle cx="408.7" cy="408.2" r="1.3" fill="none" stroke="#c98a5e" stroke-width="0.6"/>
<circle cx="408.8" cy="410.1" r="1.3" fill="none" stroke="#c98a5e" stroke-width="0.6"/>
<circle cx="411.0" cy="408.0" r="1.3" fill="none" stroke="#c98a5e" stroke-width="0.6"/>
<circle cx="411.4" cy="407.9" r="1.3" fill="none" stroke="#c98a5e" stroke-width="0.6"/>
<circle cx="413.5" cy="412.7" r="1.3" fill="none" stroke="#c98a5e" stroke-width="0.6"/>
<circle cx="414.4" cy="412.8" r="1.3" fill="none" stroke="#c98a5e" stroke-width="0.6"/>
<circle cx="415.3" cy="410.9" r="1.3" fill="none" stroke="#c98a5e" stroke-width="0.6"/>
<circle cx="417.3" cy="413.3" r="1.3" fill="none" stroke="#c98a5e" stroke-width="0.6"/>
<circle cx="418.4" cy="411.7" r="1.3" fill="none" stroke="#c98a5e" stroke-width="0.6"/>
<circle cx="418.6" cy="410.6" r="1.3" fill="none" stroke="#c98a5e" stroke-width="0.6"/>
<circle cx="420.5" cy="413.3" r="1.3" fill="none" stroke="#c98a5e" stroke-width="0.6"/>
<circle cx="421.7" cy="409.6" r="1.3" fill="none" stroke="#c98a5e" stroke-width="0.6"/>
<circle cx="422.3" cy="412.2" r="1.3" fill="none" stroke="#c98a5e" stroke-width="0.6"/>
<circle cx="424.1" cy="412.0" r="1.3" fill="none" stroke="#c98a5e" stroke-width="0.6"/>
<circle cx="424.8" cy="410.3" r="1.3" fill="none" stroke="#c98a5e" stroke-width="0.6"/>
<circle cx="426.1" cy="409.2" r="1.3" fill="none" stroke="#c98a5e" stroke-width="0.6"/>
<circle cx="427.2" cy="409.5" r="1.3" fill="none" stroke="#c98a5e" stroke-width="0.6"/>
<circle cx="429.3" cy="412.0" r="1.3" fill="none" stroke="#c98a5e" stroke-width="0.6"/>
<circle cx="430.8" cy="412.1" r="1.3" fill="none" stroke="#c98a5e" stroke-width="0.6"/>
<circle cx="431.8" cy="411.9" r="1.3" fill="none" stroke="#c98a5e" stroke-width="0.6"/>
<circle cx="432.1" cy="411.3" r="1.3" fill="none" stroke="#c98a5e" stroke-width="0.6"/>
<circle cx="434.0" cy="409.6" r="1.3" fill="none" stroke="#c98a5e" stroke-width="0.6"/>
<circle cx="435.4" cy="410.0" r="1.3" fill="none" stroke="#c98a5e" stroke-width="0.6"/>
<circle cx="436.5" cy="414.0" r="1.3" fill="none" stroke="#c98a5e" stroke-width="0.6"/>
<circle cx="435.6" cy="444.2" r="1.3" fill="none" stroke="#c98a5e" stroke-width="0.6"/>
<circle cx="440.8" cy="442.9" r="1.3" fill="none" stroke="#c98a5e" stroke-width="0.6"/>
<circle cx="443.4" cy="441.6" r="1.3" fill="none" stroke="#c98a5e" stroke-width="0.6"/>
<circle cx="444.7" cy="446.1" r="1.3" fill="none" stroke="#c98a5e" stroke-width="0.6"/>
<circle cx="449.5" cy="427.5" r="1.3" fill="none" stroke="#c98a5e" stroke-width="0.6"/>
<circle cx="451.5" cy="435.2" r="1.3" fill="none" stroke="#c98a5e" stroke-width="0.6"/>
<circle cx="450.2" cy="448.8" r="1.3" fill="none" stroke="#c98a5e" stroke-width="0.6"/>
<circle cx="447.6" cy="452.7" r="1.3" fill="none" stroke="#c98a5e" stroke-width="0.6"/>
<circle cx="446.3" cy="455.3" r="1.3" fill="none" stroke="#c98a5e" stroke-width="0.6"/>
<circle cx="445.0" cy="450.1" r="1.3" fill="none" stroke="#c98a5e" stroke-width="0.6"/>
<circle cx="317.0" cy="435.3" r="1.3" fill="#ad5f2c" fill-opacity="0.8"/>
<circle cx="321.2" cy="440.6" r="1.3" fill="#ad5f2c" fill-opacity="0.8"/>
<circle cx="325.7" cy="434.7" r="1.3" fill="#ad5f2c" fill-opacity="0.8"/>
<circle cx="329.6" cy="436.6" r="1.3" fill="#ad5f2c" fill-opacity="0.8"/>
<circle cx="330.4" cy="435.7" r="1.3" fill="#ad5f2c" fill-opacity="0.8"/>
<circle cx="333.3" cy="436.1" r="1.3" fill="#ad5f2c" fill-opacity="0.8"/>
<circle cx="340.2" cy="435.9" r="1.3" fill="#ad5f2c" fill-opacity="0.8"/>
<circle cx="343.6" cy="435.7" r="1.3" fill="#ad5f2c" fill-opacity="0.8"/>
<circle cx="346.5" cy="438.2" r="1.3" fill="#ad5f2c" fill-opacity="0.8"/>
<circle cx="348.1" cy="435.5" r="1.3" fill="#ad5f2c" fill-opacity="0.8"/>
<circle cx="351.5" cy="437.6" r="1.3" fill="#ad5f2c" fill-opacity="0.8"/>
<circle cx="355.4" cy="435.0" r="1.3" fill="#ad5f2c" fill-opacity="0.8"/>
<circle cx="359.1" cy="434.8" r="1.3" fill="#ad5f2c" fill-opacity="0.8"/>
<circle cx="362.3" cy="434.7" r="1.3" fill="#ad5f2c" fill-opacity="0.8"/>
<circle cx="364.8" cy="438.0" r="1.3" fill="#ad5f2c" fill-opacity="0.8"/>
<circle cx="369.9" cy="436.3" r="1.3" fill="#ad5f2c" fill-opacity="0.8"/>
<circle cx="372.1" cy="436.3" r="1.3" fill="#ad5f2c" fill-opacity="0.8"/>
<circle cx="375.1" cy="437.3" r="1.3" fill="#ad5f2c" fill-opacity="0.8"/>
<circle cx="381.2" cy="434.7" r="1.3" fill="#ad5f2c" fill-opacity="0.8"/>
<circle cx="383.1" cy="435.2" r="1.3" fill="#ad5f2c" fill-opacity="0.8"/>
<circle cx="388.2" cy="437.6" r="1.3" fill="#ad5f2c" fill-opacity="0.8"/>
<circle cx="391.0" cy="433.9" r="1.3" fill="#ad5f2c" fill-opacity="0.8"/>
<circle cx="443.9" cy="439.0" r="1.3" fill="none" stroke="#c98a5e" stroke-width="0.6"/>
<circle cx="446.9" cy="439.8" r="1.3" fill="none" stroke="#c98a5e" stroke-width="0.6"/>
<circle cx="441.7" cy="443.5" r="1.3" fill="none" stroke="#c98a5e" stroke-width="0.6"/>
<circle cx="443.2" cy="445.7" r="1.3" fill="none" stroke="#c98a5e" stroke-width="0.6"/>
<circle cx="445.4" cy="450.1" r="1.3" fill="none" stroke="#c98a5e" stroke-width="0.6"/>
<circle cx="447.6" cy="452.4" r="1.3" fill="none" stroke="#c98a5e" stroke-width="0.6"/>
<circle cx="448.4" cy="455.3" r="1.3" fill="none" stroke="#c98a5e" stroke-width="0.6"/>
<circle cx="449.9" cy="456.8" r="1.3" fill="none" stroke="#c98a5e" stroke-width="0.6"/>
<circle cx="439.5" cy="435.4" r="1.3" fill="none" stroke="#c98a5e" stroke-width="0.6"/>
<circle cx="399.6" cy="434.6" r="1.3" fill="none" stroke="#c98a5e" stroke-width="0.6"/>
<circle cx="401.8" cy="436.1" r="1.3" fill="none" stroke="#c98a5e" stroke-width="0.6"/>
<circle cx="392.2" cy="435.4" r="1.3" fill="none" stroke="#c98a5e" stroke-width="0.6"/>
<circle cx="316.8" cy="422.7" r="1.4" fill="#1f86c4"/>
<circle cx="317.1" cy="423.5" r="1.4" fill="#1f86c4"/>
<circle cx="318.8" cy="422.4" r="1.4" fill="#1f86c4"/>
<circle cx="319.8" cy="424.6" r="1.4" fill="#1f86c4"/>
<circle cx="320.3" cy="423.3" r="1.4" fill="#1f86c4"/>
<circle cx="321.0" cy="421.9" r="1.4" fill="#1f86c4"/>
<circle cx="322.6" cy="423.5" r="1.4" fill="#1f86c4"/>
<circle cx="323.2" cy="421.6" r="1.4" fill="#1f86c4"/>
<circle cx="324.0" cy="424.4" r="1.4" fill="#1f86c4"/>
<circle cx="325.0" cy="423.8" r="1.4" fill="#1f86c4"/>
<circle cx="326.1" cy="423.1" r="1.4" fill="#1f86c4"/>
<circle cx="326.9" cy="424.6" r="1.4" fill="#1f86c4"/>
<circle cx="328.3" cy="422.0" r="1.4" fill="#1f86c4"/>
<circle cx="329.6" cy="424.3" r="1.4" fill="#1f86c4"/>
<circle cx="330.6" cy="426.4" r="1.4" fill="#1f86c4"/>
<circle cx="331.0" cy="425.2" r="1.4" fill="#1f86c4"/>
<circle cx="332.7" cy="427.8" r="1.4" fill="#1f86c4"/>
<circle cx="333.7" cy="425.5" r="1.4" fill="#1f86c4"/>
<circle cx="334.4" cy="427.3" r="1.4" fill="#1f86c4"/>
<circle cx="335.6" cy="425.9" r="1.4" fill="#1f86c4"/>
<circle cx="336.6" cy="424.1" r="1.4" fill="#1f86c4"/>
<circle cx="337.4" cy="426.7" r="1.4" fill="#1f86c4"/>
<circle cx="338.5" cy="426.0" r="1.4" fill="#1f86c4"/>
<circle cx="339.7" cy="430.3" r="1.4" fill="#1f86c4"/>
<circle cx="340.6" cy="428.4" r="1.4" fill="#1f86c4"/>
<circle cx="341.5" cy="429.3" r="1.4" fill="#1f86c4"/>
<circle cx="342.5" cy="430.4" r="1.4" fill="#1f86c4"/>
<circle cx="343.6" cy="426.7" r="1.4" fill="#1f86c4"/>
<circle cx="343.9" cy="429.8" r="1.4" fill="#1f86c4"/>
<circle cx="345.0" cy="429.7" r="1.4" fill="#1f86c4"/>
<circle cx="345.9" cy="429.1" r="1.4" fill="#1f86c4"/>
<circle cx="347.0" cy="426.8" r="1.4" fill="#1f86c4"/>
<circle cx="348.2" cy="428.6" r="1.4" fill="#1f86c4"/>
<circle cx="348.9" cy="432.1" r="1.4" fill="#1f86c4"/>
<circle cx="350.0" cy="431.4" r="1.4" fill="#1f86c4"/>
<circle cx="350.7" cy="430.9" r="1.4" fill="#1f86c4"/>
<circle cx="351.6" cy="430.6" r="1.4" fill="#1f86c4"/>
<circle cx="353.2" cy="432.0" r="1.4" fill="#1f86c4"/>
<circle cx="354.2" cy="427.5" r="1.4" fill="#1f86c4"/>
<circle cx="355.4" cy="430.1" r="1.4" fill="#1f86c4"/>
<circle cx="356.1" cy="429.3" r="1.4" fill="#1f86c4"/>
<circle cx="357.2" cy="433.3" r="1.4" fill="#1f86c4"/>
<circle cx="358.4" cy="433.4" r="1.4" fill="#1f86c4"/>
<circle cx="359.3" cy="430.3" r="1.4" fill="#1f86c4"/>
<circle cx="360.5" cy="426.2" r="1.4" fill="#1f86c4"/>
<circle cx="360.6" cy="432.0" r="1.4" fill="#1f86c4"/>
<circle cx="361.8" cy="429.5" r="1.4" fill="#1f86c4"/>
<circle cx="363.4" cy="430.2" r="1.4" fill="#1f86c4"/>
<circle cx="364.1" cy="430.3" r="1.4" fill="#1f86c4"/>
<circle cx="364.8" cy="429.7" r="1.4" fill="#1f86c4"/>
<circle cx="365.6" cy="431.3" r="1.4" fill="#1f86c4"/>
<circle cx="366.9" cy="431.3" r="1.4" fill="#1f86c4"/>
<circle cx="367.5" cy="431.1" r="1.4" fill="#1f86c4"/>
<circle cx="368.8" cy="431.9" r="1.4" fill="#1f86c4"/>
<circle cx="370.3" cy="430.6" r="1.4" fill="#1f86c4"/>
<circle cx="371.0" cy="430.1" r="1.4" fill="#1f86c4"/>
<circle cx="371.4" cy="430.5" r="1.4" fill="#1f86c4"/>
<circle cx="372.7" cy="429.9" r="1.4" fill="#1f86c4"/>
<circle cx="374.0" cy="427.4" r="1.4" fill="#1f86c4"/>
<circle cx="375.1" cy="427.6" r="1.4" fill="#1f86c4"/>
<circle cx="375.5" cy="430.3" r="1.4" fill="#1f86c4"/>
<circle cx="376.9" cy="431.5" r="1.4" fill="#1f86c4"/>
<circle cx="378.3" cy="432.1" r="1.4" fill="#1f86c4"/>
<circle cx="378.4" cy="426.6" r="1.4" fill="#1f86c4"/>
<circle cx="379.6" cy="429.6" r="1.4" fill="#1f86c4"/>
<circle cx="380.4" cy="429.2" r="1.4" fill="#1f86c4"/>
<circle cx="381.5" cy="430.8" r="1.4" fill="#1f86c4"/>
<circle cx="383.0" cy="429.3" r="1.4" fill="#1f86c4"/>
<circle cx="384.1" cy="430.3" r="1.4" fill="#1f86c4"/>
<circle cx="384.9" cy="431.3" r="1.4" fill="#1f86c4"/>
<circle cx="386.1" cy="428.4" r="1.4" fill="#1f86c4"/>
<circle cx="386.4" cy="428.3" r="1.4" fill="#1f86c4"/>
<circle cx="387.2" cy="428.4" r="1.4" fill="#1f86c4"/>
<circle cx="388.2" cy="430.4" r="1.4" fill="#1f86c4"/>
<circle cx="389.5" cy="433.1" r="1.4" fill="#1f86c4"/>
<circle cx="390.2" cy="432.2" r="1.4" fill="#1f86c4"/>
<circle cx="391.4" cy="429.3" r="1.4" fill="#1f86c4"/>
<circle cx="392.4" cy="428.4" r="1.4" fill="#1f86c4"/>
<circle cx="393.1" cy="431.6" r="1.4" fill="#1f86c4"/>
<circle cx="394.7" cy="432.1" r="1.4" fill="#1f86c4"/>
<circle cx="395.4" cy="431.5" r="1.4" fill="#1f86c4"/>
<circle cx="396.9" cy="429.6" r="1.4" fill="#1f86c4"/>
<circle cx="397.7" cy="429.8" r="1.4" fill="#1f86c4"/>
<circle cx="399.0" cy="430.5" r="1.4" fill="#1f86c4"/>
<circle cx="399.8" cy="431.4" r="1.4" fill="#1f86c4"/>
<circle cx="405.9" cy="407.9" r="1.4" fill="#1f86c4"/>
<circle cx="407.8" cy="407.3" r="1.4" fill="#1f86c4"/>
<circle cx="409.8" cy="406.6" r="1.4" fill="#1f86c4"/>
<circle cx="412.3" cy="406.0" r="1.4" fill="#1f86c4"/>
<circle cx="414.9" cy="404.7" r="1.4" fill="#1f86c4"/>
<circle cx="417.5" cy="405.3" r="1.4" fill="#1f86c4"/>
<circle cx="420.1" cy="407.3" r="1.4" fill="#1f86c4"/>
<circle cx="421.4" cy="406.0" r="1.4" fill="#1f86c4"/>
<circle cx="424.0" cy="402.1" r="1.4" fill="#1f86c4"/>
<circle cx="425.3" cy="404.7" r="1.4" fill="#1f86c4"/>
<circle cx="426.6" cy="403.4" r="1.4" fill="#1f86c4"/>
<circle cx="428.5" cy="404.1" r="1.4" fill="#1f86c4"/>
<circle cx="429.8" cy="406.0" r="1.4" fill="#1f86c4"/>
<circle cx="405.2" cy="411.8" r="1.4" fill="#1f86c4"/>
<circle cx="400.7" cy="421.5" r="1.4" fill="#1f86c4"/>
<circle cx="402.6" cy="422.8" r="1.4" fill="#1f86c4"/>
<circle cx="399.4" cy="426.0" r="1.4" fill="#1f86c4"/>
<circle cx="398.1" cy="427.3" r="1.4" fill="#1f86c4"/>
<circle cx="409.1" cy="406.9" r="1.4" fill="#1f86c4"/>
<circle cx="413.6" cy="405.3" r="1.4" fill="#1f86c4"/>
<circle cx="418.8" cy="406.0" r="1.4" fill="#1f86c4"/>
<circle cx="422.7" cy="404.1" r="1.4" fill="#1f86c4"/>
<circle cx="360.3" cy="407.9" r="1.4" fill="#1f86c4"/>
<circle cx="362.2" cy="407.3" r="1.4" fill="#1f86c4"/>
<circle cx="364.2" cy="411.2" r="1.4" fill="#1f86c4"/>
<circle cx="315.8" cy="444.5" r="1.4" fill="#1f86c4"/>
<path d="M315.6 378.0V487.5H525.6" fill="none" stroke="#4a4a4a" stroke-width="1.2"/>
<line x1="313.0" y1="378.0" x2="315.6" y2="378.0" stroke="#4a4a4a" stroke-width="1"/>
<text x="308.1" y="381.0" text-anchor="end" font-size="7.4" font-weight="bold">1.0</text>
<line x1="313.0" y1="405.4" x2="315.6" y2="405.4" stroke="#4a4a4a" stroke-width="1"/>
<text x="308.1" y="408.4" text-anchor="end" font-size="7.4" font-weight="bold">0.5</text>
<line x1="313.0" y1="432.8" x2="315.6" y2="432.8" stroke="#4a4a4a" stroke-width="1"/>
<text x="308.1" y="435.8" text-anchor="end" font-size="7.4" font-weight="bold">0.0</text>
<line x1="313.0" y1="460.1" x2="315.6" y2="460.1" stroke="#4a4a4a" stroke-width="1"/>
<text x="308.1" y="463.1" text-anchor="end" font-size="7.4" font-weight="bold">-0.5</text>
<line x1="313.0" y1="487.5" x2="315.6" y2="487.5" stroke="#4a4a4a" stroke-width="1"/>
<text x="308.1" y="490.5" text-anchor="end" font-size="7.4" font-weight="bold">-1.0</text>
<line x1="315.6" y1="487.5" x2="315.6" y2="490.5" stroke="#4a4a4a" stroke-width="1"/>
<text x="315.6" y="501.1" text-anchor="middle" font-size="7.4" font-weight="bold">0</text>
<line x1="341.9" y1="487.5" x2="341.9" y2="490.5" stroke="#4a4a4a" stroke-width="1"/>
<text x="341.9" y="501.1" text-anchor="middle" font-size="7.4" font-weight="bold">20</text>
<line x1="368.1" y1="487.5" x2="368.1" y2="490.5" stroke="#4a4a4a" stroke-width="1"/>
<text x="368.1" y="501.1" text-anchor="middle" font-size="7.4" font-weight="bold">40</text>
<line x1="394.4" y1="487.5" x2="394.4" y2="490.5" stroke="#4a4a4a" stroke-width="1"/>
<text x="394.4" y="501.1" text-anchor="middle" font-size="7.4" font-weight="bold">60</text>
<line x1="420.6" y1="487.5" x2="420.6" y2="490.5" stroke="#4a4a4a" stroke-width="1"/>
<text x="420.6" y="501.1" text-anchor="middle" font-size="7.4" font-weight="bold">80</text>
<line x1="446.9" y1="487.5" x2="446.9" y2="490.5" stroke="#4a4a4a" stroke-width="1"/>
<text x="446.9" y="501.1" text-anchor="middle" font-size="7.4" font-weight="bold">100</text>
<line x1="473.1" y1="487.5" x2="473.1" y2="490.5" stroke="#4a4a4a" stroke-width="1"/>
<text x="473.1" y="501.1" text-anchor="middle" font-size="7.4" font-weight="bold">120</text>
<line x1="499.4" y1="487.5" x2="499.4" y2="490.5" stroke="#4a4a4a" stroke-width="1"/>
<text x="499.4" y="501.1" text-anchor="middle" font-size="7.4" font-weight="bold">140</text>
<line x1="525.6" y1="487.5" x2="525.6" y2="490.5" stroke="#4a4a4a" stroke-width="1"/>
<text x="525.6" y="501.1" text-anchor="middle" font-size="7.4" font-weight="bold">160</text>
<rect x="318.2" y="373.7" width="132.9" height="17.0" fill="#fff" stroke="#444" stroke-width="1"/>
<circle cx="324.3" cy="378.0" r="1.3" fill="#3a2a20"/>
<text x="328.6" y="380.3" font-size="6.9" font-weight="bold">Beam 1</text>
<circle cx="357.3" cy="378.0" r="1.3" fill="#a6a6a6"/>
<text x="361.6" y="380.3" font-size="6.9" font-weight="bold">Beam 2</text>
<circle cx="390.4" cy="378.0" r="1.3" fill="#ffc000"/>
<text x="394.7" y="380.3" font-size="6.9" font-weight="bold">Beam 3</text>
<circle cx="423.8" cy="378.0" r="1.2" fill="none" stroke="#6a8ed8" stroke-width="0.6"/>
<text x="428.1" y="380.3" font-size="6.9" font-weight="bold">Beam 4</text>
<circle cx="324.3" cy="386.6" r="1.3" fill="#5cad34"/>
<text x="328.6" y="388.9" font-size="6.9" font-weight="bold">Beam 5</text>
<path d="M357.3 385.2L358.7 387.7L355.9 387.7Z" fill="#ff3c3c" fill-opacity="0.85"/>
<text x="361.6" y="388.9" font-size="6.9" font-weight="bold">Beam 6</text>
<circle cx="390.4" cy="386.6" r="1.2" fill="none" stroke="#c98a5e" stroke-width="0.6"/>
<text x="394.7" y="388.9" font-size="6.9" font-weight="bold">Beam 7</text>
<circle cx="423.8" cy="386.6" r="1.3" fill="#1f86c4"/>
<text x="428.1" y="388.9" font-size="6.9" font-weight="bold">Beam 8</text>
<text transform="translate(294.3,451.6) rotate(-90)" text-anchor="middle" font-size="8.10" font-weight="bold">GEDI - <tspan font-style="italic">in-situ</tspan> elevations (m)</text>
<text x="426.6" y="511.6" text-anchor="middle" font-size="8.0" font-weight="bold">GEDI shot number</text>
<text x="409.4" y="539.5" text-anchor="middle" font-size="12.4" letter-spacing="0.5" stroke="#222" stroke-width="0.2">(h)</text>
</svg></body></html>
